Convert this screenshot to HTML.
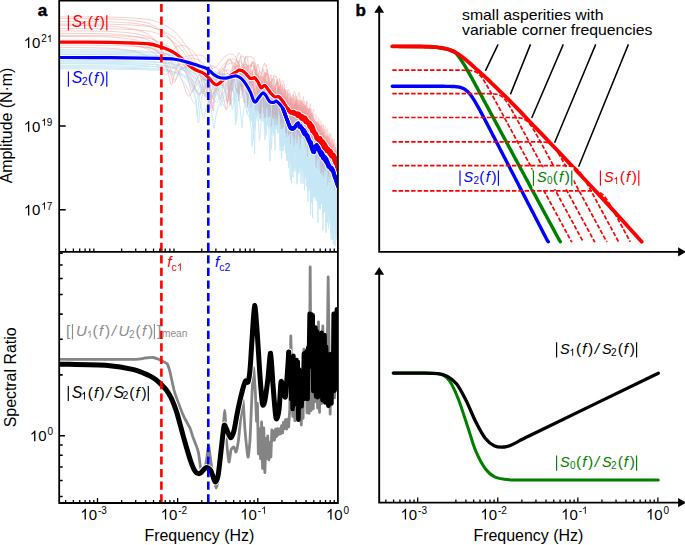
<!DOCTYPE html>
<html><head><meta charset="utf-8"><style>
html,body{margin:0;padding:0;background:#fff;width:685px;height:545px;overflow:hidden}
svg{display:block}
text{font-family:"Liberation Sans",sans-serif}
</style></head><body>
<svg width="685" height="545" viewBox="0 0 685 545">
<defs><clipPath id="cu"><rect x="59.2" y="0.55" width="278.7" height="251.35"/></clipPath>
<clipPath id="cl"><rect x="59.2" y="251.9" width="278.7" height="251.1"/></clipPath></defs>
<path d="M59.2,42.3H65.7M59.2,126.05H65.7M59.2,209.8H65.7M59.2,435.7H64.9M59.2,496.51H62.7M59.2,480.51H62.7M59.2,466.99H62.7M59.2,455.28H62.7M59.2,444.94H62.7M59.2,374.89H62.7M59.2,339.32H62.7M59.2,314.08H62.7M59.2,294.51H62.7M59.2,278.51H62.7M59.2,264.99H62.7M59.2,253.28H62.7" stroke="#000" fill="none" stroke-width="1.6"/>
<g clip-path="url(#cu)" fill="none" stroke-linejoin="round">
<linearGradient id="gr" gradientUnits="userSpaceOnUse" x1="275" y1="0" x2="338" y2="0"><stop offset="0" stop-color="#f09a9a" stop-opacity="0.55"/><stop offset="1" stop-color="#f09a9a" stop-opacity="0.22"/></linearGradient>
<g stroke="url(#gr)" stroke-width="0.9">
<path d="M60,16.85 L63,16.86 L66,16.87 L69,16.87 L72,16.88 L75,16.89 L78,16.9 L81,16.91 L84,16.91 L87,16.92 L90,16.93 L93,16.95 L96,16.96 L99,16.97 L102,16.99 L105,17 L108,17.02 L111,17.07 L114,17.18 L117,17.3 L120,17.42 L123,17.54 L126,17.67 L129,17.81 L132,17.96 L135,18.19 L138,18.43 L141,18.68 L144,18.95 L147,19.24 L150,19.64 L150.8,19.89 L151.6,20.15 L152.4,20.4 L153.2,20.66 L154,20.92 L154.8,21.19 L155.6,21.46 L156.4,21.72 L157.2,22 L158,22.27 L158.8,22.55 L159.6,22.84 L160.4,23.12 L161.2,23.47 L162,23.86 L162.8,24.25 L163.6,24.64 L164.4,25.04 L165.2,25.45 L166,25.86 L166.8,26.27 L167.6,26.69 L168.4,27.12 L169.2,27.56 L170,28.1 L170.8,28.71 L171.6,29.33 L172.4,29.96 L173.2,30.6 L174,31.25 L174.8,31.9 L175.6,32.57 L176.4,33.33 L177.2,34.23 L178,35.14 L178.8,36.07 L179.6,37.01 L180.4,37.97 L181.2,38.95 L182,39.95 L182.8,40.97 L183.6,42.08 L184.4,43.22 L185.2,44.38 L186,45.58 L186.8,46.8 L187.6,48.06 L188.4,49.35 L189.2,50.69 L190,51.89 L190.8,53.12 L191.6,54.4 L192.4,55.75 L193.2,57.17 L194,58.68 L194.8,60.28 L195.6,61.98 L196.4,63.68 L197.2,65.43 L198,67.35 L198.8,69.42 L199.6,71.65 L200.4,73.97 L201.2,76.19 L202,77.94 L202.8,78.76 L203.6,78.48 L204.4,77.27 L205.2,75.71 L206,74.29 L206.8,72.97 L207.6,71.82 L208.4,70.84 L209.2,70.01 L210,69.38 L210.8,68.98 L211.6,68.69 L212.4,68.5 L213.2,68.4 L214,67.95 L214.8,67.57 L215.6,67.26 L216.4,66.69 L217.2,65.66 L218,64.68 L218.8,63.76 L219.6,62.66 L220.4,61.54 L221.2,60.48 L222,59.47 L222.8,58.62 L223.6,57.83 L224.4,57.1 L225.2,56.43 L226,55.82 L226.8,55.27 L227.6,54.8 L228.4,54.45 L229.2,54.24 L230,54.11 L230.8,54.1 L231.6,54.19 L232.4,54.33 L233.2,54.77 L234,55.25 L234.8,56.13 L235.6,56.98 L236.4,58.53 L237.2,60.22 L238,62.84 L238.8,65.82 L239.6,70.9 L240.4,76.78 L241.2,77.92 L242,72.67 L242.8,67.13 L243.6,63.66 L244.4,60.99 L245.2,59.24 L246,57.05 L246.8,56.31 L247.6,56.78 L248.4,57.4 L249.2,55.96 L250,56.36 L250.5,56.72 L251,56.48 L251.5,56.76 L252,57.02 L252.5,58.01 L253,57.92 L253.5,58.49 L254,58.47 L254.5,60.3 L255,62.56 L255.5,64.12 L256,66.11 L256.5,68.59 L257,73.24 L257.5,77.91 L258,83.88 L258.5,89.47 L259,89.71 L259.5,83.97 L260,79.76 L260.5,77.46 L261,74.52 L261.5,72.58 L262,71.4 L262.5,68.15 L263,67.12 L263.5,66.4 L264,64.54 L264.5,63.18 L265,64.74 L265.5,65.91 L266,64.91 L266.5,67.25 L267,68.73 L267.5,72.16 L268,72.39 L268.5,76.75 L269,80.04 L269.5,86.35 L270,95.73 L270.5,100.37 L271,92.72 L271.5,86.09 L272,81.21 L272.5,80.59 L273,79.14 L273.5,76.48 L274,75.41 L274.5,76.69 L275,76.1 L275.5,76.1 L276,77.34 L276.5,76.76 L277,78.66 L277.5,82.39 L278,85.38 L278.5,93.31 L279,104.57 L279.5,100.18 L280,91.46 L280.5,84.41 L281,82.67 L281.5,81.33 L282,81.11 L282.5,81.14 L283,80.56 L283.5,82.19 L284,83.45 L284.5,87.71 L285,92.37 L285.5,99.56 L286,113.77 L286.5,108.6 L287,100.21 L287.5,93.9 L288,90.71 L288.5,89.95 L289,90.31 L289.5,90.83 L290,92.57 L290.5,95.12 L291,99.94 L291.5,112.23 L292,121.91 L292.5,105.21 L293,99.68 L293.5,93.62 L294,92.75 L294.5,91.18 L295,92.92 L295.5,94.28 L296,99.53 L296.5,110.23 L297,122.12 L297.5,103.72 L298,100.46 L298.5,92.88 L299,92.51 L299.5,94.37 L300,98.37 L300.5,103.32 L301,115.27 L301.5,119.11 L302,104.89 L302.5,99.33 L303,98.29 L303.5,96.68 L304,103.07 L304.5,108.52 L305,123.27 L305.5,114.56 L306,104.54 L306.5,101.48 L307,100.74 L307.5,101.82 L308,108.33 L308.5,128.73 L309,115.27 L309.5,106.59 L310,106.11 L310.5,103.57 L311,110.68 L311.5,123.73 L312,130.08 L312.5,115.14 L313,109.83 L313.5,108.99 L314,117.38 L314.5,132.9 L315,129 L315.5,118.53 L316,114.36 L316.5,116.72 L317,125.69 L317.5,140.12 L318,123.11 L318.5,117.11 L319,120.07 L319.5,130.89 L320,143.07 L320.5,123.25 L321,120.48 L321.5,123.06 L322,138.82 L322.5,135.05 L323,125.65 L323.5,124.02 L324,133.46 L324.5,144.48 L325,130.72 L325.5,125.77 L326,133.66 L326.5,150.08 L327,131.96 L327.5,128.43 L328,135.59 L328.5,147.88 L329,132.26 L329.5,132.01 L330,147.76 L330.5,140.9 L331,133.39 L331.5,139.95 L332,157.79 L332.5,137.6 L333,137.91 L333.5,160.78 L334,141.02 L334.5,138.35 L335,152.65 L335.5,146.77 L336,143.44 L336.5,156.73 L337,149.54 L337.5,147.56 L338,166.18 L338.5,154"/>
<path d="M60,18.55 L63,18.55 L66,18.56 L69,18.57 L72,18.59 L75,18.6 L78,18.61 L81,18.63 L84,18.64 L87,18.66 L90,18.68 L93,18.7 L96,18.73 L99,18.76 L102,18.8 L105,18.84 L108,18.89 L111,18.97 L114,19.13 L117,19.3 L120,19.48 L123,19.68 L126,19.91 L129,20.15 L132,20.43 L135,20.82 L138,21.25 L141,21.74 L144,22.3 L147,22.93 L150,23.75 L150.8,24.12 L151.6,24.51 L152.4,24.91 L153.2,25.32 L154,25.73 L154.8,26.16 L155.6,26.6 L156.4,27.06 L157.2,27.52 L158,28 L158.8,28.5 L159.6,29.01 L160.4,29.54 L161.2,30.15 L162,30.81 L162.8,31.49 L163.6,32.19 L164.4,32.91 L165.2,33.66 L166,34.44 L166.8,35.25 L167.6,36.08 L168.4,36.95 L169.2,37.86 L170,38.9 L170.8,40.05 L171.6,41.23 L172.4,42.45 L173.2,43.72 L174,45.03 L174.8,46.37 L175.6,47.74 L176.4,49.19 L177.2,50.75 L178,52.24 L178.8,53.62 L179.6,54.82 L180.4,55.78 L181.2,56.45 L182,56.83 L182.8,56.96 L183.6,56.97 L184.4,56.85 L185.2,56.67 L186,56.45 L186.8,56.25 L187.6,56.06 L188.4,55.92 L189.2,55.82 L190,55.59 L190.8,55.38 L191.6,55.21 L192.4,55.1 L193.2,55.03 L194,55.01 L194.8,55.03 L195.6,55.09 L196.4,55.07 L197.2,55.02 L198,55 L198.8,55.03 L199.6,55.11 L200.4,55.23 L201.2,55.39 L202,55.6 L202.8,55.93 L203.6,56.43 L204.4,56.98 L205.2,57.66 L206,58.6 L206.8,59.61 L207.6,60.7 L208.4,61.87 L209.2,63.13 L210,64.56 L210.8,66.2 L211.6,67.97 L212.4,69.91 L213.2,72.03 L214,73.94 L214.8,76.12 L215.6,78.63 L216.4,81.17 L217.2,83.48 L218,85.59 L218.8,86.25 L219.6,84.3 L220.4,80.92 L221.2,77.42 L222,74.25 L222.8,71.57 L223.6,69.26 L224.4,67.26 L225.2,65.54 L226,64.07 L226.8,62.84 L227.6,61.85 L228.4,61.13 L229.2,60.71 L230,60.55 L230.8,60.67 L231.6,61.2 L232.4,61.98 L233.2,63.28 L234,65.43 L234.8,68.33 L235.6,72.23 L236.4,74.95 L237.2,72.49 L238,67.18 L238.8,63.11 L239.6,59.93 L240.4,57.92 L241.2,56.89 L242,56.06 L242.8,55.75 L243.6,57.09 L244.4,58.21 L245.2,61.08 L246,63.84 L246.8,69.14 L247.6,75.55 L248.4,79.78 L249.2,75.25 L250,70.19 L250.5,67.19 L251,65.2 L251.5,64.89 L252,63.51 L252.5,62.99 L253,63.45 L253.5,62.71 L254,64.3 L254.5,65.55 L255,67.32 L255.5,70.07 L256,74.74 L256.5,81.15 L257,84.1 L257.5,81.52 L258,76.73 L258.5,73.95 L259,72.27 L259.5,71.36 L260,71.3 L260.5,72.08 L261,73.36 L261.5,73.22 L262,73.92 L262.5,76.27 L263,79.62 L263.5,84.19 L264,89.18 L264.5,83.16 L265,79.88 L265.5,75.06 L266,72.67 L266.5,73.27 L267,73.16 L267.5,74.89 L268,76.4 L268.5,81.13 L269,84.36 L269.5,92.69 L270,93.34 L270.5,86.78 L271,81.55 L271.5,81.2 L272,78.28 L272.5,80.18 L273,81.67 L273.5,84.53 L274,87.82 L274.5,98.12 L275,97.2 L275.5,90.3 L276,84.75 L276.5,84.39 L277,81.16 L277.5,82.23 L278,85.33 L278.5,89 L279,99.23 L279.5,94.83 L280,88.52 L280.5,84.72 L281,86.1 L281.5,87.46 L282,90.23 L282.5,96.23 L283,106.23 L283.5,99.47 L284,93.79 L284.5,90.83 L285,90.31 L285.5,95.51 L286,102.32 L286.5,111.03 L287,101.04 L287.5,94.28 L288,92.68 L288.5,94.53 L289,101.74 L289.5,113.18 L290,106.5 L290.5,99.85 L291,99.27 L291.5,97.22 L292,103.72 L292.5,114.62 L293,107.92 L293.5,98.78 L294,99.8 L294.5,102.27 L295,111.05 L295.5,110.36 L296,101.01 L296.5,99.42 L297,102.23 L297.5,113.87 L298,110.93 L298.5,100.87 L299,101.59 L299.5,104.69 L300,118.01 L300.5,106.48 L301,100.97 L301.5,103.2 L302,113.97 L302.5,113.02 L303,105.02 L303.5,103.74 L304,116.01 L304.5,114.23 L305,104.39 L305.5,104.81 L306,118.27 L306.5,113.14 L307,106.87 L307.5,113.52 L308,127.29 L308.5,111.48 L309,107.96 L309.5,118.12 L310,118.59 L310.5,110.5 L311,112.84 L311.5,128.46 L312,113.06 L312.5,118.99 L313,133.29 L313.5,118.91 L314,118.87 L314.5,135.3 L315,120.58 L315.5,121.02 L316,137.53 L316.5,122.04 L317,123.45 L317.5,135.75 L318,123.89 L318.5,132.82 L319,130.6 L319.5,124.77 L320,140.75 L320.5,127 L321,132.86 L321.5,132.23 L322,128.68 L322.5,143.38 L323,128.12 L323.5,144.34 L324,132.52 L324.5,138.48 L325,137.38 L325.5,136.47 L326,139.99 L326.5,135.66 L327,144 L327.5,135.8 L328,144.19 L328.5,135.75 L329,144.1 L329.5,138.32 L330,145.27 L330.5,141.57 L331,144.58 L331.5,144.6 L332,138.98 L332.5,152.62 L333,141.53 L333.5,155.9 L334,142.8 L334.5,147.09 L335,155.32 L335.5,146.92 L336,160.18 L336.5,150.82 L337,152.43 L337.5,171.63 L338,156.57 L338.5,155.54"/>
<path d="M60,21.49 L63,21.5 L66,21.51 L69,21.52 L72,21.53 L75,21.54 L78,21.55 L81,21.56 L84,21.57 L87,21.59 L90,21.61 L93,21.63 L96,21.65 L99,21.67 L102,21.7 L105,21.74 L108,21.78 L111,21.85 L114,22 L117,22.15 L120,22.31 L123,22.49 L126,22.69 L129,22.9 L132,23.14 L135,23.49 L138,23.86 L141,24.28 L144,24.76 L147,25.29 L150,25.98 L150.8,26.32 L151.6,26.67 L152.4,27.02 L153.2,27.38 L154,27.75 L154.8,28.13 L155.6,28.52 L156.4,28.91 L157.2,29.32 L158,29.74 L158.8,30.16 L159.6,30.6 L160.4,31.05 L161.2,31.57 L162,32.14 L162.8,32.72 L163.6,33.31 L164.4,33.93 L165.2,34.56 L166,35.2 L166.8,35.87 L167.6,36.55 L168.4,37.26 L169.2,37.99 L170,38.84 L170.8,39.78 L171.6,40.75 L172.4,41.75 L173.2,42.78 L174,43.84 L174.8,44.95 L175.6,46.09 L176.4,47.35 L177.2,48.79 L178,50.29 L178.8,51.84 L179.6,53.46 L180.4,55.14 L181.2,56.92 L182,58.78 L182.8,60.75 L183.6,62.91 L184.4,65.21 L185.2,67.67 L186,70.32 L186.8,73.19 L187.6,76.32 L188.4,79.72 L189.2,83.4 L190,87 L190.8,90.19 L191.6,92.04 L192.4,91.8 L193.2,89.9 L194,87.38 L194.8,84.87 L195.6,82.6 L196.4,80.49 L197.2,78.56 L198,76.88 L198.8,75.39 L199.6,74.08 L200.4,72.93 L201.2,71.9 L202,70.99 L202.8,70.26 L203.6,69.73 L204.4,69.3 L205.2,69 L206,68.99 L206.8,69.05 L207.6,69.18 L208.4,69.37 L209.2,69.63 L210,70 L210.8,70.54 L211.6,71.15 L212.4,71.81 L213.2,72.55 L214,72.92 L214.8,73.36 L215.6,73.88 L216.4,74.16 L217.2,74 L218,73.93 L218.8,73.98 L219.6,73.91 L220.4,73.9 L221.2,74.04 L222,74.37 L222.8,75 L223.6,75.89 L224.4,77.08 L225.2,78.66 L226,80.75 L226.8,83.54 L227.6,87.37 L228.4,92.86 L229.2,100.68 L230,105.38 L230.8,97.13 L231.6,88.65 L232.4,82.42 L233.2,77.5 L234,73.67 L234.8,70.49 L235.6,67.87 L236.4,65.91 L237.2,63.97 L238,62.31 L238.8,61.16 L239.6,61.31 L240.4,61.04 L241.2,61.73 L242,62.96 L242.8,64.9 L243.6,67.54 L244.4,70.45 L245.2,74.76 L246,81.24 L246.8,91.95 L247.6,105.94 L248.4,96.19 L249.2,86.39 L250,80.34 L250.5,76.65 L251,74.4 L251.5,73.12 L252,71.97 L252.5,70.35 L253,70.4 L253.5,68.42 L254,68.86 L254.5,68.48 L255,70.06 L255.5,71.53 L256,72.95 L256.5,75.65 L257,79.13 L257.5,81.87 L258,87.19 L258.5,94.6 L259,106.44 L259.5,113.61 L260,101.65 L260.5,95.35 L261,89.37 L261.5,84.56 L262,83.11 L262.5,79.54 L263,78.93 L263.5,78.14 L264,76.05 L264.5,75.85 L265,78.7 L265.5,78.81 L266,82.09 L266.5,86.5 L267,92.4 L267.5,103.15 L268,117.6 L268.5,109.04 L269,100.22 L269.5,93.27 L270,88.81 L270.5,88.1 L271,86.17 L271.5,85.77 L272,84.99 L272.5,86.73 L273,90.32 L273.5,93.14 L274,97.89 L274.5,106.12 L275,125.4 L275.5,114.59 L276,102.96 L276.5,95.92 L277,91.99 L277.5,88.8 L278,88.08 L278.5,87.46 L279,90.3 L279.5,94.23 L280,100.69 L280.5,111.52 L281,129.01 L281.5,109.06 L282,99.14 L282.5,95.9 L283,94.73 L283.5,93.53 L284,97.47 L284.5,99.82 L285,107.23 L285.5,119.27 L286,133.05 L286.5,112.18 L287,106.27 L287.5,101.29 L288,99.91 L288.5,102.17 L289,105.46 L289.5,112.53 L290,127.06 L290.5,132.55 L291,111.34 L291.5,108.19 L292,103.45 L292.5,105.11 L293,107.28 L293.5,115.32 L294,137.52 L294.5,122.95 L295,108.22 L295.5,104.77 L296,101.69 L296.5,106.43 L297,114.1 L297.5,138.03 L298,122.52 L298.5,111.59 L299,105.19 L299.5,107.77 L300,112.34 L300.5,128.6 L301,135.41 L301.5,115.7 L302,110.37 L302.5,108.34 L303,114.44 L303.5,136.3 L304,125.74 L304.5,113.78 L305,111.17 L305.5,114.44 L306,124.35 L306.5,140.92 L307,119.21 L307.5,114.97 L308,115.72 L308.5,127.39 L309,143.7 L309.5,121.97 L310,115.89 L310.5,121.13 L311,140.11 L311.5,132.68 L312,118.92 L312.5,121.42 L313,132.5 L313.5,145.67 L314,126.24 L314.5,122.96 L315,132.64 L315.5,154.95 L316,132.63 L316.5,129.03 L317,137.19 L317.5,151.97 L318,130.77 L318.5,132.89 L319,151.15 L319.5,142.89 L320,133.06 L320.5,138.11 L321,161.14 L321.5,135.86 L322,136.5 L322.5,166.48 L323,143.48 L323.5,136.97 L324,158.49 L324.5,145.37 L325,139 L325.5,154.86 L326,146.68 L326.5,141.08 L327,162.19 L327.5,145.11 L328,143.1 L328.5,182.52 L329,145.62 L329.5,147.66 L330,162.46 L330.5,144.32 L331,162.41 L331.5,151.53 L332,149.97 L332.5,167.12 L333,147.68 L333.5,169.06 L334,152.22 L334.5,159.85 L335,154.95 L335.5,150.97 L336,168.83 L336.5,156.73 L337,188.35 L337.5,159.73 L338,198.87 L338.5,159.91"/>
<path d="M60,24 L63,24.01 L66,24.01 L69,24.02 L72,24.03 L75,24.04 L78,24.04 L81,24.05 L84,24.06 L87,24.07 L90,24.08 L93,24.09 L96,24.1 L99,24.11 L102,24.13 L105,24.14 L108,24.16 L111,24.21 L114,24.32 L117,24.43 L120,24.55 L123,24.67 L126,24.79 L129,24.92 L132,25.06 L135,25.28 L138,25.51 L141,25.75 L144,26 L147,26.27 L150,26.64 L150.8,26.89 L151.6,27.14 L152.4,27.38 L153.2,27.63 L154,27.89 L154.8,28.14 L155.6,28.4 L156.4,28.66 L157.2,28.92 L158,29.18 L158.8,29.45 L159.6,29.72 L160.4,29.99 L161.2,30.33 L162,30.7 L162.8,31.07 L163.6,31.45 L164.4,31.83 L165.2,32.22 L166,32.61 L166.8,33 L167.6,33.4 L168.4,33.81 L169.2,34.22 L170,34.74 L170.8,35.32 L171.6,35.91 L172.4,36.51 L173.2,37.11 L174,37.73 L174.8,38.35 L175.6,38.98 L176.4,39.7 L177.2,40.55 L178,41.42 L178.8,42.3 L179.6,43.19 L180.4,44.09 L181.2,45.01 L182,45.95 L182.8,46.91 L183.6,47.95 L184.4,49.01 L185.2,50.09 L186,51.19 L186.8,52.32 L187.6,53.48 L188.4,54.66 L189.2,55.88 L190,56.95 L190.8,58.04 L191.6,59.17 L192.4,60.35 L193.2,61.59 L194,62.89 L194.8,64.26 L195.6,65.72 L196.4,67.15 L197.2,68.62 L198,70.22 L198.8,72 L199.6,73.99 L200.4,76.25 L201.2,78.86 L202,81.95 L202.8,85.75 L203.6,90.44 L204.4,95.29 L205.2,96.89 L206,93.82 L206.8,89.93 L207.6,86.75 L208.4,84.28 L209.2,82.36 L210,80.9 L210.8,79.84 L211.6,79.02 L212.4,78.39 L213.2,77.92 L214,77.15 L214.8,76.49 L215.6,75.93 L216.4,75.14 L217.2,73.9 L218,72.74 L218.8,71.64 L219.6,70.37 L220.4,69.09 L221.2,67.87 L222,66.71 L222.8,65.71 L223.6,64.76 L224.4,63.87 L225.2,63.03 L226,62.26 L226.8,61.54 L227.6,60.88 L228.4,60.33 L229.2,59.9 L230,59.54 L230.8,59.26 L231.6,59.05 L232.4,58.88 L233.2,58.96 L234,59.1 L234.8,59.27 L235.6,59.66 L236.4,60.02 L237.2,61.17 L238,62.04 L238.8,63.3 L239.6,65.94 L240.4,69.13 L241.2,73.47 L242,79.95 L242.8,91.53 L243.6,91.67 L244.4,81.32 L245.2,75.51 L246,71.68 L246.8,69.56 L247.6,67.62 L248.4,66.06 L249.2,65.43 L250,65.51 L250.5,63.95 L251,63.9 L251.5,63.96 L252,64.19 L252.5,62.64 L253,62.85 L253.5,62.89 L254,62.93 L254.5,63.43 L255,64.67 L255.5,65.71 L256,68.17 L256.5,69 L257,69.09 L257.5,70.94 L258,74.18 L258.5,77.2 L259,81.69 L259.5,86.01 L260,92.32 L260.5,101.41 L261,113.35 L261.5,100.75 L262,91.87 L262.5,86.93 L263,81.62 L263.5,80.13 L264,77.41 L264.5,76.98 L265,73.96 L265.5,72.43 L266,72.9 L266.5,73.3 L267,73.18 L267.5,73.38 L268,74.84 L268.5,75.19 L269,78.67 L269.5,78.38 L270,82.36 L270.5,85.57 L271,88.81 L271.5,94.64 L272,101.29 L272.5,116.36 L273,109.64 L273.5,98.31 L274,93.19 L274.5,90.17 L275,88.5 L275.5,84.43 L276,83.43 L276.5,82.26 L277,83.19 L277.5,81.74 L278,83.71 L278.5,83.09 L279,84.63 L279.5,87.49 L280,90.43 L280.5,95.34 L281,107.85 L281.5,122.93 L282,107.79 L282.5,98.77 L283,95.44 L283.5,92.45 L284,90.97 L284.5,89.27 L285,89.88 L285.5,93.87 L286,93.28 L286.5,95.78 L287,100.94 L287.5,105.61 L288,116.29 L288.5,134.6 L289,113.38 L289.5,105.22 L290,101.41 L290.5,99.01 L291,99.01 L291.5,98.97 L292,98.31 L292.5,100.61 L293,102.49 L293.5,110.41 L294,126.37 L294.5,121.85 L295,109.76 L295.5,103.14 L296,100.43 L296.5,100.16 L297,98.8 L297.5,102.99 L298,106.64 L298.5,113.04 L299,126.3 L299.5,120.89 L300,110.18 L300.5,105.82 L301,103.26 L301.5,102.71 L302,104.4 L302.5,107.64 L303,116.64 L303.5,138.71 L304,119.96 L304.5,111.04 L305,105.93 L305.5,110.06 L306,107.18 L306.5,111.41 L307,119.43 L307.5,143.1 L308,118.97 L308.5,113.52 L309,109.49 L309.5,112.27 L310,113.34 L310.5,124.85 L311,142.66 L311.5,121.88 L312,117.01 L312.5,113.13 L313,118.22 L313.5,125.07 L314,146.97 L314.5,129.09 L315,121.45 L315.5,120.95 L316,124.45 L316.5,130.18 L317,161.32 L317.5,130.97 L318,121.85 L318.5,125.33 L319,129.48 L319.5,147 L320,140.52 L320.5,128.78 L321,126.79 L321.5,133.41 L322,149.99 L322.5,140.66 L323,131.16 L323.5,131.06 L324,138.3 L324.5,170.06 L325,136.57 L325.5,134.91 L326,136.12 L326.5,154.22 L327,145.57 L327.5,135.74 L328,138.48 L328.5,154.15 L329,149.09 L329.5,138.09 L330,141.78 L330.5,159.28 L331,146.29 L331.5,139.42 L332,145.65 L332.5,175.28 L333,146.78 L333.5,144.66 L334,158.05 L334.5,155.01 L335,146.69 L335.5,151.3 L336,168.65 L336.5,148.6 L337,155.17 L337.5,180.49 L338,156.78 L338.5,157.86"/>
<path d="M60,25.39 L63,25.4 L66,25.41 L69,25.43 L72,25.45 L75,25.47 L78,25.49 L81,25.52 L84,25.55 L87,25.59 L90,25.63 L93,25.68 L96,25.73 L99,25.8 L102,25.88 L105,25.97 L108,26.08 L111,26.23 L114,26.47 L117,26.74 L120,27.04 L123,27.39 L126,27.78 L129,28.23 L132,28.76 L135,29.46 L138,30.26 L141,31.22 L144,32.35 L147,33.71 L150,35.46 L150.8,36.13 L151.6,36.83 L152.4,37.57 L153.2,38.34 L154,39.15 L154.8,40 L155.6,40.9 L156.4,41.85 L157.2,42.85 L158,43.92 L158.8,45.04 L159.6,46.22 L160.4,47.46 L161.2,48.81 L162,50.24 L162.8,51.68 L163.6,53.08 L164.4,54.36 L165.2,55.43 L166,56.15 L166.8,56.45 L167.6,56.29 L168.4,55.71 L169.2,54.83 L170,53.86 L170.8,52.87 L171.6,51.85 L172.4,50.86 L173.2,49.92 L174,49.04 L174.8,48.23 L175.6,47.5 L176.4,46.91 L177.2,46.52 L178,46.2 L178.8,45.94 L179.6,45.74 L180.4,45.6 L181.2,45.52 L182,45.5 L182.8,45.54 L183.6,45.7 L184.4,45.91 L185.2,46.19 L186,46.52 L186.8,46.9 L187.6,47.35 L188.4,47.86 L189.2,48.43 L190,48.9 L190.8,49.4 L191.6,49.99 L192.4,50.66 L193.2,51.42 L194,52.28 L194.8,53.25 L195.6,54.35 L196.4,55.46 L197.2,56.66 L198,58.04 L198.8,59.65 L199.6,61.53 L200.4,63.74 L201.2,66.36 L202,69.48 L202.8,73.23 L203.6,77.42 L204.4,80.56 L205.2,80.37 L206,77.59 L206.8,74.38 L207.6,71.64 L208.4,69.49 L209.2,67.86 L210,66.72 L210.8,66.05 L211.6,65.71 L212.4,65.67 L213.2,65.93 L214,66.02 L214.8,66.41 L215.6,67.11 L216.4,67.83 L217.2,68.4 L218,69.43 L218.8,71.03 L219.6,73.16 L220.4,76.25 L221.2,80.76 L222,86.13 L222.8,85.86 L223.6,79.06 L224.4,72.85 L225.2,68.16 L226,64.63 L226.8,61.99 L227.6,60.09 L228.4,58.93 L229.2,58.48 L230,58.76 L230.8,59.88 L231.6,62.1 L232.4,65.84 L233.2,72.04 L234,79.61 L234.8,74.02 L235.6,65.48 L236.4,59.88 L237.2,56.22 L238,53.78 L238.8,52.67 L239.6,53.07 L240.4,55.68 L241.2,59.79 L242,66.76 L242.8,77.22 L243.6,70.23 L244.4,61.9 L245.2,57.81 L246,56.18 L246.8,57.26 L247.6,59.37 L248.4,64.77 L249.2,74.81 L250,84.18 L250.5,76.03 L251,69.34 L251.5,65.1 L252,61.51 L252.5,60.89 L253,60.92 L253.5,61.47 L254,62.77 L254.5,66.86 L255,73.22 L255.5,83.51 L256,81.37 L256.5,72.35 L257,66.92 L257.5,64.37 L258,64.2 L258.5,66.94 L259,66.7 L259.5,72.34 L260,80 L260.5,91.63 L261,88.25 L261.5,78.52 L262,72.91 L262.5,69.43 L263,68.48 L263.5,69.72 L264,73.17 L264.5,80.61 L265,91.77 L265.5,83.26 L266,75.02 L266.5,70.9 L267,69.38 L267.5,71.27 L268,76.63 L268.5,86.66 L269,95.21 L269.5,83.9 L270,76.03 L270.5,76.11 L271,74.77 L271.5,81.13 L272,89.71 L272.5,97.95 L273,85.46 L273.5,79.52 L274,78.18 L274.5,81.09 L275,87.58 L275.5,101.98 L276,90 L276.5,82.48 L277,79.61 L277.5,79.38 L278,87.92 L278.5,101.78 L279,86.16 L279.5,78.42 L280,79.63 L280.5,84.92 L281,100.78 L281.5,94.87 L282,84.54 L282.5,83.68 L283,89.66 L283.5,105.85 L284,96.72 L284.5,88.78 L285,88.78 L285.5,96.53 L286,113.01 L286.5,94.75 L287,89.93 L287.5,94.53 L288,112.33 L288.5,99.81 L289,93.14 L289.5,94.69 L290,111.13 L290.5,104.41 L291,96.37 L291.5,99.61 L292,116.62 L292.5,100.44 L293,94.57 L293.5,97.8 L294,116.19 L294.5,96.45 L295,96.28 L295.5,111.07 L296,104.61 L296.5,96.27 L297,102.15 L297.5,110.95 L298,100.04 L298.5,102.51 L299,118.45 L299.5,99.45 L300,99.34 L300.5,119.19 L301,99.94 L301.5,102.65 L302,115.77 L302.5,101.36 L303,108.39 L303.5,110.26 L304,100.94 L304.5,119.1 L305,105.34 L305.5,105.05 L306,118.51 L306.5,102.19 L307,115.97 L307.5,108.65 L308,108.54 L308.5,119.09 L309,108.03 L309.5,130.04 L310,107.92 L310.5,123.44 L311,108.7 L311.5,117.92 L312,114.82 L312.5,115.75 L313,119.29 L313.5,115.58 L314,121.48 L314.5,120.2 L315,121.86 L315.5,122.82 L316,121.64 L316.5,125.86 L317,122.78 L317.5,134.2 L318,122.03 L318.5,147.01 L319,124.16 L319.5,132.18 L320,129.77 L320.5,125.63 L321,144.76 L321.5,124.97 L322,136.39 L322.5,134.99 L323,124.98 L323.5,141.75 L324,132.99 L324.5,128.8 L325,143.74 L325.5,137.68 L326,130.04 L326.5,138.06 L327,149.58 L327.5,133.58 L328,135.12 L328.5,144.69 L329,150.43 L329.5,137.69 L330,134.52 L330.5,142.03 L331,155.28 L331.5,152.1 L332,140.79 L332.5,139.45 L333,139.63 L333.5,142.69 L334,150.09 L334.5,160.3 L335,164.23 L335.5,154.22 L336,149.85 L336.5,152.33 L337,150.94 L337.5,153.17 L338,154.18 L338.5,152.48"/>
<path d="M60,28.55 L63,28.56 L66,28.57 L69,28.57 L72,28.58 L75,28.59 L78,28.6 L81,28.6 L84,28.61 L87,28.62 L90,28.63 L93,28.64 L96,28.65 L99,28.67 L102,28.68 L105,28.69 L108,28.71 L111,28.76 L114,28.87 L117,28.98 L120,29.1 L123,29.22 L126,29.34 L129,29.47 L132,29.61 L135,29.83 L138,30.06 L141,30.3 L144,30.55 L147,30.82 L150,31.19 L150.8,31.44 L151.6,31.69 L152.4,31.93 L153.2,32.18 L154,32.44 L154.8,32.69 L155.6,32.95 L156.4,33.21 L157.2,33.47 L158,33.73 L158.8,34 L159.6,34.27 L160.4,34.54 L161.2,34.87 L162,35.24 L162.8,35.62 L163.6,35.99 L164.4,36.37 L165.2,36.76 L166,37.15 L166.8,37.54 L167.6,37.94 L168.4,38.35 L169.2,38.76 L170,39.27 L170.8,39.85 L171.6,40.44 L172.4,41.04 L173.2,41.64 L174,42.25 L174.8,42.87 L175.6,43.5 L176.4,44.21 L177.2,45.06 L178,45.92 L178.8,46.79 L179.6,47.68 L180.4,48.58 L181.2,49.49 L182,50.41 L182.8,51.36 L183.6,52.38 L184.4,53.43 L185.2,54.49 L186,55.57 L186.8,56.68 L187.6,57.81 L188.4,58.96 L189.2,60.13 L190,61.16 L190.8,62.19 L191.6,63.25 L192.4,64.34 L193.2,65.48 L194,66.65 L194.8,67.86 L195.6,69.11 L196.4,70.27 L197.2,71.4 L198,72.55 L198.8,73.72 L199.6,74.89 L200.4,76.03 L201.2,77.08 L202,78 L202.8,78.78 L203.6,79.41 L204.4,79.74 L205.2,79.85 L206,79.92 L206.8,79.8 L207.6,79.57 L208.4,79.27 L209.2,78.95 L210,78.71 L210.8,78.58 L211.6,78.5 L212.4,78.46 L213.2,78.47 L214,78.1 L214.8,77.77 L215.6,77.49 L216.4,76.94 L217.2,75.91 L218,74.92 L218.8,73.98 L219.6,72.86 L220.4,71.71 L221.2,70.6 L222,69.54 L222.8,68.63 L223.6,67.77 L224.4,66.97 L225.2,66.21 L226,65.51 L226.8,64.87 L227.6,64.29 L228.4,63.82 L229.2,63.46 L230,63.19 L230.8,62.98 L231.6,62.91 L232.4,62.77 L233.2,62.96 L234,63.37 L234.8,63.61 L235.6,64.25 L236.4,64.79 L237.2,66.07 L238,67.28 L238.8,68.96 L239.6,71.25 L240.4,74.29 L241.2,76.41 L242,77.25 L242.8,75.1 L243.6,73.47 L244.4,71.27 L245.2,69.11 L246,68.21 L246.8,66.9 L247.6,67.04 L248.4,66.01 L249.2,65.92 L250,65.86 L250.5,67.11 L251,64.95 L251.5,65.49 L252,65.59 L252.5,66.2 L253,65.25 L253.5,67.09 L254,65.59 L254.5,67.76 L255,68.06 L255.5,69.23 L256,71.86 L256.5,72.57 L257,75.73 L257.5,77.69 L258,80.99 L258.5,84.73 L259,89.08 L259.5,92.43 L260,90.81 L260.5,89.95 L261,86.58 L261.5,84.69 L262,82.12 L262.5,79.34 L263,78.11 L263.5,76.29 L264,75 L264.5,72.52 L265,73.77 L265.5,75.19 L266,73.08 L266.5,75.14 L267,76.2 L267.5,77.65 L268,79.41 L268.5,81.67 L269,83.21 L269.5,86.66 L270,89.75 L270.5,93.81 L271,98.63 L271.5,99.61 L272,96.08 L272.5,92.21 L273,89.32 L273.5,88.53 L274,86.3 L274.5,85.56 L275,86.99 L275.5,84.16 L276,84.52 L276.5,85.16 L277,83.24 L277.5,85.91 L278,88.37 L278.5,91.63 L279,94.7 L279.5,101.03 L280,105.04 L280.5,101.99 L281,96.34 L281.5,94.24 L282,92.02 L282.5,89.2 L283,86.61 L283.5,90.8 L284,92.93 L284.5,92.92 L285,97.86 L285.5,97.35 L286,103.8 L286.5,110.87 L287,113.58 L287.5,109.92 L288,104.96 L288.5,102.58 L289,101.39 L289.5,99.17 L290,97.66 L290.5,102.24 L291,102.57 L291.5,106.29 L292,107.87 L292.5,117.06 L293,115.92 L293.5,109.68 L294,106.24 L294.5,103 L295,102.53 L295.5,99.6 L296,103.9 L296.5,105.09 L297,111.1 L297.5,119.37 L298,119.38 L298.5,111.4 L299,104.16 L299.5,104.39 L300,103.48 L300.5,104.21 L301,106.54 L301.5,112.33 L302,125.76 L302.5,117.95 L303,110.1 L303.5,108.09 L304,105.19 L304.5,105.96 L305,110.95 L305.5,117.53 L306,126.84 L306.5,118.21 L307,111.02 L307.5,109.14 L308,110.68 L308.5,113.42 L309,121.23 L309.5,132.09 L310,121.39 L310.5,117.01 L311,112.99 L311.5,115.94 L312,121.36 L312.5,132.25 L313,129.2 L313.5,121.29 L314,118.12 L314.5,122.41 L315,128.55 L315.5,143.46 L316,130.1 L316.5,124.31 L317,123.79 L317.5,127.21 L318,138.99 L318.5,135.8 L319,129.81 L319.5,127.01 L320,130.86 L320.5,142.72 L321,138.3 L321.5,132.82 L322,131.61 L322.5,137.93 L323,150.71 L323.5,137.48 L324,132.06 L324.5,132.49 L325,149.27 L325.5,144.22 L326,137.71 L326.5,138.45 L327,148.68 L327.5,147.05 L328,137.26 L328.5,140.78 L329,152.2 L329.5,147.9 L330,141.59 L330.5,142.59 L331,162.91 L331.5,145.72 L332,144.14 L332.5,153.8 L333,153.45 L333.5,143.81 L334,150.1 L334.5,162.38 L335,149.24 L335.5,150.27 L336,168.28 L336.5,155.15 L337,155.89 L337.5,174.4 L338,157.93 L338.5,158.2"/>
<path d="M60,30.87 L63,30.88 L66,30.89 L69,30.9 L72,30.92 L75,30.93 L78,30.95 L81,30.97 L84,30.99 L87,31.01 L90,31.04 L93,31.07 L96,31.11 L99,31.15 L102,31.2 L105,31.25 L108,31.32 L111,31.42 L114,31.6 L117,31.8 L120,32.02 L123,32.26 L126,32.53 L129,32.83 L132,33.18 L135,33.65 L138,34.18 L141,34.79 L144,35.5 L147,36.32 L150,37.38 L150.8,37.83 L151.6,38.3 L152.4,38.79 L153.2,39.29 L154,39.81 L154.8,40.35 L155.6,40.91 L156.4,41.5 L157.2,42.11 L158,42.75 L158.8,43.41 L159.6,44.12 L160.4,44.85 L161.2,45.69 L162,46.6 L162.8,47.57 L163.6,48.59 L164.4,49.67 L165.2,50.82 L166,52.05 L166.8,53.36 L167.6,54.77 L168.4,56.3 L169.2,57.94 L170,59.8 L170.8,61.82 L171.6,63.9 L172.4,65.92 L173.2,67.65 L174,68.75 L174.8,68.98 L175.6,68.37 L176.4,67.27 L177.2,66.05 L178,64.8 L178.8,63.63 L179.6,62.57 L180.4,61.63 L181.2,60.82 L182,60.12 L182.8,59.54 L183.6,59.11 L184.4,58.77 L185.2,58.52 L186,58.33 L186.8,58.22 L187.6,58.16 L188.4,58.17 L189.2,58.24 L190,58.18 L190.8,58.15 L191.6,58.18 L192.4,58.26 L193.2,58.39 L194,58.58 L194.8,58.82 L195.6,59.11 L196.4,59.34 L197.2,59.55 L198,59.83 L198.8,60.17 L199.6,60.59 L200.4,61.08 L201.2,61.67 L202,62.34 L202.8,63.2 L203.6,64.29 L204.4,65.52 L205.2,66.97 L206,68.82 L206.8,70.91 L207.6,73.27 L208.4,76.01 L209.2,79.23 L210,83.17 L210.8,88.13 L211.6,94.04 L212.4,98.43 L213.2,96.32 L214,91.5 L214.8,87.55 L215.6,84.58 L216.4,82.02 L217.2,79.47 L218,77.35 L218.8,75.58 L219.6,73.89 L220.4,72.41 L221.2,71.19 L222,70.24 L222.8,69.67 L223.6,69.39 L224.4,69.43 L225.2,69.85 L226,70.72 L226.8,72.19 L227.6,74.48 L228.4,78.05 L229.2,83.74 L230,91.3 L230.8,87.23 L231.6,78.9 L232.4,73 L233.2,68.86 L234,65.8 L234.8,63.68 L235.6,61.89 L236.4,61.25 L237.2,61.14 L238,61.03 L238.8,62.48 L239.6,65.08 L240.4,69.77 L241.2,78.17 L242,86.9 L242.8,76.61 L243.6,69.88 L244.4,66.02 L245.2,64.42 L246,63.66 L246.8,64.22 L247.6,66.02 L248.4,69.01 L249.2,74.55 L250,83.74 L250.5,92.87 L251,90.15 L251.5,82.03 L252,76.94 L252.5,72.09 L253,70.26 L253.5,67.94 L254,67.06 L254.5,66.9 L255,68.29 L255.5,70.33 L256,73.35 L256.5,77.5 L257,84.91 L257.5,95.97 L258,92.22 L258.5,84.26 L259,79.74 L259.5,77.73 L260,76.77 L260.5,76.97 L261,76.7 L261.5,78.85 L262,80 L262.5,83.68 L263,92.18 L263.5,102.34 L264,89.92 L264.5,81.53 L265,78.22 L265.5,75.89 L266,75.08 L266.5,77.24 L267,79.76 L267.5,83.9 L268,93.12 L268.5,106.06 L269,93.15 L269.5,87.1 L270,83.65 L270.5,81.91 L271,81.98 L271.5,85.51 L272,89.87 L272.5,102.12 L273,106.48 L273.5,94.72 L274,87.16 L274.5,86.71 L275,86.81 L275.5,88.1 L276,95.57 L276.5,107.23 L277,102.5 L277.5,91.7 L278,86.33 L278.5,86.33 L279,87.25 L279.5,94.52 L280,109.21 L280.5,102.05 L281,93.34 L281.5,89.21 L282,89.86 L282.5,94.16 L283,105.44 L283.5,114.7 L284,99.06 L284.5,94.74 L285,95.85 L285.5,99.65 L286,112.71 L286.5,113.61 L287,102.56 L287.5,96.41 L288,99.86 L288.5,109.31 L289,123.63 L289.5,106.36 L290,99.32 L290.5,103.48 L291,109.42 L291.5,125.37 L292,106.35 L292.5,102.72 L293,105.82 L293.5,115.41 L294,114.64 L294.5,103.69 L295,103.06 L295.5,109.76 L296,126.02 L296.5,106.07 L297,102.76 L297.5,109.55 L298,128.31 L298.5,106.84 L299,105.96 L299.5,112.72 L300,125.07 L300.5,110.14 L301,107.68 L301.5,118.45 L302,119.14 L302.5,106.18 L303,111.5 L303.5,133.86 L304,109.95 L304.5,110.1 L305,126.21 L305.5,114.87 L306,106.68 L306.5,122.53 L307,117.21 L307.5,112.82 L308,122.43 L308.5,119.87 L309,114.55 L309.5,128.7 L310,120.84 L310.5,114.53 L311,139.18 L311.5,119.92 L312,119.59 L312.5,137.86 L313,119.81 L313.5,132.21 L314,126.77 L314.5,122.36 L315,143.28 L315.5,123.65 L316,138.09 L316.5,127.55 L317,131.36 L317.5,135.11 L318,129.21 L318.5,146.32 L319,131.14 L319.5,158.23 L320,129.81 L320.5,151.4 L321,131.34 L321.5,148.07 L322,134.51 L322.5,151.06 L323,133.75 L323.5,159.84 L324,134.77 L324.5,162.86 L325,137.07 L325.5,151.6 L326,138.85 L326.5,144.1 L327,147.73 L327.5,138.56 L328,164.96 L328.5,141.17 L329,149.74 L329.5,150.33 L330,145.06 L330.5,163.25 L331,145.17 L331.5,145.46 L332,168.52 L332.5,148.85 L333,145.42 L333.5,164.19 L334,152.58 L334.5,148.84 L335,154.85 L335.5,172.91 L336,153.17 L336.5,151.92 L337,161.86 L337.5,184.98 L338,166.12 L338.5,159.64"/>
<path d="M60,33.32 L63,33.33 L66,33.34 L69,33.35 L72,33.37 L75,33.39 L78,33.4 L81,33.43 L84,33.45 L87,33.48 L90,33.51 L93,33.54 L96,33.59 L99,33.64 L102,33.69 L105,33.76 L108,33.84 L111,33.96 L114,34.16 L117,34.38 L120,34.62 L123,34.89 L126,35.2 L129,35.54 L132,35.94 L135,36.48 L138,37.09 L141,37.79 L144,38.62 L147,39.58 L150,40.81 L150.8,41.32 L151.6,41.84 L152.4,42.39 L153.2,42.95 L154,43.54 L154.8,44.15 L155.6,44.79 L156.4,45.45 L157.2,46.15 L158,46.88 L158.8,47.64 L159.6,48.45 L160.4,49.3 L161.2,50.25 L162,51.3 L162.8,52.4 L163.6,53.57 L164.4,54.82 L165.2,56.15 L166,57.57 L166.8,59.11 L167.6,60.77 L168.4,62.58 L169.2,64.54 L170,66.78 L170.8,69.27 L171.6,71.94 L172.4,74.69 L173.2,77.3 L174,79.33 L174.8,80.2 L175.6,79.68 L176.4,78.17 L177.2,76.31 L178,74.38 L178.8,72.56 L179.6,70.92 L180.4,69.47 L181.2,68.21 L182,67.11 L182.8,66.18 L183.6,65.43 L184.4,64.81 L185.2,64.3 L186,63.88 L186.8,63.56 L187.6,63.31 L188.4,63.15 L189.2,63.06 L190,62.86 L190.8,62.71 L191.6,62.62 L192.4,62.6 L193.2,62.64 L194,62.75 L194.8,62.93 L195.6,63.17 L196.4,63.36 L197.2,63.54 L198,63.8 L198.8,64.14 L199.6,64.56 L200.4,65.08 L201.2,65.7 L202,66.43 L202.8,67.35 L203.6,68.52 L204.4,69.85 L205.2,71.43 L206,73.43 L206.8,75.68 L207.6,78.24 L208.4,81.21 L209.2,84.7 L210,88.96 L210.8,94.36 L211.6,101.22 L212.4,109.09 L213.2,110.9 L214,104.45 L214.8,98.42 L215.6,93.94 L216.4,90.28 L217.2,86.9 L218,84.12 L218.8,81.83 L219.6,79.72 L220.4,77.89 L221.2,76.39 L222,75.22 L222.8,74.48 L223.6,74.08 L224.4,74.06 L225.2,74.46 L226,75.36 L226.8,76.89 L227.6,79.26 L228.4,82.9 L229.2,88.61 L230,97.86 L230.8,104.03 L231.6,92.37 L232.4,83.36 L233.2,77.32 L234,73.11 L234.8,70.23 L235.6,68.11 L236.4,66.35 L237.2,65.54 L238,65.54 L238.8,66.61 L239.6,69.65 L240.4,73.98 L241.2,81.53 L242,95.41 L242.8,93.25 L243.6,80.95 L244.4,74.7 L245.2,70.89 L246,69.19 L246.8,69.28 L247.6,70.69 L248.4,73.66 L249.2,78.36 L250,86.27 L250.5,94.45 L251,107.31 L251.5,99.73 L252,88.8 L252.5,82.24 L253,77.91 L253.5,75.17 L254,73.77 L254.5,72.54 L255,71.83 L255.5,74.08 L256,75.54 L256.5,80.29 L257,85.57 L257.5,95.33 L258,111.43 L258.5,100.8 L259,90.82 L259.5,87 L260,82.64 L260.5,82.87 L261,81.85 L261.5,81.77 L262,82.51 L262.5,85.38 L263,92.14 L263.5,103.54 L264,113.37 L264.5,96.48 L265,89.02 L265.5,83.51 L266,81.66 L266.5,81.35 L267,83.59 L267.5,86.92 L268,92.17 L268.5,107.44 L269,116.84 L269.5,101.03 L270,92.51 L270.5,88.81 L271,86.83 L271.5,88.55 L272,92 L272.5,98.21 L273,116.19 L273.5,113.87 L274,98.57 L274.5,95.74 L275,90.67 L275.5,93.14 L276,93.3 L276.5,104.25 L277,121.03 L277.5,108.04 L278,97.5 L278.5,90.5 L279,92.05 L279.5,96.04 L280,102.58 L280.5,124.24 L281,109.63 L281.5,99.01 L282,95.52 L282.5,96.36 L283,102.27 L283.5,117.16 L284,120.81 L284.5,105.73 L285,100.5 L285.5,103.45 L286,109.1 L286.5,128.42 L287,117.95 L287.5,105.62 L288,103.61 L288.5,106.34 L289,120.06 L289.5,133.48 L290,113.61 L290.5,108.64 L291,107.27 L291.5,121.98 L292,131.9 L292.5,113.25 L293,108.01 L293.5,112.79 L294,131.69 L294.5,121.69 L295,111.63 L295.5,109.83 L296,119.47 L296.5,131.7 L297,110.41 L297.5,110.36 L298,120.85 L298.5,135.34 L299,112.31 L299.5,110.27 L300,121.06 L300.5,130.97 L301,113.01 L301.5,114.8 L302,134.97 L302.5,120.77 L303,111.83 L303.5,119.58 L304,137.48 L304.5,114.18 L305,117.6 L305.5,147.72 L306,116 L306.5,115.03 L307,136.18 L307.5,123.73 L308,116.5 L308.5,137.55 L309,123.51 L309.5,120.45 L310,143.72 L310.5,123.78 L311,123.6 L311.5,155.34 L312,125.19 L312.5,129.97 L313,138.73 L313.5,124.79 L314,146.16 L314.5,131.3 L315,130.23 L315.5,148.23 L316,129.39 L316.5,157.92 L317,131.95 L317.5,141.25 L318,137.1 L318.5,136.52 L319,147.66 L319.5,136.43 L320,158.04 L320.5,136.42 L321,170.84 L321.5,137.25 L322,172.99 L322.5,138.21 L323,172.79 L323.5,139.15 L324,171.68 L324.5,140.83 L325,161.5 L325.5,143.27 L326,151.45 L326.5,146.99 L327,147.79 L327.5,162.43 L328,143.64 L328.5,167.02 L329,149.49 L329.5,151.32 L330,167.63 L330.5,148.23 L331,159.5 L331.5,161.68 L332,152.18 L332.5,164.5 L333,160.62 L333.5,151.5 L334,162.31 L334.5,170.6 L335,156.58 L335.5,157.35 L336,180.52 L336.5,168.98 L337,162.14 L337.5,165.13 L338,181.04 L338.5,184.02"/>
<path d="M60,35.38 L63,35.39 L66,35.39 L69,35.4 L72,35.41 L75,35.42 L78,35.43 L81,35.44 L84,35.45 L87,35.46 L90,35.47 L93,35.48 L96,35.5 L99,35.51 L102,35.53 L105,35.55 L108,35.57 L111,35.63 L114,35.75 L117,35.87 L120,36 L123,36.13 L126,36.28 L129,36.43 L132,36.59 L135,36.84 L138,37.1 L141,37.38 L144,37.69 L147,38.02 L150,38.46 L150.8,38.73 L151.6,39 L152.4,39.27 L153.2,39.54 L154,39.82 L154.8,40.1 L155.6,40.39 L156.4,40.68 L157.2,40.97 L158,41.27 L158.8,41.57 L159.6,41.87 L160.4,42.19 L161.2,42.56 L162,42.97 L162.8,43.39 L163.6,43.82 L164.4,44.25 L165.2,44.69 L166,45.14 L166.8,45.59 L167.6,46.05 L168.4,46.52 L169.2,47 L170,47.6 L170.8,48.26 L171.6,48.93 L172.4,49.62 L173.2,50.32 L174,51.03 L174.8,51.75 L175.6,52.5 L176.4,53.33 L177.2,54.32 L178,55.32 L178.8,56.35 L179.6,57.39 L180.4,58.47 L181.2,59.57 L182,60.69 L182.8,61.86 L183.6,63.13 L184.4,64.44 L185.2,65.78 L186,67.18 L186.8,68.62 L187.6,70.12 L188.4,71.69 L189.2,73.32 L190,74.85 L190.8,76.45 L191.6,78.14 L192.4,79.94 L193.2,81.86 L194,83.9 L194.8,86.07 L195.6,88.33 L196.4,90.5 L197.2,92.48 L198,94.09 L198.8,95.01 L199.6,95 L200.4,94.11 L201.2,92.61 L202,90.83 L202.8,89.06 L203.6,87.47 L204.4,85.99 L205.2,84.7 L206,83.76 L206.8,82.93 L207.6,82.22 L208.4,81.62 L209.2,81.12 L210,80.76 L210.8,80.58 L211.6,80.47 L212.4,80.44 L213.2,80.48 L214,80.15 L214.8,79.87 L215.6,79.66 L216.4,79.19 L217.2,78.25 L218,77.37 L218.8,76.55 L219.6,75.56 L220.4,74.56 L221.2,73.63 L222,72.77 L222.8,72.09 L223.6,71.49 L224.4,70.98 L225.2,70.55 L226,70.24 L226.8,70.03 L227.6,69.95 L228.4,70.06 L229.2,70.37 L230,70.88 L230.8,71.64 L231.6,72.65 L232.4,73.94 L233.2,75.74 L234,78.14 L234.8,81.27 L235.6,85.38 L236.4,90.4 L237.2,93.32 L238,88.82 L238.8,82.4 L239.6,77.68 L240.4,73.23 L241.2,70.54 L242,68.08 L242.8,66.52 L243.6,65.24 L244.4,64.31 L245.2,63.96 L246,64.26 L246.8,64.82 L247.6,65.7 L248.4,66.39 L249.2,68.35 L250,70.3 L250.5,71.06 L251,71.35 L251.5,74.49 L252,76.11 L252.5,78.59 L253,80.84 L253.5,86.25 L254,89.63 L254.5,94.39 L255,99.2 L255.5,95.66 L256,89.84 L256.5,84.57 L257,83.08 L257.5,79.93 L258,78.88 L258.5,76.87 L259,76.2 L259.5,76.37 L260,75.93 L260.5,75.97 L261,76.73 L261.5,78.16 L262,77.17 L262.5,77.54 L263,76.57 L263.5,79.12 L264,81.11 L264.5,83.14 L265,87.17 L265.5,90.35 L266,97.67 L266.5,107.5 L267,105.99 L267.5,99.44 L268,93.05 L268.5,88.27 L269,85.63 L269.5,84.21 L270,82.37 L270.5,81.63 L271,83.68 L271.5,83.32 L272,83.38 L272.5,85.56 L273,88.72 L273.5,90.47 L274,95.47 L274.5,101.76 L275,111.55 L275.5,118.23 L276,106.92 L276.5,98.87 L277,93.93 L277.5,90.97 L278,87.47 L278.5,86 L279,87.83 L279.5,87.51 L280,88.52 L280.5,92.22 L281,96.01 L281.5,103.25 L282,112.3 L282.5,122.09 L283,110.53 L283.5,101.8 L284,98.25 L284.5,97.1 L285,95.83 L285.5,96.84 L286,96.8 L286.5,100.83 L287,104.18 L287.5,111.49 L288,125.57 L288.5,123.38 L289,111.85 L289.5,107.84 L290,102.63 L290.5,103.64 L291,102.13 L291.5,101.74 L292,107.42 L292.5,113.64 L293,127.77 L293.5,123.16 L294,112.65 L294.5,108.39 L295,104.55 L295.5,102.37 L296,103.31 L296.5,109.37 L297,117.43 L297.5,132.92 L298,119.38 L298.5,111.96 L299,107.49 L299.5,104.44 L300,106.32 L300.5,109.47 L301,121.47 L301.5,136.31 L302,117.77 L302.5,112.28 L303,108.59 L303.5,109.83 L304,112.37 L304.5,123.9 L305,137.05 L305.5,119.87 L306,113.23 L306.5,109.57 L307,114.73 L307.5,120.15 L308,140.29 L308.5,125.01 L309,118.38 L309.5,114.84 L310,116.8 L310.5,127.3 L311,147.42 L311.5,127.77 L312,118.57 L312.5,119.37 L313,124.05 L313.5,144.32 L314,131.59 L314.5,124.82 L315,122.22 L315.5,127.52 L316,150.2 L316.5,137.62 L317,126.72 L317.5,127.25 L318,135.46 L318.5,158.91 L319,133.2 L319.5,129.81 L320,133.56 L320.5,154.78 L321,141.63 L321.5,133.16 L322,134.29 L322.5,151.51 L323,144.58 L323.5,135.79 L324,136.07 L324.5,155.01 L325,146.66 L325.5,135.75 L326,145.03 L326.5,167.83 L327,141.24 L327.5,142.53 L328,153.56 L328.5,151.51 L329,142.02 L329.5,147.44 L330,161.65 L330.5,143.28 L331,144.37 L331.5,172.87 L332,144.44 L332.5,146.63 L333,175.42 L333.5,148.7 L334,150.41 L334.5,170.95 L335,148.23 L335.5,157.68 L336,162.96 L336.5,151.87 L337,171.32 L337.5,162.36 L338,162.48 L338.5,183.24"/>
<path d="M60,36.46 L63,36.48 L66,36.49 L69,36.5 L72,36.52 L75,36.54 L78,36.56 L81,36.58 L84,36.6 L87,36.63 L90,36.67 L93,36.71 L96,36.75 L99,36.8 L102,36.86 L105,36.94 L108,37.02 L111,37.15 L114,37.36 L117,37.59 L120,37.84 L123,38.13 L126,38.45 L129,38.82 L132,39.25 L135,39.82 L138,40.47 L141,41.23 L144,42.13 L147,43.19 L150,44.56 L150.8,45.11 L151.6,45.68 L152.4,46.28 L153.2,46.91 L154,47.56 L154.8,48.25 L155.6,48.97 L156.4,49.73 L157.2,50.53 L158,51.38 L158.8,52.29 L159.6,53.25 L160.4,54.29 L161.2,55.46 L162,56.76 L162.8,58.16 L163.6,59.69 L164.4,61.36 L165.2,63.22 L166,65.3 L166.8,67.65 L167.6,70.35 L168.4,73.48 L169.2,77.08 L170,81.09 L170.8,84.44 L171.6,84.87 L172.4,82.23 L173.2,78.71 L174,75.45 L174.8,72.67 L175.6,70.33 L176.4,68.42 L177.2,66.93 L178,65.68 L178.8,64.61 L179.6,63.7 L180.4,62.94 L181.2,62.29 L182,61.75 L182.8,61.31 L183.6,61.02 L184.4,60.8 L185.2,60.67 L186,60.6 L186.8,60.59 L187.6,60.65 L188.4,60.77 L189.2,60.95 L190,61.02 L190.8,61.11 L191.6,61.27 L192.4,61.49 L193.2,61.78 L194,62.13 L194.8,62.56 L195.6,63.06 L196.4,63.52 L197.2,63.98 L198,64.54 L198.8,65.2 L199.6,65.98 L200.4,66.9 L201.2,67.96 L202,69.2 L202.8,70.72 L203.6,72.61 L204.4,74.82 L205.2,77.51 L206,80.97 L206.8,85.25 L207.6,90.85 L208.4,98.85 L209.2,110.05 L210,106.52 L210.8,97.6 L211.6,92.09 L212.4,88.47 L213.2,85.97 L214,83.78 L214.8,82.14 L215.6,80.93 L216.4,79.77 L217.2,78.4 L218,77.34 L218.8,76.57 L219.6,75.87 L220.4,75.42 L221.2,75.32 L222,75.63 L222.8,76.53 L223.6,78.07 L224.4,80.48 L225.2,84.24 L226,90.51 L226.8,102.83 L227.6,103.19 L228.4,88.9 L229.2,81.08 L230,75.94 L230.8,72.29 L231.6,69.61 L232.4,67.77 L233.2,66.48 L234,66.2 L234.8,66.41 L235.6,67.66 L236.4,70.07 L237.2,74.05 L238,82.01 L238.8,101.16 L239.6,86.1 L240.4,75.38 L241.2,69.51 L242,65.78 L242.8,64.4 L243.6,64.55 L244.4,66.13 L245.2,69.21 L246,73.73 L246.8,82.83 L247.6,107.39 L248.4,88.17 L249.2,79.04 L250,73.49 L250.5,71.66 L251,70.68 L251.5,70.8 L252,71.88 L252.5,74.44 L253,76.15 L253.5,79.72 L254,87.83 L254.5,102.78 L255,97.19 L255.5,85.72 L256,78.85 L256.5,76.19 L257,73.78 L257.5,73.43 L258,74.18 L258.5,77.11 L259,80.73 L259.5,86.05 L260,97.59 L260.5,118.61 L261,96.8 L261.5,88.77 L262,82.76 L262.5,79.36 L263,79.36 L263.5,79.49 L264,80.79 L264.5,85.13 L265,96.74 L265.5,117.36 L266,95.13 L266.5,87.23 L267,82.37 L267.5,81.27 L268,82.22 L268.5,85.89 L269,90.42 L269.5,104.41 L270,112.56 L270.5,96.23 L271,89.82 L271.5,87.08 L272,88.79 L272.5,88.66 L273,96.08 L273.5,115.21 L274,108.31 L274.5,96.65 L275,92.27 L275.5,88.15 L276,92.15 L276.5,96.77 L277,115.71 L277.5,108.54 L278,93.91 L278.5,90.35 L279,88.55 L279.5,96.32 L280,106.02 L280.5,117.95 L281,98.95 L281.5,95.13 L282,93.85 L282.5,96.85 L283,114.13 L283.5,114.86 L284,101.15 L284.5,98.74 L285,99 L285.5,110.08 L286,132.69 L286.5,107.45 L287,99.28 L287.5,105.14 L288,114.35 L288.5,133.78 L289,109.47 L289.5,102.49 L290,105.47 L290.5,122.32 L291,120 L291.5,107.15 L292,106.47 L292.5,115.54 L293,134.85 L293.5,110.26 L294,106.77 L294.5,111.26 L295,139.18 L295.5,108.33 L296,105.88 L296.5,113.63 L297,131.04 L297.5,110.1 L298,111.33 L298.5,122.16 L299,122.2 L299.5,109.85 L300,113.54 L300.5,144.26 L301,111.45 L301.5,112.7 L302,131.57 L302.5,117.86 L303,109.88 L303.5,125.23 L304,119.61 L304.5,111.36 L305,125.03 L305.5,120.71 L306,113.4 L306.5,129.43 L307,121.2 L307.5,117.06 L308,142.93 L308.5,116.98 L309,117.81 L309.5,137.36 L310,117.52 L310.5,129.49 L311,124.04 L311.5,122.18 L312,147.11 L312.5,122.87 L313,137.53 L313.5,126.66 L314,129.18 L314.5,132.13 L315,127.59 L315.5,151.8 L316,128.51 L316.5,168.01 L317,130.98 L317.5,154.2 L318,130.21 L318.5,150.45 L319,135.28 L319.5,153.36 L320,133.84 L320.5,164.66 L321,135 L321.5,172.59 L322,137.21 L322.5,151.55 L323,138.53 L323.5,142.66 L324,148.49 L324.5,139.37 L325,176.2 L325.5,140.23 L326,147.55 L326.5,150.07 L327,140.54 L327.5,164.98 L328,147.16 L328.5,145.77 L329,174.6 L329.5,153.75 L330,146.2 L330.5,167.14 L331,152.48 L331.5,149.57 L332,154.99 L332.5,175.41 L333,154 L333.5,150.64 L334,157.3 L334.5,191.06 L335,160.44 L335.5,155.3 L336,157.85 L336.5,162.52 L337,181.79 L337.5,179.17 L338,167.2 L338.5,165.7"/>
<path d="M60,40.12 L63,40.13 L66,40.14 L69,40.15 L72,40.17 L75,40.18 L78,40.2 L81,40.22 L84,40.24 L87,40.27 L90,40.3 L93,40.33 L96,40.37 L99,40.41 L102,40.46 L105,40.52 L108,40.59 L111,40.71 L114,40.89 L117,41.1 L120,41.32 L123,41.57 L126,41.86 L129,42.17 L132,42.54 L135,43.03 L138,43.59 L141,44.24 L144,44.98 L147,45.86 L150,46.98 L150.8,47.46 L151.6,47.95 L152.4,48.46 L153.2,48.98 L154,49.53 L154.8,50.1 L155.6,50.7 L156.4,51.32 L157.2,51.97 L158,52.65 L158.8,53.36 L159.6,54.11 L160.4,54.91 L161.2,55.81 L162,56.79 L162.8,57.83 L163.6,58.94 L164.4,60.13 L165.2,61.4 L166,62.77 L166.8,64.25 L167.6,65.87 L168.4,67.64 L169.2,69.58 L170,71.81 L170.8,74.31 L171.6,76.94 L172.4,79.53 L173.2,81.62 L174,82.56 L174.8,82.01 L175.6,80.37 L176.4,78.4 L177.2,76.54 L178,74.85 L178.8,73.35 L179.6,72.05 L180.4,70.93 L181.2,69.97 L182,69.14 L182.8,68.44 L183.6,67.91 L184.4,67.48 L185.2,67.14 L186,66.87 L186.8,66.67 L187.6,66.55 L188.4,66.48 L189.2,66.48 L190,66.35 L190.8,66.26 L191.6,66.22 L192.4,66.24 L193.2,66.31 L194,66.44 L194.8,66.62 L195.6,66.87 L196.4,67.05 L197.2,67.21 L198,67.45 L198.8,67.75 L199.6,68.14 L200.4,68.61 L201.2,69.17 L202,69.84 L202.8,70.7 L203.6,71.81 L204.4,73.08 L205.2,74.59 L206,76.53 L206.8,78.74 L207.6,81.3 L208.4,84.32 L209.2,87.97 L210,92.61 L210.8,98.75 L211.6,106.28 L212.4,108.6 L213.2,102.72 L214,97.03 L214.8,92.91 L215.6,89.86 L216.4,87.23 L217.2,84.62 L218,82.44 L218.8,80.62 L219.6,78.89 L220.4,77.38 L221.2,76.15 L222,75.21 L222.8,74.68 L223.6,74.46 L224.4,74.62 L225.2,75.21 L226,76.35 L226.8,78.21 L227.6,81.14 L228.4,85.87 L229.2,93.95 L230,100.88 L230.8,89.71 L231.6,81.39 L232.4,75.83 L233.2,71.87 L234,69.05 L234.8,66.93 L235.6,65.56 L236.4,64.7 L237.2,64.77 L238,65.71 L238.8,67.22 L239.6,70.99 L240.4,77.22 L241.2,89.18 L242,89.16 L242.8,77.1 L243.6,71.63 L244.4,68.08 L245.2,66.38 L246,66.04 L246.8,67.73 L247.6,70.71 L248.4,74.1 L249.2,81.42 L250,94.91 L250.5,101.43 L251,88.02 L251.5,81.7 L252,76.84 L252.5,73.74 L253,72.08 L253.5,69.75 L254,70.39 L254.5,69.87 L255,71.91 L255.5,74.75 L256,78.94 L256.5,85.64 L257,95.16 L257.5,102.2 L258,89.58 L258.5,83.31 L259,80.34 L259.5,78 L260,78.07 L260.5,77.99 L261,80.46 L261.5,81.93 L262,85.45 L262.5,92.56 L263,107.08 L263.5,99.99 L264,87.75 L264.5,82.46 L265,78.9 L265.5,80.38 L266,80.38 L266.5,80.93 L267,85.59 L267.5,94.93 L268,109.52 L268.5,102.36 L269,92 L269.5,86.51 L270,84.72 L270.5,85.58 L271,88.08 L271.5,90.55 L272,99.86 L272.5,118.61 L273,99.78 L273.5,92.76 L274,89.16 L274.5,88.45 L275,91.32 L275.5,94.87 L276,105.49 L276.5,115.05 L277,97.77 L277.5,91.49 L278,88.72 L278.5,89.74 L279,94.3 L279.5,106.19 L280,113.27 L280.5,98.41 L281,92.61 L281.5,91.05 L282,95.38 L282.5,101.59 L283,126.42 L283.5,104.58 L284,96.26 L284.5,96.58 L285,100.67 L285.5,110.96 L286,126.46 L286.5,108.39 L287,99.42 L287.5,101.68 L288,105.73 L288.5,128.94 L289,111.73 L289.5,104.79 L290,104.98 L290.5,109.97 L291,132.75 L291.5,113.98 L292,105.81 L292.5,105.97 L293,113.79 L293.5,129.73 L294,108.52 L294.5,104.38 L295,107.25 L295.5,132.81 L296,113.86 L296.5,103.55 L297,106.95 L297.5,127.78 L298,114.36 L298.5,107.86 L299,110.79 L299.5,137.18 L300,115.21 L300.5,108.63 L301,114.75 L301.5,131.27 L302,108.5 L302.5,111.15 L303,130.88 L303.5,116.9 L304,111.9 L304.5,120.07 L305,123.34 L305.5,110.14 L306,117.39 L306.5,133.03 L307,111.47 L307.5,119.42 L308,133.1 L308.5,114.12 L309,123.66 L309.5,132.29 L310,115.57 L310.5,125.4 L311,124.16 L311.5,120.13 L312,144.72 L312.5,123.17 L313,124.68 L313.5,136.34 L314,122.51 L314.5,142.71 L315,126.95 L315.5,132.65 L316,136.4 L316.5,129.85 L317,155.92 L317.5,127.01 L318,149.47 L318.5,129.4 L319,139.74 L319.5,134.38 L320,139.4 L320.5,134.83 L321,139.6 L321.5,137 L322,139.34 L322.5,141.26 L323,140.31 L323.5,139.4 L324,147.46 L324.5,138.62 L325,158.16 L325.5,138.66 L326,165.67 L326.5,140.62 L327,149.91 L327.5,147.29 L328,140.53 L328.5,175.72 L329,142.43 L329.5,150.92 L330,157.99 L330.5,144.23 L331,157.51 L331.5,155.91 L332,147.62 L332.5,160.01 L333,159.18 L333.5,149.6 L334,153.87 L334.5,181.93 L335,153.95 L335.5,151.67 L336,162 L336.5,182.98 L337,163.08 L337.5,161.07 L338,163.2 L338.5,173.31"/>
<path d="M60,42.27 L63,42.28 L66,42.29 L69,42.31 L72,42.32 L75,42.34 L78,42.36 L81,42.38 L84,42.41 L87,42.44 L90,42.47 L93,42.51 L96,42.55 L99,42.61 L102,42.67 L105,42.74 L108,42.82 L111,42.95 L114,43.16 L117,43.39 L120,43.64 L123,43.93 L126,44.25 L129,44.62 L132,45.04 L135,45.61 L138,46.26 L141,47.01 L144,47.88 L147,48.91 L150,50.22 L150.8,50.76 L151.6,51.31 L152.4,51.88 L153.2,52.47 L154,53.09 L154.8,53.73 L155.6,54.4 L156.4,55.1 L157.2,55.83 L158,56.59 L158.8,57.4 L159.6,58.23 L160.4,59.12 L161.2,60.1 L162,61.16 L162.8,62.27 L163.6,63.43 L164.4,64.63 L165.2,65.88 L166,67.17 L166.8,68.47 L167.6,69.76 L168.4,71.01 L169.2,72.15 L170,73.2 L170.8,74.06 L171.6,74.59 L172.4,74.76 L173.2,74.59 L174,74.14 L174.8,73.49 L175.6,72.7 L176.4,71.93 L177.2,71.28 L178,70.64 L178.8,70.04 L179.6,69.49 L180.4,69 L181.2,68.57 L182,68.2 L182.8,67.9 L183.6,67.72 L184.4,67.6 L185.2,67.55 L186,67.55 L186.8,67.6 L187.6,67.72 L188.4,67.89 L189.2,68.12 L190,68.22 L190.8,68.36 L191.6,68.56 L192.4,68.81 L193.2,69.14 L194,69.53 L194.8,69.99 L195.6,70.52 L196.4,71 L197.2,71.5 L198,72.08 L198.8,72.77 L199.6,73.57 L200.4,74.49 L201.2,75.56 L202,76.79 L202.8,78.27 L203.6,80.08 L204.4,82.15 L205.2,84.59 L206,87.61 L206.8,91.06 L207.6,94.94 L208.4,99.01 L209.2,102.27 L210,103.07 L210.8,101.35 L211.6,98.73 L212.4,96.29 L213.2,94.3 L214,92.35 L214.8,90.82 L215.6,89.66 L216.4,88.52 L217.2,87.16 L218,86.08 L218.8,85.3 L219.6,84.59 L220.4,84.11 L221.2,83.97 L222,84.21 L222.8,85.01 L223.6,86.37 L224.4,88.43 L225.2,91.43 L226,95.62 L226.8,100.5 L227.6,101.5 L228.4,96.07 L229.2,90.07 L230,85.31 L230.8,81.68 L231.6,79.03 L232.4,77.04 L233.2,75.76 L234,75.35 L234.8,75.5 L235.6,76.53 L236.4,78.39 L237.2,81.97 L238,87.36 L238.8,94.13 L239.6,92.12 L240.4,84.69 L241.2,79.18 L242,76.05 L242.8,74.19 L243.6,73.71 L244.4,75.05 L245.2,77.24 L246,81.92 L246.8,89.13 L247.6,99.39 L248.4,96.29 L249.2,88.87 L250,82.99 L250.5,81.77 L251,80.72 L251.5,80.05 L252,80.92 L252.5,82.19 L253,85.35 L253.5,87.74 L254,92.93 L254.5,100.96 L255,102.34 L255.5,96.3 L256,89.35 L256.5,85.91 L257,83.45 L257.5,82.93 L258,84.29 L258.5,86.25 L259,89.03 L259.5,93.78 L260,100.81 L260.5,111.64 L261,108.72 L261.5,100.22 L262,95.26 L262.5,90.48 L263,88 L263.5,86.98 L264,89.03 L264.5,93.1 L265,101.02 L265.5,110.38 L266,104.43 L266.5,98.38 L267,94.33 L267.5,90.56 L268,92.38 L268.5,92.04 L269,99.04 L269.5,105.83 L270,116.08 L270.5,107.61 L271,100.12 L271.5,98.44 L272,96.07 L272.5,99.26 L273,104.58 L273.5,114 L274,119.14 L274.5,108.09 L275,101.79 L275.5,99.45 L276,99.7 L276.5,102.7 L277,113.66 L277.5,117.54 L278,107.09 L278.5,98.75 L279,98.24 L279.5,99.42 L280,110.93 L280.5,123.24 L281,111.24 L281.5,104.51 L282,103.13 L282.5,107.91 L283,117.91 L283.5,127.55 L284,113.98 L284.5,107.75 L285,107.24 L285.5,115.9 L286,131.57 L286.5,120.37 L287,111.22 L287.5,111.42 L288,117.06 L288.5,135.6 L289,121.47 L289.5,113.64 L290,115.64 L290.5,123.42 L291,133.06 L291.5,117.57 L292,114.46 L292.5,118.81 L293,137.79 L293.5,120.78 L294,114.94 L294.5,116.66 L295,133.12 L295.5,122.18 L296,117.25 L296.5,121.68 L297,140.23 L297.5,120.18 L298,116.74 L298.5,124.24 L299,135.15 L299.5,119.68 L300,119.88 L300.5,138.21 L301,126.18 L301.5,121.11 L302,128.92 L302.5,132.19 L303,119.86 L303.5,125.53 L304,135.84 L304.5,121.82 L305,127.66 L305.5,137.53 L306,123.09 L306.5,130.28 L307,135.87 L307.5,125.3 L308,134.75 L308.5,132.18 L309,125.3 L309.5,146.16 L310,129.57 L310.5,132.36 L311,142.01 L311.5,129.63 L312,150.14 L312.5,134.09 L313,138.32 L313.5,140.82 L314,134.59 L314.5,153.56 L315,136 L315.5,156.69 L316,137.45 L316.5,148.67 L317,141.95 L317.5,147.35 L318,141.4 L318.5,148.75 L319,145.84 L319.5,149.5 L320,148.78 L320.5,151.4 L321,148.47 L321.5,154.66 L322,145.79 L322.5,167 L323,144.28 L323.5,166.1 L324,148.62 L324.5,153.41 L325,155.23 L325.5,150.64 L326,171.58 L326.5,153.3 L327,154.41 L327.5,165.43 L328,153.26 L328.5,159.21 L329,165.67 L329.5,154.86 L330,165.79 L330.5,170.3 L331,157.45 L331.5,159.83 L332,178.04 L332.5,162.66 L333,159.74 L333.5,163.12 L334,182.5 L334.5,166.63 L335,163.14 L335.5,162.12 L336,174.5 L336.5,190.3 L337,176.1 L337.5,172.22 L338,173.48 L338.5,171.64"/>
<path d="M60,44.08 L63,44.09 L66,44.09 L69,44.1 L72,44.11 L75,44.12 L78,44.14 L81,44.15 L84,44.16 L87,44.18 L90,44.19 L93,44.21 L96,44.23 L99,44.26 L102,44.29 L105,44.32 L108,44.35 L111,44.43 L114,44.56 L117,44.71 L120,44.87 L123,45.03 L126,45.22 L129,45.42 L132,45.64 L135,45.95 L138,46.3 L141,46.68 L144,47.11 L147,47.58 L150,48.2 L150.8,48.52 L151.6,48.85 L152.4,49.18 L153.2,49.51 L154,49.86 L154.8,50.21 L155.6,50.57 L156.4,50.94 L157.2,51.31 L158,51.7 L158.8,52.09 L159.6,52.5 L160.4,52.91 L161.2,53.4 L162,53.93 L162.8,54.47 L163.6,55.03 L164.4,55.6 L165.2,56.19 L166,56.8 L166.8,57.43 L167.6,58.07 L168.4,58.74 L169.2,59.43 L170,60.25 L170.8,61.16 L171.6,62.09 L172.4,63.06 L173.2,64.06 L174,65.11 L174.8,66.2 L175.6,67.33 L176.4,68.59 L177.2,70.05 L178,71.56 L178.8,73.15 L179.6,74.82 L180.4,76.57 L181.2,78.43 L182,80.38 L182.8,82.46 L183.6,84.71 L184.4,87.05 L185.2,89.44 L186,91.75 L186.8,93.8 L187.6,95.33 L188.4,96.09 L189.2,96.02 L190,95.12 L190.8,93.83 L191.6,92.39 L192.4,90.97 L193.2,89.62 L194,88.39 L194.8,87.27 L195.6,86.27 L196.4,85.25 L197.2,84.26 L198,83.36 L198.8,82.55 L199.6,81.83 L200.4,81.18 L201.2,80.6 L202,80.09 L202.8,79.72 L203.6,79.52 L204.4,79.39 L205.2,79.39 L206,79.65 L206.8,79.97 L207.6,80.36 L208.4,80.8 L209.2,81.31 L210,81.94 L210.8,82.74 L211.6,83.61 L212.4,84.56 L213.2,85.59 L214,86.27 L214.8,87.04 L215.6,87.92 L216.4,88.6 L217.2,88.87 L218,89.3 L218.8,89.9 L219.6,90.47 L220.4,91.21 L221.2,92.25 L222,93.68 L222.8,95.7 L223.6,98.38 L224.4,101.92 L225.2,106.39 L226,110.17 L226.8,108.35 L227.6,102.5 L228.4,96.94 L229.2,92.41 L230,88.72 L230.8,85.66 L231.6,83.06 L232.4,80.91 L233.2,79.26 L234,77.64 L234.8,76.6 L235.6,75.77 L236.4,74.97 L237.2,74.85 L238,75.13 L238.8,75.29 L239.6,76.72 L240.4,79.18 L241.2,82.27 L242,86.84 L242.8,93.12 L243.6,101.94 L244.4,103.03 L245.2,95.32 L246,89.16 L246.8,85.6 L247.6,84.02 L248.4,82.5 L249.2,81.64 L250,82.06 L250.5,82.01 L251,81.57 L251.5,83.17 L252,83.06 L252.5,85.04 L253,86.46 L253.5,88.23 L254,91.03 L254.5,96.55 L255,102.1 L255.5,109.78 L256,110.07 L256.5,103.13 L257,97.82 L257.5,93.74 L258,91.55 L258.5,89.49 L259,88.22 L259.5,89.27 L260,89.92 L260.5,89.13 L261,90.94 L261.5,92.67 L262,94.16 L262.5,95.34 L263,98.55 L263.5,104.66 L264,111.75 L264.5,117.86 L265,110.28 L265.5,103.11 L266,98.63 L266.5,94.93 L267,94.09 L267.5,92.69 L268,93.05 L268.5,94.72 L269,95.9 L269.5,97.72 L270,100.87 L270.5,108.54 L271,116.8 L271.5,126.43 L272,117.56 L272.5,107.8 L273,104.34 L273.5,101.93 L274,100.06 L274.5,98.84 L275,100.47 L275.5,103.03 L276,105.47 L276.5,113.24 L277,123.98 L277.5,124.62 L278,112.53 L278.5,106.66 L279,103.89 L279.5,101.44 L280,102.1 L280.5,104.56 L281,107.17 L281.5,111.45 L282,127.61 L282.5,129.14 L283,115.97 L283.5,112.96 L284,107.94 L284.5,107.39 L285,109.84 L285.5,115.83 L286,120.09 L286.5,137.49 L287,128.98 L287.5,120.73 L288,113.86 L288.5,115.73 L289,114.14 L289.5,118.39 L290,126.08 L290.5,143.99 L291,129.66 L291.5,120.38 L292,115.61 L292.5,118.3 L293,121.65 L293.5,127.43 L294,145.77 L294.5,127 L295,119.56 L295.5,117.62 L296,117.63 L296.5,124.77 L297,143.43 L297.5,132.24 L298,122.47 L298.5,120.2 L299,121.14 L299.5,126.41 L300,148.95 L300.5,130.45 L301,121.74 L301.5,121.38 L302,125.32 L302.5,136.93 L303,137.41 L303.5,125.27 L304,119.82 L304.5,126.69 L305,141.74 L305.5,138.21 L306,125.04 L306.5,122.58 L307,131.93 L307.5,156.6 L308,135.52 L308.5,128.08 L309,131.36 L309.5,144.03 L310,141.03 L310.5,130.76 L311,130.59 L311.5,144.6 L312,148.65 L312.5,134.65 L313,135.05 L313.5,153.61 L314,148.73 L314.5,137.49 L315,140.94 L315.5,165.55 L316,143.8 L316.5,139.86 L317,150.2 L317.5,154.72 L318,141.75 L318.5,147.26 L319,169.12 L319.5,146.93 L320,142.35 L320.5,173.51 L321,148.93 L321.5,148.59 L322,175.48 L322.5,152.98 L323,149.95 L323.5,178.14 L324,150.34 L324.5,157.69 L325,169.87 L325.5,150.9 L326,160.27 L326.5,161.12 L327,152.52 L327.5,185.52 L328,155.26 L328.5,159.82 L329,161.3 L329.5,157.63 L330,181.95 L330.5,158.65 L331,177.1 L331.5,158.06 L332,165.29 L332.5,162.91 L333,163.07 L333.5,170.65 L334,163.89 L334.5,177.09 L335,164.64 L335.5,182.34 L336,166.76 L336.5,182.33 L337,167.4 L337.5,183.37 L338,175.6 L338.5,181"/>
<path d="M60,45.04 L63,45.04 L66,45.05 L69,45.06 L72,45.07 L75,45.07 L78,45.08 L81,45.09 L84,45.1 L87,45.11 L90,45.12 L93,45.13 L96,45.15 L99,45.16 L102,45.18 L105,45.19 L108,45.21 L111,45.26 L114,45.38 L117,45.49 L120,45.61 L123,45.74 L126,45.87 L129,46 L132,46.15 L135,46.37 L138,46.61 L141,46.86 L144,47.12 L147,47.4 L150,47.78 L150.8,48.03 L151.6,48.28 L152.4,48.53 L153.2,48.79 L154,49.04 L154.8,49.3 L155.6,49.56 L156.4,49.82 L157.2,50.09 L158,50.35 L158.8,50.63 L159.6,50.9 L160.4,51.18 L161.2,51.52 L162,51.89 L162.8,52.27 L163.6,52.66 L164.4,53.05 L165.2,53.44 L166,53.84 L166.8,54.24 L167.6,54.65 L168.4,55.07 L169.2,55.5 L170,56.03 L170.8,56.63 L171.6,57.24 L172.4,57.85 L173.2,58.48 L174,59.12 L174.8,59.77 L175.6,60.43 L176.4,61.18 L177.2,62.08 L178,62.99 L178.8,63.92 L179.6,64.86 L180.4,65.83 L181.2,66.81 L182,67.82 L182.8,68.87 L183.6,70 L184.4,71.16 L185.2,72.36 L186,73.59 L186.8,74.85 L187.6,76.16 L188.4,77.5 L189.2,78.89 L190,80.15 L190.8,81.43 L191.6,82.76 L192.4,84.14 L193.2,85.56 L194,87 L194.8,88.46 L195.6,89.89 L196.4,91.12 L197.2,92.13 L198,92.93 L198.8,93.43 L199.6,93.59 L200.4,93.38 L201.2,92.84 L202,92.05 L202.8,91.15 L203.6,90.26 L204.4,89.34 L205.2,88.48 L206,87.86 L206.8,87.28 L207.6,86.76 L208.4,86.3 L209.2,85.9 L210,85.62 L210.8,85.51 L211.6,85.46 L212.4,85.47 L213.2,85.54 L214,85.23 L214.8,84.98 L215.6,84.78 L216.4,84.33 L217.2,83.4 L218,82.54 L218.8,81.73 L219.6,80.75 L220.4,79.77 L221.2,78.85 L222,78 L222.8,77.33 L223.6,76.74 L224.4,76.24 L225.2,75.83 L226,75.51 L226.8,75.31 L227.6,75.23 L228.4,75.32 L229.2,75.62 L230,76.1 L230.8,76.78 L231.6,77.68 L232.4,78.87 L233.2,80.37 L234,82.34 L234.8,84.88 L235.6,87.37 L236.4,90.09 L237.2,91.43 L238,89.26 L238.8,85.54 L239.6,81.74 L240.4,78.82 L241.2,75.51 L242,73.95 L242.8,72.27 L243.6,71.29 L244.4,70.32 L245.2,71.13 L246,70.58 L246.8,70.69 L247.6,71.72 L248.4,72.83 L249.2,75.08 L250,76.67 L250.5,77.29 L251,78.86 L251.5,80.05 L252,81.79 L252.5,84.28 L253,87 L253.5,89.52 L254,92.26 L254.5,96.34 L255,97.25 L255.5,97.84 L256,95.27 L256.5,91.49 L257,89.01 L257.5,86.5 L258,84.96 L258.5,83.31 L259,82.31 L259.5,83.38 L260,83.34 L260.5,82.66 L261,83.31 L261.5,84.31 L262,84.33 L262.5,84.95 L263,85.21 L263.5,84.67 L264,85.64 L264.5,88.86 L265,91.49 L265.5,96.41 L266,102.39 L266.5,107.84 L267,106.03 L267.5,103.3 L268,97.65 L268.5,94.42 L269,93.92 L269.5,90.13 L270,88.92 L270.5,89.71 L271,88.74 L271.5,89.86 L272,90.57 L272.5,92.04 L273,95.73 L273.5,96.96 L274,100.54 L274.5,106.07 L275,113.28 L275.5,115.87 L276,111.82 L276.5,104.16 L277,102.44 L277.5,96.55 L278,95.61 L278.5,94.21 L279,92.89 L279.5,93.33 L280,95.34 L280.5,99.02 L281,100.08 L281.5,107.11 L282,116.08 L282.5,120.99 L283,117.7 L283.5,108.55 L284,105.51 L284.5,104.52 L285,102.21 L285.5,99.92 L286,102.59 L286.5,105.8 L287,111.33 L287.5,117.31 L288,125.09 L288.5,128.92 L289,118.15 L289.5,115.12 L290,109.93 L290.5,110.1 L291,107.84 L291.5,110.19 L292,114.24 L292.5,117.32 L293,128.79 L293.5,128.86 L294,120.19 L294.5,113.55 L295,111.91 L295.5,108.84 L296,109.04 L296.5,115.14 L297,121.5 L297.5,132.18 L298,126.47 L298.5,117.98 L299,115.27 L299.5,113.52 L300,113.5 L300.5,118.04 L301,124.86 L301.5,137.89 L302,127.64 L302.5,117.33 L303,114.26 L303.5,114.99 L304,118.51 L304.5,128.56 L305,140.41 L305.5,124.89 L306,120.48 L306.5,118.92 L307,118.37 L307.5,124.8 L308,139.82 L308.5,134.53 L309,123.73 L309.5,121.91 L310,123.79 L310.5,129.98 L311,146.77 L311.5,134.4 L312,126.86 L312.5,128.21 L313,130.58 L313.5,144.6 L314,144.28 L314.5,131.26 L315,128.66 L315.5,136.1 L316,145.63 L316.5,145.77 L317,134.8 L317.5,133.19 L318,139.1 L318.5,158.51 L319,144.51 L319.5,135.74 L320,138.84 L320.5,151.4 L321,151.18 L321.5,142.68 L322,141.8 L322.5,150.73 L323,154.48 L323.5,143.4 L324,143.61 L324.5,159.5 L325,154.48 L325.5,143.24 L326,146.41 L326.5,167.35 L327,149.1 L327.5,142.37 L328,156.4 L328.5,161.56 L329,149.42 L329.5,152.15 L330,171.13 L330.5,152.14 L331,153.74 L331.5,175.91 L332,155.25 L332.5,152.69 L333,176.08 L333.5,155.11 L334,156.9 L334.5,177.51 L335,157.7 L335.5,160.07 L336,175.12 L336.5,160.2 L337,170.67 L337.5,170.31 L338,167.87 L338.5,187.94"/>
<path d="M60,47.5 L63,47.51 L66,47.53 L69,47.55 L72,47.56 L75,47.59 L78,47.61 L81,47.64 L84,47.67 L87,47.7 L90,47.75 L93,47.8 L96,47.85 L99,47.92 L102,48 L105,48.09 L108,48.2 L111,48.36 L114,48.6 L117,48.87 L120,49.18 L123,49.52 L126,49.92 L129,50.38 L132,50.91 L135,51.62 L138,52.43 L141,53.4 L144,54.55 L147,55.93 L150,57.71 L150.8,58.39 L151.6,59.1 L152.4,59.85 L153.2,60.63 L154,61.44 L154.8,62.3 L155.6,63.21 L156.4,64.15 L157.2,65.15 L158,66.18 L158.8,67.26 L159.6,68.37 L160.4,69.49 L161.2,70.65 L162,71.8 L162.8,72.83 L163.6,73.67 L164.4,74.24 L165.2,74.49 L166,74.39 L166.8,73.97 L167.6,73.3 L168.4,72.45 L169.2,71.5 L170,70.61 L170.8,69.77 L171.6,68.95 L172.4,68.17 L173.2,67.44 L174,66.76 L174.8,66.14 L175.6,65.57 L176.4,65.13 L177.2,64.87 L178,64.67 L178.8,64.51 L179.6,64.41 L180.4,64.35 L181.2,64.34 L182,64.38 L182.8,64.48 L183.6,64.69 L184.4,64.95 L185.2,65.26 L186,65.63 L186.8,66.05 L187.6,66.53 L188.4,67.06 L189.2,67.67 L190,68.16 L190.8,68.71 L191.6,69.34 L192.4,70.06 L193.2,70.88 L194,71.82 L194.8,72.89 L195.6,74.11 L196.4,75.37 L197.2,76.76 L198,78.4 L198.8,80.33 L199.6,82.63 L200.4,85.33 L201.2,88.44 L202,91.64 L202.8,93.83 L203.6,93.48 L204.4,90.96 L205.2,88 L206,85.53 L206.8,83.52 L207.6,81.95 L208.4,80.76 L209.2,79.92 L210,79.43 L210.8,79.33 L211.6,79.5 L212.4,79.94 L213.2,80.66 L214,81.23 L214.8,82.12 L215.6,83.39 L216.4,84.77 L217.2,86.16 L218,88.25 L218.8,91.26 L219.6,95.2 L220.4,99.33 L221.2,98.46 L222,92.5 L222.8,86.89 L223.6,82.49 L224.4,79.12 L225.2,76.56 L226,74.69 L226.8,73.46 L227.6,72.87 L228.4,73.02 L229.2,74.02 L230,76.05 L230.8,79.54 L231.6,85.07 L232.4,90.76 L233.2,85.8 L234,78.3 L234.8,73.23 L235.6,69.55 L236.4,67.33 L237.2,66.32 L238,66.54 L238.8,67.5 L239.6,71.66 L240.4,78.67 L241.2,87.17 L242,79.69 L242.8,72.47 L243.6,68.94 L244.4,67.46 L245.2,67.01 L246,70.03 L246.8,75.48 L247.6,84.74 L248.4,91.27 L249.2,82.32 L250,75.42 L250.5,73.77 L251,73.72 L251.5,73.07 L252,73.05 L252.5,75.95 L253,80.31 L253.5,87.43 L254,93.43 L254.5,87.9 L255,80.92 L255.5,77.35 L256,75.42 L256.5,74.38 L257,75.61 L257.5,76.3 L258,82.18 L258.5,89.9 L259,99.52 L259.5,93.37 L260,86.77 L260.5,82.88 L261,82.42 L261.5,82.36 L262,83.61 L262.5,87.36 L263,95.71 L263.5,101.63 L264,90.57 L264.5,83.39 L265,80.08 L265.5,81.3 L266,83.56 L266.5,88.89 L267,99.37 L267.5,100.21 L268,92.03 L268.5,86.75 L269,85.19 L269.5,87.44 L270,92.11 L270.5,104.9 L271,103.51 L271.5,93.01 L272,89.62 L272.5,89.04 L273,93.44 L273.5,100.39 L274,110.89 L274.5,99.41 L275,92.67 L275.5,93.5 L276,94.22 L276.5,103.04 L277,108.02 L277.5,97.63 L278,92.94 L278.5,91.3 L279,98.81 L279.5,114.47 L280,99.08 L280.5,93.48 L281,92.75 L281.5,101.43 L282,117.66 L282.5,101.39 L283,95.27 L283.5,99.23 L284,109.04 L284.5,115.44 L285,101.86 L285.5,102.21 L286,108.19 L286.5,124.32 L287,105.37 L287.5,101.43 L288,108.22 L288.5,123.81 L289,108.64 L289.5,104.78 L290,111.14 L290.5,126.79 L291,110.78 L291.5,107.64 L292,116.15 L292.5,118.88 L293,106.35 L293.5,110.41 L294,130.17 L294.5,110.89 L295,107.69 L295.5,118.5 L296,113 L296.5,109.01 L297,115.29 L297.5,118.12 L298,109.26 L298.5,118.27 L299,119.54 L299.5,110.74 L300,121.57 L300.5,118.44 L301,107.91 L301.5,124.83 L302,116.33 L302.5,112.51 L303,132.59 L303.5,112.4 L304,122.37 L304.5,121.94 L305,111.93 L305.5,135.36 L306,113.07 L306.5,125.61 L307,120.58 L307.5,119.05 L308,130.86 L308.5,117.27 L309,138.74 L309.5,118.79 L310,135.96 L310.5,122.45 L311,134.17 L311.5,122.33 L312,133.73 L312.5,124.03 L313,133.18 L313.5,127.78 L314,136.63 L314.5,127.45 L315,146.13 L315.5,125.91 L316,150.15 L316.5,131.08 L317,143.01 L317.5,132.64 L318,135.71 L318.5,147.82 L319,133.8 L319.5,148.12 L320,135.13 L320.5,139.24 L321,156.3 L321.5,137.36 L322,142.2 L322.5,157.19 L323,139.38 L323.5,141.56 L324,160.93 L324.5,143.84 L325,143.89 L325.5,152.07 L326,152.28 L326.5,145.14 L327,142.71 L327.5,157.64 L328,157.74 L328.5,147.09 L329,145.5 L329.5,149.72 L330,161.49 L330.5,166.1 L331,154.61 L331.5,148.71 L332,147.57 L332.5,150.1 L333,154.25 L333.5,157.98 L334,163.82 L334.5,171.2 L335,175 L335.5,175.31 L336,176.86 L336.5,175.12 L337,176.85 L337.5,183.15 L338,186.18 L338.5,183.12"/>
</g><g stroke="#8ccfee" stroke-width="0.9" opacity="0.5">
<path d="M60,49.56 L63,49.57 L66,49.58 L69,49.6 L72,49.61 L75,49.62 L78,49.64 L81,49.66 L84,49.67 L87,49.69 L90,49.71 L93,49.72 L96,49.75 L99,49.77 L102,49.79 L105,49.82 L108,49.84 L111,49.89 L114,49.95 L117,50.02 L120,50.09 L123,50.17 L126,50.26 L129,50.36 L132,50.47 L135,50.59 L138,50.73 L141,50.88 L144,51.06 L147,51.26 L150,51.5 L150.8,51.56 L151.6,51.64 L152.4,51.71 L153.2,51.79 L154,51.87 L154.8,51.96 L155.6,52.05 L156.4,52.14 L157.2,52.24 L158,52.34 L158.8,52.44 L159.6,52.55 L160.4,52.67 L161.2,52.82 L162,53 L162.8,53.18 L163.6,53.36 L164.4,53.56 L165.2,53.76 L166,53.96 L166.8,54.18 L167.6,54.41 L168.4,54.64 L169.2,54.88 L170,55.14 L170.8,55.41 L171.6,55.68 L172.4,55.97 L173.2,56.28 L174,56.6 L174.8,56.93 L175.6,57.28 L176.4,57.7 L177.2,58.22 L178,58.76 L178.8,59.33 L179.6,59.92 L180.4,60.53 L181.2,61.17 L182,61.85 L182.8,62.55 L183.6,63.3 L184.4,64.08 L185.2,64.91 L186,65.79 L186.8,66.71 L187.6,67.74 L188.4,68.86 L189.2,70.04 L190,71.29 L190.8,72.62 L191.6,74.02 L192.4,75.49 L193.2,77 L194,78.51 L194.8,79.93 L195.6,81.15 L196.4,82 L197.2,82.36 L198,82.16 L198.8,81.49 L199.6,80.5 L200.4,79.33 L201.2,78.11 L202,76.9 L202.8,75.75 L203.6,74.68 L204.4,73.69 L205.2,72.85 L206,72.28 L206.8,71.79 L207.6,71.38 L208.4,71.03 L209.2,70.76 L210,70.63 L210.8,70.68 L211.6,70.8 L212.4,70.98 L213.2,71.21 L214,71.51 L214.8,71.66 L215.6,71.74 L216.4,71.89 L217.2,72.09 L218,72.36 L218.8,72.69 L219.6,73.08 L220.4,73.45 L221.2,73.63 L222,73.89 L222.8,74.23 L223.6,74.66 L224.4,75.19 L225.2,75.82 L226,76.58 L226.8,77.22 L227.6,78.02 L228.4,79 L229.2,80.2 L230,81.65 L230.8,83.43 L231.6,85.58 L232.4,88.26 L233.2,91.88 L234,95.59 L234.8,99.44 L235.6,98.77 L236.4,95.11 L237.2,91.57 L238,88.51 L238.8,87.01 L239.6,85.11 L240.4,84.66 L241.2,82.13 L242,83.65 L242.8,82.51 L243.6,83.62 L244.4,82.74 L245.2,85.77 L246,85.04 L246.8,88.79 L247.6,91.58 L248.4,94.46 L249.2,98.41 L250,102.62 L250.5,105.39 L251,107.28 L251.5,113.06 L252,117.25 L252.5,123.54 L253,128.18 L253.5,124.78 L254,118.34 L254.5,119.82 L255,117.05 L255.5,112.69 L256,112.89 L256.5,105.59 L257,104.89 L257.5,105.89 L258,98.24 L258.5,96.6 L259,103.23 L259.5,100.42 L260,105.2 L260.5,103.78 L261,103.61 L261.5,104.43 L262,101.81 L262.5,102.55 L263,111.12 L263.5,113.8 L264,114.89 L264.5,122.07 L265,124.05 L265.5,119.29 L266,112.45 L266.5,108.55 L267,111.64 L267.5,109.91 L268,107.12 L268.5,108.59 L269,108.96 L269.5,112.7 L270,108.81 L270.5,109.03 L271,110.35 L271.5,115.52 L272,118.97 L272.5,115.9 L273,128.69 L273.5,133.96 L274,125.15 L274.5,123.05 L275,116.34 L275.5,117.25 L276,112.87 L276.5,109.94 L277,111.62 L277.5,114.44 L278,112.51 L278.5,115.63 L279,120.72 L279.5,133.83 L280,135.35 L280.5,143.47 L281,129.91 L281.5,127.33 L282,123.04 L282.5,121.27 L283,120.96 L283.5,122.7 L284,120.07 L284.5,130.15 L285,132.96 L285.5,135.79 L286,152.76 L286.5,147.25 L287,141.41 L287.5,138.39 L288,134.66 L288.5,130.5 L289,140.1 L289.5,141.36 L290,145.97 L290.5,159.28 L291,164.03 L291.5,161.37 L292,155.62 L292.5,151.4 L293,147.6 L293.5,144.65 L294,144.73 L294.5,148.28 L295,159.81 L295.5,167.31 L296,150.77 L296.5,145.25 L297,136.29 L297.5,133.14 L298,142.46 L298.5,146.13 L299,161.95 L299.5,162.6 L300,153.26 L300.5,142.83 L301,140.52 L301.5,154.83 L302,152.44 L302.5,160.78 L303,163.83 L303.5,157.05 L304,143.72 L304.5,150.93 L305,152.6 L305.5,155.77 L306,176.33 L306.5,161.38 L307,153.58 L307.5,156.95 L308,160.44 L308.5,167.68 L309,180.88 L309.5,171.25 L310,160.15 L310.5,161.58 L311,170.5 L311.5,182.49 L312,177.91 L312.5,173.12 L313,170.74 L313.5,184.33 L314,187.1 L314.5,177.01 L315,165.89 L315.5,169.59 L316,174.76 L316.5,187.27 L317,165.53 L317.5,170.71 L318,175.96 L318.5,185.25 L319,181.88 L319.5,169.65 L320,173.49 L320.5,193.6 L321,178.3 L321.5,176.33 L322,175.35 L322.5,196.92 L323,186.68 L323.5,182.52 L324,191.48 L324.5,198.4 L325,180.26 L325.5,178.83 L326,196.08 L326.5,193.06 L327,184.88 L327.5,200.92 L328,204.27 L328.5,194.12 L329,191.14 L329.5,197.05 L330,188.46 L330.5,196.31 L331,208.75 L331.5,190.66 L332,191.51 L332.5,207.34 L333,203.19 L333.5,209.73 L334,203.87 L334.5,195.75 L335,223.03 L335.5,207.28 L336,202.28 L336.5,225.36 L337,207.89 L337.5,224.42 L338,216.23 L338.5,215.03"/>
<path d="M60,51 L63,51.02 L66,51.03 L69,51.04 L72,51.05 L75,51.07 L78,51.08 L81,51.09 L84,51.11 L87,51.12 L90,51.13 L93,51.15 L96,51.16 L99,51.18 L102,51.19 L105,51.21 L108,51.23 L111,51.25 L114,51.3 L117,51.36 L120,51.41 L123,51.47 L126,51.52 L129,51.59 L132,51.66 L135,51.73 L138,51.81 L141,51.9 L144,52 L147,52.11 L150,52.23 L150.8,52.27 L151.6,52.31 L152.4,52.35 L153.2,52.39 L154,52.43 L154.8,52.47 L155.6,52.52 L156.4,52.57 L157.2,52.61 L158,52.67 L158.8,52.72 L159.6,52.78 L160.4,52.83 L161.2,52.92 L162,53.03 L162.8,53.14 L163.6,53.26 L164.4,53.38 L165.2,53.5 L166,53.62 L166.8,53.75 L167.6,53.88 L168.4,54.01 L169.2,54.15 L170,54.29 L170.8,54.44 L171.6,54.59 L172.4,54.75 L173.2,54.91 L174,55.07 L174.8,55.25 L175.6,55.42 L176.4,55.65 L177.2,55.97 L178,56.3 L178.8,56.63 L179.6,56.97 L180.4,57.32 L181.2,57.67 L182,58.03 L182.8,58.4 L183.6,58.78 L184.4,59.16 L185.2,59.56 L186,59.96 L186.8,60.37 L187.6,60.83 L188.4,61.32 L189.2,61.83 L190,62.34 L190.8,62.87 L191.6,63.4 L192.4,63.95 L193.2,64.51 L194,65.08 L194.8,65.66 L195.6,66.25 L196.4,66.85 L197.2,67.47 L198,68.1 L198.8,68.74 L199.6,69.4 L200.4,70.07 L201.2,70.76 L202,71.46 L202.8,72.17 L203.6,72.91 L204.4,73.65 L205.2,74.49 L206,75.53 L206.8,76.59 L207.6,77.67 L208.4,78.77 L209.2,79.89 L210,81.12 L210.8,82.5 L211.6,83.9 L212.4,85.34 L213.2,86.81 L214,88.32 L214.8,89.66 L215.6,90.93 L216.4,92.25 L217.2,93.62 L218,95.04 L218.8,96.52 L219.6,98.07 L220.4,99.59 L221.2,100.9 L222,102.27 L222.8,103.67 L223.6,105.05 L224.4,106.35 L225.2,107.45 L226,108.23 L226.8,108.3 L227.6,107.86 L228.4,106.94 L229.2,105.67 L230,104.19 L230.8,102.62 L231.6,101.08 L232.4,99.49 L233.2,98.07 L234,96.29 L234.8,94.9 L235.6,94.33 L236.4,92.26 L237.2,92.74 L238,91.73 L238.8,91.32 L239.6,90.48 L240.4,90.51 L241.2,90.06 L242,90.82 L242.8,91.18 L243.6,91.29 L244.4,92.15 L245.2,93.67 L246,93.57 L246.8,95.47 L247.6,95.98 L248.4,95.37 L249.2,100.13 L250,100.18 L250.5,102.47 L251,102.88 L251.5,101.66 L252,105.41 L252.5,105.88 L253,104.35 L253.5,107.82 L254,108.53 L254.5,112.97 L255,112.52 L255.5,107.59 L256,110.18 L256.5,111.73 L257,110.08 L257.5,108.47 L258,112.59 L258.5,106.92 L259,113.97 L259.5,113.91 L260,112.55 L260.5,115.73 L261,109.58 L261.5,113.14 L262,115.85 L262.5,115.72 L263,118.29 L263.5,121.45 L264,122.93 L264.5,128.15 L265,130.74 L265.5,127.38 L266,122.63 L266.5,121 L267,120.22 L267.5,120.31 L268,119.37 L268.5,114.85 L269,121.57 L269.5,112.65 L270,116.25 L270.5,116.39 L271,114.68 L271.5,113.79 L272,110.48 L272.5,115.26 L273,112.98 L273.5,109.52 L274,112.71 L274.5,114.16 L275,109.99 L275.5,112.67 L276,108.9 L276.5,120.52 L277,110.52 L277.5,117.76 L278,121.03 L278.5,119.76 L279,121.24 L279.5,124.03 L280,121.64 L280.5,127.47 L281,130.9 L281.5,142.01 L282,139.54 L282.5,147.03 L283,143 L283.5,139.11 L284,143.44 L284.5,140.95 L285,136.4 L285.5,135.4 L286,135.61 L286.5,133.61 L287,130.88 L287.5,139.82 L288,134.45 L288.5,131.3 L289,133.74 L289.5,139.23 L290,150.36 L290.5,150.84 L291,145.71 L291.5,139.77 L292,146.02 L292.5,146.04 L293,152.39 L293.5,160.15 L294,167.19 L294.5,162.77 L295,156.51 L295.5,154.79 L296,142.3 L296.5,146.15 L297,141.75 L297.5,142.17 L298,134.79 L298.5,142.12 L299,142.94 L299.5,134.22 L300,139.69 L300.5,134.44 L301,147.61 L301.5,158.19 L302,155.56 L302.5,160.57 L303,165.1 L303.5,167.77 L304,160.95 L304.5,153.54 L305,146.82 L305.5,149.23 L306,149.81 L306.5,153.85 L307,153.6 L307.5,154.95 L308,156.89 L308.5,161.61 L309,164.81 L309.5,165.5 L310,179.46 L310.5,181.23 L311,171.55 L311.5,166.11 L312,168.08 L312.5,164.96 L313,165.75 L313.5,168.45 L314,170.94 L314.5,172.3 L315,171.83 L315.5,179.73 L316,181.13 L316.5,175.37 L317,166.38 L317.5,165.23 L318,170.3 L318.5,163.8 L319,170.21 L319.5,169.87 L320,177.45 L320.5,183.06 L321,190.79 L321.5,186.08 L322,178.04 L322.5,178.31 L323,175.27 L323.5,164.6 L324,174.85 L324.5,187.62 L325,200.84 L325.5,197.48 L326,183.67 L326.5,176.88 L327,182.03 L327.5,184.68 L328,187.61 L328.5,199.29 L329,201.11 L329.5,198.92 L330,189.38 L330.5,183.21 L331,180.57 L331.5,188.06 L332,199.13 L332.5,210.09 L333,199.6 L333.5,198.18 L334,191.31 L334.5,198.85 L335,195.77 L335.5,208.73 L336,219.85 L336.5,210.3 L337,198.67 L337.5,203.88 L338,212.91 L338.5,219.71"/>
<path d="M60,51.83 L63,51.84 L66,51.85 L69,51.87 L72,51.88 L75,51.89 L78,51.9 L81,51.92 L84,51.93 L87,51.95 L90,51.96 L93,51.98 L96,51.99 L99,52.01 L102,52.03 L105,52.04 L108,52.06 L111,52.09 L114,52.15 L117,52.2 L120,52.25 L123,52.31 L126,52.37 L129,52.44 L132,52.51 L135,52.58 L138,52.67 L141,52.75 L144,52.85 L147,52.96 L150,53.08 L150.8,53.11 L151.6,53.15 L152.4,53.18 L153.2,53.22 L154,53.26 L154.8,53.3 L155.6,53.34 L156.4,53.39 L157.2,53.43 L158,53.48 L158.8,53.53 L159.6,53.58 L160.4,53.63 L161.2,53.71 L162,53.81 L162.8,53.92 L163.6,54.02 L164.4,54.13 L165.2,54.24 L166,54.36 L166.8,54.48 L167.6,54.6 L168.4,54.72 L169.2,54.84 L170,54.97 L170.8,55.11 L171.6,55.25 L172.4,55.39 L173.2,55.53 L174,55.68 L174.8,55.84 L175.6,56 L176.4,56.22 L177.2,56.52 L178,56.83 L178.8,57.15 L179.6,57.47 L180.4,57.8 L181.2,58.14 L182,58.49 L182.8,58.85 L183.6,59.22 L184.4,59.59 L185.2,59.98 L186,60.38 L186.8,60.79 L187.6,61.26 L188.4,61.77 L189.2,62.29 L190,62.83 L190.8,63.38 L191.6,63.96 L192.4,64.56 L193.2,65.18 L194,65.82 L194.8,66.49 L195.6,67.19 L196.4,67.92 L197.2,68.69 L198,69.49 L198.8,70.34 L199.6,71.23 L200.4,72.17 L201.2,73.16 L202,74.22 L202.8,75.34 L203.6,76.54 L204.4,77.82 L205.2,79.26 L206,80.98 L206.8,82.82 L207.6,84.77 L208.4,86.84 L209.2,89.01 L210,91.31 L210.8,93.69 L211.6,95.87 L212.4,97.58 L213.2,98.54 L214,98.63 L214.8,97.77 L215.6,96.29 L216.4,94.59 L217.2,92.84 L218,91.15 L218.8,89.56 L219.6,88.1 L220.4,86.67 L221.2,85.1 L222,83.64 L222.8,82.28 L223.6,81.03 L224.4,79.86 L225.2,78.78 L226,77.78 L226.8,76.61 L227.6,75.51 L228.4,74.49 L229.2,73.53 L230,72.64 L230.8,71.73 L231.6,70.99 L232.4,70.48 L233.2,69.64 L234,68.8 L234.8,68.49 L235.6,69.06 L236.4,69.01 L237.2,68.93 L238,69.43 L238.8,70.44 L239.6,69.47 L240.4,70.31 L241.2,70.58 L242,73.44 L242.8,75.22 L243.6,77.79 L244.4,78.03 L245.2,82.27 L246,84.61 L246.8,87.92 L247.6,92.25 L248.4,97.86 L249.2,99.94 L250,109.46 L250.5,113.27 L251,117.58 L251.5,120.92 L252,115.59 L252.5,114.97 L253,112.03 L253.5,110.3 L254,109.69 L254.5,108.11 L255,104.6 L255.5,103.46 L256,101.32 L256.5,98.76 L257,95.51 L257.5,96.6 L258,93.39 L258.5,91.49 L259,89.98 L259.5,88.87 L260,92.8 L260.5,89.6 L261,87.35 L261.5,86.38 L262,86.95 L262.5,86.79 L263,88.35 L263.5,84.42 L264,88.1 L264.5,89.11 L265,92.66 L265.5,91.61 L266,95.61 L266.5,96.01 L267,109.07 L267.5,107.88 L268,113.71 L268.5,127.15 L269,123.99 L269.5,118.57 L270,123.67 L270.5,118.61 L271,113.58 L271.5,109.41 L272,109.15 L272.5,99.2 L273,94.38 L273.5,98.4 L274,102.97 L274.5,99.59 L275,97.07 L275.5,98.98 L276,101.16 L276.5,99.12 L277,100.71 L277.5,104.76 L278,104.56 L278.5,105.2 L279,108.27 L279.5,115.74 L280,122.95 L280.5,135.8 L281,136.92 L281.5,127.5 L282,121.68 L282.5,121.88 L283,116.39 L283.5,117.13 L284,111.65 L284.5,115.34 L285,113.85 L285.5,112.35 L286,110.98 L286.5,120.54 L287,126.58 L287.5,131.08 L288,132.63 L288.5,138.59 L289,143.52 L289.5,159.12 L290,149.69 L290.5,142.64 L291,135.2 L291.5,134.02 L292,131.8 L292.5,125.92 L293,132.25 L293.5,131.41 L294,137.11 L294.5,137.63 L295,136.82 L295.5,146.52 L296,147.4 L296.5,151.75 L297,149.03 L297.5,137.79 L298,129.94 L298.5,125.84 L299,136.1 L299.5,126.14 L300,129.85 L300.5,132.71 L301,140.36 L301.5,147.79 L302,163.11 L302.5,157.5 L303,149.64 L303.5,140.39 L304,141.73 L304.5,136.18 L305,138.3 L305.5,146.86 L306,144.03 L306.5,151.03 L307,170.02 L307.5,176.7 L308,149.26 L308.5,148.76 L309,141.04 L309.5,150.2 L310,147.52 L310.5,152.01 L311,166.84 L311.5,186.69 L312,178.93 L312.5,159.22 L313,159.06 L313.5,154.5 L314,169.6 L314.5,163 L315,166.22 L315.5,190.52 L316,182.14 L316.5,159.71 L317,153.13 L317.5,159.57 L318,165.13 L318.5,175.14 L319,201.08 L319.5,169.81 L320,168.87 L320.5,161.49 L321,159.03 L321.5,171.99 L322,192.63 L322.5,188.12 L323,172.95 L323.5,173.89 L324,171.54 L324.5,182.61 L325,201.07 L325.5,187.16 L326,172.91 L326.5,176.37 L327,181.07 L327.5,199.39 L328,199.94 L328.5,179.07 L329,184.21 L329.5,185.79 L330,200.64 L330.5,197.62 L331,185.15 L331.5,182.92 L332,187.09 L332.5,213.56 L333,191.32 L333.5,184.14 L334,195.22 L334.5,201.85 L335,217.46 L335.5,196.34 L336,193.76 L336.5,213.57 L337,214.64 L337.5,208.01 L338,200 L338.5,222.88"/>
<path d="M60,53.05 L63,53.06 L66,53.07 L69,53.09 L72,53.1 L75,53.12 L78,53.13 L81,53.14 L84,53.16 L87,53.18 L90,53.19 L93,53.21 L96,53.23 L99,53.25 L102,53.27 L105,53.29 L108,53.32 L111,53.35 L114,53.41 L117,53.48 L120,53.55 L123,53.62 L126,53.7 L129,53.78 L132,53.88 L135,53.98 L138,54.09 L141,54.22 L144,54.37 L147,54.54 L150,54.73 L150.8,54.79 L151.6,54.85 L152.4,54.91 L153.2,54.97 L154,55.03 L154.8,55.1 L155.6,55.17 L156.4,55.25 L157.2,55.32 L158,55.4 L158.8,55.49 L159.6,55.58 L160.4,55.67 L161.2,55.79 L162,55.94 L162.8,56.09 L163.6,56.24 L164.4,56.4 L165.2,56.57 L166,56.74 L166.8,56.91 L167.6,57.09 L168.4,57.28 L169.2,57.48 L170,57.68 L170.8,57.89 L171.6,58.11 L172.4,58.34 L173.2,58.58 L174,58.82 L174.8,59.08 L175.6,59.35 L176.4,59.68 L177.2,60.1 L178,60.54 L178.8,60.99 L179.6,61.45 L180.4,61.93 L181.2,62.43 L182,62.95 L182.8,63.48 L183.6,64.04 L184.4,64.62 L185.2,65.22 L186,65.85 L186.8,66.5 L187.6,67.23 L188.4,68.01 L189.2,68.83 L190,69.68 L190.8,70.57 L191.6,71.5 L192.4,72.48 L193.2,73.5 L194,74.57 L194.8,75.69 L195.6,76.86 L196.4,78.08 L197.2,79.33 L198,80.61 L198.8,81.89 L199.6,83.13 L200.4,84.29 L201.2,85.29 L202,86.06 L202.8,86.52 L203.6,86.62 L204.4,86.36 L205.2,85.86 L206,85.32 L206.8,84.61 L207.6,83.82 L208.4,83 L209.2,82.19 L210,81.48 L210.8,80.95 L211.6,80.47 L212.4,80.06 L213.2,79.7 L214,79.41 L214.8,78.98 L215.6,78.49 L216.4,78.07 L217.2,77.7 L218,77.39 L218.8,77.14 L219.6,76.94 L220.4,76.72 L221.2,76.29 L222,75.92 L222.8,75.61 L223.6,75.37 L224.4,75.18 L225.2,75.07 L226,75.02 L226.8,74.81 L227.6,74.67 L228.4,74.62 L229.2,74.66 L230,74.8 L230.8,75.1 L231.6,75.36 L232.4,75.92 L233.2,76.81 L234,77.35 L234.8,79.06 L235.6,79.8 L236.4,81.83 L237.2,83.63 L238,87.29 L238.8,91.07 L239.6,94.86 L240.4,97.79 L241.2,97.25 L242,97.6 L242.8,95.58 L243.6,93.96 L244.4,90.74 L245.2,90 L246,88.36 L246.8,87.02 L247.6,89.34 L248.4,88.94 L249.2,88.75 L250,90.52 L250.5,92.98 L251,91.77 L251.5,91.32 L252,95.46 L252.5,92.57 L253,97.6 L253.5,101.06 L254,101.95 L254.5,103.85 L255,103.09 L255.5,103.87 L256,107.23 L256.5,106.4 L257,114.35 L257.5,113.53 L258,119.15 L258.5,121.79 L259,119.58 L259.5,118.69 L260,113.12 L260.5,108.57 L261,104.21 L261.5,100.35 L262,99.55 L262.5,95.96 L263,91.4 L263.5,94.65 L264,93.31 L264.5,89.63 L265,94.74 L265.5,91.95 L266,92.78 L266.5,98.69 L267,93.09 L267.5,108.46 L268,101.63 L268.5,114.19 L269,108.24 L269.5,116.33 L270,118.88 L270.5,124.2 L271,123.17 L271.5,121.19 L272,113.17 L272.5,114.78 L273,108.11 L273.5,113.69 L274,107.73 L274.5,105.73 L275,105.62 L275.5,107.89 L276,101.28 L276.5,110.3 L277,107.91 L277.5,114.84 L278,120.21 L278.5,119.57 L279,130.08 L279.5,130.59 L280,126.79 L280.5,128.27 L281,126.95 L281.5,125.82 L282,116.61 L282.5,115.22 L283,117.13 L283.5,119.98 L284,126.61 L284.5,129.99 L285,127.41 L285.5,145.23 L286,153.3 L286.5,148.06 L287,141.26 L287.5,140.24 L288,133.28 L288.5,135.39 L289,136.31 L289.5,146.07 L290,144.77 L290.5,138.22 L291,152.27 L291.5,153.34 L292,167.7 L292.5,166.76 L293,157.6 L293.5,147.02 L294,151.17 L294.5,144.06 L295,145.39 L295.5,148.99 L296,150.53 L296.5,158.9 L297,160.46 L297.5,154.69 L298,146.28 L298.5,146.45 L299,142.49 L299.5,143.63 L300,151.47 L300.5,149.53 L301,158.64 L301.5,168.55 L302,159.05 L302.5,157.43 L303,151.94 L303.5,143.39 L304,149.54 L304.5,150.2 L305,172.7 L305.5,176.11 L306,153.31 L306.5,157.67 L307,153.42 L307.5,155.42 L308,160.64 L308.5,177.69 L309,184.41 L309.5,168.75 L310,171.34 L310.5,170.72 L311,172.58 L311.5,187.05 L312,202.31 L312.5,177.36 L313,178.06 L313.5,179.1 L314,182.17 L314.5,195.64 L315,193.85 L315.5,182.61 L316,173.32 L316.5,179.01 L317,175.99 L317.5,195.75 L318,188.01 L318.5,181.38 L319,177.01 L319.5,185.57 L320,209.36 L320.5,185.07 L321,182.91 L321.5,179 L322,198.16 L322.5,203.74 L323,185.76 L323.5,190.6 L324,192.8 L324.5,212.29 L325,201.1 L325.5,196.72 L326,196.7 L326.5,212.63 L327,202.5 L327.5,191.79 L328,202.77 L328.5,217.01 L329,201.13 L329.5,197.87 L330,212.4 L330.5,219.52 L331,202.86 L331.5,207.33 L332,224.02 L332.5,213.14 L333,211.3 L333.5,223.15 L334,220.72 L334.5,218.53 L335,223.09 L335.5,227.32 L336,217.06 L336.5,229.32 L337,232.14 L337.5,222.17 L338,230.83 L338.5,235.43"/>
<path d="M60,54.35 L63,54.36 L66,54.37 L69,54.38 L72,54.4 L75,54.41 L78,54.42 L81,54.44 L84,54.45 L87,54.46 L90,54.48 L93,54.49 L96,54.51 L99,54.52 L102,54.54 L105,54.56 L108,54.57 L111,54.6 L114,54.65 L117,54.7 L120,54.76 L123,54.81 L126,54.87 L129,54.93 L132,55 L135,55.07 L138,55.15 L141,55.23 L144,55.32 L147,55.42 L150,55.54 L150.8,55.57 L151.6,55.6 L152.4,55.64 L153.2,55.67 L154,55.71 L154.8,55.75 L155.6,55.79 L156.4,55.83 L157.2,55.87 L158,55.92 L158.8,55.96 L159.6,56.01 L160.4,56.06 L161.2,56.14 L162,56.24 L162.8,56.34 L163.6,56.45 L164.4,56.56 L165.2,56.66 L166,56.78 L166.8,56.89 L167.6,57.01 L168.4,57.13 L169.2,57.25 L170,57.38 L170.8,57.51 L171.6,57.64 L172.4,57.78 L173.2,57.93 L174,58.07 L174.8,58.22 L175.6,58.38 L176.4,58.59 L177.2,58.89 L178,59.19 L178.8,59.5 L179.6,59.82 L180.4,60.14 L181.2,60.48 L182,60.81 L182.8,61.16 L183.6,61.51 L184.4,61.88 L185.2,62.25 L186,62.63 L186.8,63.02 L187.6,63.46 L188.4,63.94 L189.2,64.43 L190,64.94 L190.8,65.46 L191.6,65.99 L192.4,66.54 L193.2,67.1 L194,67.69 L194.8,68.29 L195.6,68.91 L196.4,69.55 L197.2,70.21 L198,70.9 L198.8,71.62 L199.6,72.36 L200.4,73.13 L201.2,73.93 L202,74.77 L202.8,75.64 L203.6,76.56 L204.4,77.51 L205.2,78.57 L206,79.86 L206.8,81.2 L207.6,82.59 L208.4,84.01 L209.2,85.45 L210,86.99 L210.8,88.62 L211.6,90.2 L212.4,91.64 L213.2,92.89 L214,93.86 L214.8,94.33 L215.6,94.38 L216.4,94.16 L217.2,93.76 L218,93.24 L218.8,92.66 L219.6,92.06 L220.4,91.4 L221.2,90.5 L222,89.64 L222.8,88.83 L223.6,88.08 L224.4,87.37 L225.2,86.71 L226,86.1 L226.8,85.29 L227.6,84.53 L228.4,83.81 L229.2,83.14 L230,82.5 L230.8,81.93 L231.6,81.32 L232.4,80.88 L233.2,80.37 L234,80.27 L234.8,79.91 L235.6,79.54 L236.4,79.74 L237.2,79.86 L238,81.07 L238.8,81.21 L239.6,82.68 L240.4,81.91 L241.2,82.95 L242,83.72 L242.8,85.82 L243.6,87.88 L244.4,88.9 L245.2,91.3 L246,92.38 L246.8,96.38 L247.6,97.26 L248.4,103.35 L249.2,105.19 L250,108.09 L250.5,109.11 L251,113.89 L251.5,120.28 L252,119.83 L252.5,118.72 L253,119.69 L253.5,117.11 L254,121.16 L254.5,116.83 L255,116.33 L255.5,115.62 L256,112.35 L256.5,106.97 L257,110.19 L257.5,109.47 L258,103.66 L258.5,105.78 L259,103.07 L259.5,101.76 L260,99.74 L260.5,106.45 L261,100.05 L261.5,96.35 L262,101.1 L262.5,96.73 L263,99.81 L263.5,97.82 L264,94.84 L264.5,100.59 L265,99.77 L265.5,107.8 L266,106.65 L266.5,103.31 L267,108 L267.5,109.61 L268,108.56 L268.5,117.22 L269,117.95 L269.5,121.43 L270,128.54 L270.5,126.03 L271,120.25 L271.5,123.64 L272,118.15 L272.5,124.63 L273,109.32 L273.5,113.91 L274,110.2 L274.5,109.38 L275,110.9 L275.5,112.56 L276,105.62 L276.5,112.19 L277,114.43 L277.5,112.85 L278,112.13 L278.5,115.63 L279,113.39 L279.5,121.54 L280,125.83 L280.5,128.39 L281,130.88 L281.5,126.46 L282,138.67 L282.5,132.65 L283,137.2 L283.5,122.47 L284,133.15 L284.5,133.9 L285,126.29 L285.5,131.75 L286,138.72 L286.5,128 L287,139.25 L287.5,133.07 L288,133.85 L288.5,136.58 L289,150.04 L289.5,159.02 L290,156.55 L290.5,163.82 L291,155.92 L291.5,153.91 L292,156.78 L292.5,139.55 L293,148.31 L293.5,134.88 L294,144.87 L294.5,153.76 L295,145.62 L295.5,144.08 L296,154.12 L296.5,146.26 L297,153.19 L297.5,153.78 L298,158.01 L298.5,153.26 L299,145.04 L299.5,145.44 L300,141 L300.5,143.9 L301,143.32 L301.5,148.74 L302,151.08 L302.5,152.14 L303,170.91 L303.5,170.98 L304,167.37 L304.5,153.19 L305,156.81 L305.5,154.6 L306,162.07 L306.5,159.39 L307,163.97 L307.5,169.97 L308,177.59 L308.5,181.3 L309,172.12 L309.5,164.79 L310,165.7 L310.5,169.65 L311,170.94 L311.5,176.99 L312,177.4 L312.5,188.11 L313,184.62 L313.5,180.49 L314,174.41 L314.5,179.49 L315,173.24 L315.5,169.69 L316,186.77 L316.5,191.98 L317,185.43 L317.5,179.06 L318,167.14 L318.5,174.87 L319,181.53 L319.5,185.17 L320,192.6 L320.5,196.41 L321,175.17 L321.5,186.82 L322,182.78 L322.5,195.04 L323,199.76 L323.5,196.25 L324,198.58 L324.5,191.71 L325,190.5 L325.5,195.65 L326,214.23 L326.5,193.42 L327,191.66 L327.5,194.13 L328,193 L328.5,199.24 L329,207.07 L329.5,196.56 L330,198.81 L330.5,196.18 L331,212.09 L331.5,205.09 L332,201.22 L332.5,199.19 L333,211.01 L333.5,227.9 L334,208.58 L334.5,208.61 L335,209.09 L335.5,221.3 L336,220.2 L336.5,216.77 L337,222.48 L337.5,227.82 L338,224.39 L338.5,218.73"/>
<path d="M60,54.66 L63,54.67 L66,54.68 L69,54.69 L72,54.71 L75,54.72 L78,54.73 L81,54.74 L84,54.76 L87,54.77 L90,54.78 L93,54.8 L96,54.81 L99,54.83 L102,54.84 L105,54.86 L108,54.87 L111,54.9 L114,54.94 L117,54.99 L120,55.04 L123,55.09 L126,55.14 L129,55.19 L132,55.25 L135,55.3 L138,55.36 L141,55.42 L144,55.49 L147,55.56 L150,55.63 L150.8,55.65 L151.6,55.67 L152.4,55.7 L153.2,55.72 L154,55.74 L154.8,55.76 L155.6,55.79 L156.4,55.81 L157.2,55.83 L158,55.86 L158.8,55.88 L159.6,55.91 L160.4,55.94 L161.2,55.99 L162,56.07 L162.8,56.14 L163.6,56.22 L164.4,56.3 L165.2,56.37 L166,56.45 L166.8,56.53 L167.6,56.61 L168.4,56.7 L169.2,56.78 L170,56.86 L170.8,56.95 L171.6,57.04 L172.4,57.12 L173.2,57.21 L174,57.3 L174.8,57.4 L175.6,57.49 L176.4,57.64 L177.2,57.87 L178,58.11 L178.8,58.34 L179.6,58.58 L180.4,58.82 L181.2,59.07 L182,59.31 L182.8,59.56 L183.6,59.82 L184.4,60.08 L185.2,60.34 L186,60.61 L186.8,60.88 L187.6,61.2 L188.4,61.55 L189.2,61.91 L190,62.27 L190.8,62.64 L191.6,63.02 L192.4,63.4 L193.2,63.8 L194,64.21 L194.8,64.62 L195.6,65.05 L196.4,65.49 L197.2,65.95 L198,66.42 L198.8,66.91 L199.6,67.41 L200.4,67.94 L201.2,68.49 L202,69.05 L202.8,69.65 L203.6,70.27 L204.4,70.92 L205.2,71.66 L206,72.63 L206.8,73.63 L207.6,74.67 L208.4,75.75 L209.2,76.87 L210,78.1 L210.8,79.5 L211.6,80.92 L212.4,82.35 L213.2,83.78 L214,85.16 L214.8,86.26 L215.6,87.08 L216.4,87.7 L217.2,88.06 L218,88.12 L218.8,87.92 L219.6,87.49 L220.4,86.81 L221.2,85.76 L222,84.66 L222.8,83.56 L223.6,82.46 L224.4,81.4 L225.2,80.38 L226,79.41 L226.8,78.25 L227.6,77.13 L228.4,76.07 L229.2,75.05 L230,74.09 L230.8,73.21 L231.6,72.19 L232.4,71.51 L233.2,70.95 L234,70.09 L234.8,70.06 L235.6,69.08 L236.4,69.24 L237.2,69.14 L238,69.01 L238.8,70.57 L239.6,69.07 L240.4,69.12 L241.2,70.55 L242,70.76 L242.8,72.09 L243.6,73.12 L244.4,73.99 L245.2,77.08 L246,77.05 L246.8,80.2 L247.6,82.6 L248.4,84.62 L249.2,86.68 L250,87.79 L250.5,89.73 L251,91.17 L251.5,93.53 L252,92.89 L252.5,98.64 L253,102.4 L253.5,103.11 L254,108.71 L254.5,115.58 L255,111.39 L255.5,110.46 L256,109.81 L256.5,108.03 L257,104.14 L257.5,101.75 L258,98.99 L258.5,94.82 L259,95.89 L259.5,95.89 L260,91.89 L260.5,87.62 L261,91.18 L261.5,87.15 L262,86.82 L262.5,84.96 L263,86.56 L263.5,85.36 L264,82.06 L264.5,87.87 L265,87.28 L265.5,86.92 L266,82.48 L266.5,87.49 L267,85.92 L267.5,84.25 L268,92.35 L268.5,91.41 L269,95.5 L269.5,96.22 L270,101.39 L270.5,98.93 L271,104.08 L271.5,101.5 L272,112.17 L272.5,111.76 L273,113.16 L273.5,110.68 L274,109.34 L274.5,109.97 L275,101 L275.5,99.27 L276,97 L276.5,93.51 L277,90.67 L277.5,95.46 L278,96.79 L278.5,91.13 L279,94.36 L279.5,91.65 L280,98.11 L280.5,98.32 L281,92.84 L281.5,104.71 L282,97.95 L282.5,106.93 L283,112.87 L283.5,112.81 L284,122.39 L284.5,116.8 L285,128.8 L285.5,116.07 L286,118.69 L286.5,114.72 L287,119.29 L287.5,112.87 L288,113.39 L288.5,119.4 L289,114.47 L289.5,117.78 L290,126.2 L290.5,126.73 L291,124.02 L291.5,117.26 L292,133.52 L292.5,138.6 L293,139.67 L293.5,133.74 L294,129.08 L294.5,124.98 L295,125.5 L295.5,117.74 L296,116.11 L296.5,120.21 L297,112.26 L297.5,115.47 L298,109.83 L298.5,119.93 L299,126.46 L299.5,128.5 L300,134.22 L300.5,146.75 L301,136.15 L301.5,122.84 L302,124.68 L302.5,121.5 L303,118.9 L303.5,123.25 L304,124.35 L304.5,127.76 L305,131.99 L305.5,135.46 L306,147.21 L306.5,137.81 L307,142.92 L307.5,123.69 L308,128.59 L308.5,125.16 L309,128.57 L309.5,134.8 L310,137.32 L310.5,151.6 L311,150.32 L311.5,152.97 L312,145.95 L312.5,140.41 L313,143.96 L313.5,139.99 L314,139.44 L314.5,144.02 L315,145.46 L315.5,155.87 L316,152.07 L316.5,140.77 L317,137.1 L317.5,136.13 L318,140.66 L318.5,141.33 L319,147.78 L319.5,153.01 L320,151.96 L320.5,145.61 L321,142.84 L321.5,141.12 L322,146.72 L322.5,153.66 L323,162.24 L323.5,158.86 L324,145.1 L324.5,149.38 L325,150.06 L325.5,155.88 L326,171.87 L326.5,166.65 L327,154.3 L327.5,159.7 L328,159.28 L328.5,167.68 L329,174.96 L329.5,164.31 L330,160.28 L330.5,155.51 L331,153.68 L331.5,175.5 L332,172.61 L332.5,171.94 L333,162.02 L333.5,170.72 L334,175.09 L334.5,175.14 L335,169.78 L335.5,172.1 L336,180.85 L336.5,196.08 L337,178.91 L337.5,186.59 L338,182.46 L338.5,192.43"/>
<path d="M60,55.81 L63,55.83 L66,55.84 L69,55.85 L72,55.87 L75,55.88 L78,55.9 L81,55.91 L84,55.93 L87,55.94 L90,55.96 L93,55.98 L96,56 L99,56.02 L102,56.04 L105,56.07 L108,56.1 L111,56.14 L114,56.2 L117,56.27 L120,56.34 L123,56.41 L126,56.5 L129,56.59 L132,56.69 L135,56.8 L138,56.93 L141,57.07 L144,57.24 L147,57.42 L150,57.63 L150.8,57.7 L151.6,57.76 L152.4,57.83 L153.2,57.9 L154,57.97 L154.8,58.05 L155.6,58.13 L156.4,58.21 L157.2,58.3 L158,58.39 L158.8,58.48 L159.6,58.58 L160.4,58.69 L161.2,58.82 L162,58.98 L162.8,59.15 L163.6,59.32 L164.4,59.5 L165.2,59.68 L166,59.87 L166.8,60.07 L167.6,60.28 L168.4,60.5 L169.2,60.72 L170,60.95 L170.8,61.2 L171.6,61.45 L172.4,61.72 L173.2,62 L174,62.3 L174.8,62.6 L175.6,62.93 L176.4,63.32 L177.2,63.82 L178,64.33 L178.8,64.87 L179.6,65.43 L180.4,66.03 L181.2,66.65 L182,67.3 L182.8,67.99 L183.6,68.72 L184.4,69.5 L185.2,70.33 L186,71.22 L186.8,72.18 L187.6,73.26 L188.4,74.44 L189.2,75.73 L190,77.14 L190.8,78.69 L191.6,80.41 L192.4,82.31 L193.2,84.42 L194,86.73 L194.8,89.14 L195.6,91.31 L196.4,92.6 L197.2,92.35 L198,90.75 L198.8,88.54 L199.6,86.25 L200.4,84.12 L201.2,82.2 L202,80.49 L202.8,78.96 L203.6,77.6 L204.4,76.38 L205.2,75.34 L206,74.61 L206.8,73.97 L207.6,73.42 L208.4,72.94 L209.2,72.54 L210,72.28 L210.8,72.21 L211.6,72.2 L212.4,72.25 L213.2,72.35 L214,72.51 L214.8,72.52 L215.6,72.47 L216.4,72.47 L217.2,72.53 L218,72.64 L218.8,72.82 L219.6,73.05 L220.4,73.26 L221.2,73.28 L222,73.37 L222.8,73.54 L223.6,73.8 L224.4,74.16 L225.2,74.62 L226,75.2 L226.8,75.68 L227.6,76.32 L228.4,77.15 L229.2,78.22 L230,79.59 L230.8,81.34 L231.6,83.59 L232.4,86.4 L233.2,91.45 L234,96.55 L234.8,102.1 L235.6,97.23 L236.4,89.71 L237.2,85.72 L238,82.95 L238.8,81.17 L239.6,78.31 L240.4,78.13 L241.2,75.7 L242,75.44 L242.8,74.99 L243.6,77.2 L244.4,76.5 L245.2,77.96 L246,80.46 L246.8,81.18 L247.6,83.74 L248.4,87.34 L249.2,92.14 L250,93.91 L250.5,97.06 L251,100.76 L251.5,107.7 L252,114.97 L252.5,119.75 L253,118.95 L253.5,114.92 L254,110.27 L254.5,108.33 L255,104.97 L255.5,103.56 L256,102.02 L256.5,96.23 L257,93.11 L257.5,93.84 L258,94.32 L258.5,96.93 L259,87.28 L259.5,92.13 L260,91.95 L260.5,93.01 L261,93.25 L261.5,91.21 L262,91.64 L262.5,96.73 L263,101.36 L263.5,99.9 L264,113.64 L264.5,118.76 L265,108.76 L265.5,103.36 L266,99.71 L266.5,94.52 L267,94.99 L267.5,94.82 L268,92.45 L268.5,97.41 L269,91.88 L269.5,95.19 L270,104 L270.5,99.13 L271,101.27 L271.5,104.49 L272,104.93 L272.5,115.69 L273,124.32 L273.5,115.43 L274,113.44 L274.5,104.7 L275,101.01 L275.5,96.26 L276,99.21 L276.5,96.21 L277,102.25 L277.5,99.12 L278,108.43 L278.5,102.73 L279,107.26 L279.5,115.7 L280,132.75 L280.5,116.96 L281,112.43 L281.5,108.47 L282,108.93 L282.5,100.83 L283,114.42 L283.5,112.44 L284,117.16 L284.5,113.95 L285,124.02 L285.5,135.8 L286,143.69 L286.5,132.33 L287,119.15 L287.5,124.61 L288,119.65 L288.5,121.61 L289,123.74 L289.5,129.03 L290,137.72 L290.5,145.9 L291,158.72 L291.5,134.14 L292,130.58 L292.5,134.2 L293,127.62 L293.5,118.76 L294,128.62 L294.5,135.6 L295,153.14 L295.5,145.73 L296,126.66 L296.5,130.44 L297,121.91 L297.5,116.83 L298,131.9 L298.5,127.7 L299,148.22 L299.5,144.92 L300,124.22 L300.5,120.83 L301,126.51 L301.5,136.18 L302,133.98 L302.5,157.55 L303,150.48 L303.5,133 L304,125.57 L304.5,135.01 L305,143.11 L305.5,148.14 L306,144.33 L306.5,129.79 L307,134.5 L307.5,129.68 L308,139.8 L308.5,160.16 L309,151.12 L309.5,142.45 L310,141.79 L310.5,144.68 L311,154.51 L311.5,170.8 L312,153.55 L312.5,146.86 L313,150.19 L313.5,169.4 L314,167.88 L314.5,158.32 L315,146.43 L315.5,150.55 L316,164.21 L316.5,157.94 L317,157.97 L317.5,154.04 L318,158.53 L318.5,172.2 L319,154.04 L319.5,144.41 L320,156.8 L320.5,169.2 L321,155.48 L321.5,156.49 L322,164.02 L322.5,172.43 L323,154.05 L323.5,155.76 L324,173.19 L324.5,164.5 L325,159.24 L325.5,171.97 L326,179.53 L326.5,165.19 L327,170.22 L327.5,197.92 L328,162.3 L328.5,167.92 L329,194.13 L329.5,173.63 L330,165.18 L330.5,187.09 L331,177.45 L331.5,169.03 L332,199.9 L332.5,171.54 L333,175.26 L333.5,197.1 L334,171.51 L334.5,179.63 L335,183.31 L335.5,172.67 L336,205.42 L336.5,185.3 L337,192.69 L337.5,200.73 L338,190.88 L338.5,216.78"/>
<path d="M60,57.18 L63,57.19 L66,57.2 L69,57.22 L72,57.23 L75,57.25 L78,57.26 L81,57.28 L84,57.29 L87,57.31 L90,57.33 L93,57.35 L96,57.37 L99,57.39 L102,57.41 L105,57.44 L108,57.47 L111,57.51 L114,57.57 L117,57.64 L120,57.71 L123,57.79 L126,57.88 L129,57.97 L132,58.08 L135,58.19 L138,58.33 L141,58.47 L144,58.64 L147,58.84 L150,59.06 L150.8,59.12 L151.6,59.19 L152.4,59.26 L153.2,59.34 L154,59.41 L154.8,59.49 L155.6,59.58 L156.4,59.66 L157.2,59.76 L158,59.85 L158.8,59.95 L159.6,60.05 L160.4,60.16 L161.2,60.31 L162,60.47 L162.8,60.64 L163.6,60.82 L164.4,61.01 L165.2,61.2 L166,61.39 L166.8,61.6 L167.6,61.82 L168.4,62.04 L169.2,62.27 L170,62.51 L170.8,62.77 L171.6,63.03 L172.4,63.31 L173.2,63.6 L174,63.91 L174.8,64.23 L175.6,64.57 L176.4,64.98 L177.2,65.49 L178,66.02 L178.8,66.57 L179.6,67.15 L180.4,67.76 L181.2,68.41 L182,69.08 L182.8,69.8 L183.6,70.56 L184.4,71.37 L185.2,72.23 L186,73.16 L186.8,74.16 L187.6,75.29 L188.4,76.54 L189.2,77.9 L190,79.41 L190.8,81.09 L191.6,82.99 L192.4,85.18 L193.2,87.74 L194,90.82 L194.8,94.71 L195.6,99.88 L196.4,107.32 L197.2,116.02 L198,110.31 L198.8,101.98 L199.6,96.28 L200.4,92.11 L201.2,88.86 L202,86.22 L202.8,83.99 L203.6,82.08 L204.4,80.42 L205.2,79.01 L206,77.96 L206.8,77.04 L207.6,76.24 L208.4,75.55 L209.2,74.94 L210,74.5 L210.8,74.26 L211.6,74.09 L212.4,73.99 L213.2,73.96 L214,73.98 L214.8,73.87 L215.6,73.7 L216.4,73.59 L217.2,73.54 L218,73.55 L218.8,73.62 L219.6,73.76 L220.4,73.88 L221.2,73.81 L222,73.81 L222.8,73.9 L223.6,74.08 L224.4,74.35 L225.2,74.73 L226,75.23 L226.8,75.62 L227.6,76.17 L228.4,76.9 L229.2,77.85 L230,79.08 L230.8,80.64 L231.6,82.72 L232.4,85.32 L233.2,89.36 L234,95.1 L234.8,104.28 L235.6,124.65 L236.4,102.74 L237.2,93.22 L238,87.72 L238.8,84.52 L239.6,80.88 L240.4,80.94 L241.2,78.19 L242,78.18 L242.8,77.38 L243.6,77.79 L244.4,77.92 L245.2,78.57 L246,79.81 L246.8,79.5 L247.6,82.17 L248.4,87.52 L249.2,89.71 L250,92.1 L250.5,94.97 L251,98.37 L251.5,102.95 L252,110.15 L252.5,114.43 L253,130.51 L253.5,138.98 L254,124.32 L254.5,116.55 L255,109.31 L255.5,105.63 L256,100.58 L256.5,101.55 L257,97.48 L257.5,96.36 L258,97.85 L258.5,92.95 L259,94.6 L259.5,89.89 L260,95.12 L260.5,89.42 L261,90.84 L261.5,91.57 L262,91.8 L262.5,92.74 L263,98.87 L263.5,97.27 L264,108.58 L264.5,117.61 L265,139.74 L265.5,112.84 L266,108.87 L266.5,101.27 L267,97.42 L267.5,94.21 L268,95.92 L268.5,97.49 L269,96.14 L269.5,97.58 L270,98.57 L270.5,99.05 L271,102.41 L271.5,100.06 L272,106.89 L272.5,105.45 L273,114.73 L273.5,131.79 L274,135.91 L274.5,123.18 L275,101.26 L275.5,107.87 L276,103.63 L276.5,97.65 L277,98.85 L277.5,104.3 L278,106.81 L278.5,100.77 L279,104.43 L279.5,110.05 L280,119.43 L280.5,134.63 L281,147.11 L281.5,124.58 L282,114.3 L282.5,111.5 L283,110.22 L283.5,112.27 L284,110.51 L284.5,111.39 L285,111.43 L285.5,115.28 L286,132.86 L286.5,159.5 L287,143.35 L287.5,133.22 L288,127.88 L288.5,127.58 L289,130.14 L289.5,128.94 L290,132.01 L290.5,143.08 L291,149.9 L291.5,183.29 L292,142.01 L292.5,144.95 L293,129.01 L293.5,127.44 L294,136.95 L294.5,131.04 L295,134.21 L295.5,152.4 L296,171.98 L296.5,139.52 L297,132.56 L297.5,126.25 L298,121.47 L298.5,126.91 L299,134.86 L299.5,154.49 L300,157.92 L300.5,144.44 L301,132.16 L301.5,136.9 L302,136.31 L302.5,143.36 L303,153.82 L303.5,166.02 L304,145.02 L304.5,137.83 L305,142.63 L305.5,142.91 L306,153.26 L306.5,186.2 L307,153.29 L307.5,145.23 L308,144.44 L308.5,149.3 L309,161.76 L309.5,174.44 L310,151.15 L310.5,157.14 L311,153.99 L311.5,156.19 L312,191.22 L312.5,167.86 L313,160.78 L313.5,159.71 L314,172.01 L314.5,196.65 L315,161.06 L315.5,157.94 L316,158.66 L316.5,165.67 L317,176.2 L317.5,159.09 L318,151.43 L318.5,158.61 L319,207.91 L319.5,172.83 L320,159.82 L320.5,160.2 L321,196.95 L321.5,169.37 L322,158.8 L322.5,169.36 L323,215.16 L323.5,168.64 L324,168 L324.5,181.67 L325,187.5 L325.5,171.96 L326,177.95 L326.5,205.27 L327,185.83 L327.5,175.25 L328,182.72 L328.5,187.97 L329,178 L329.5,182.38 L330,198.77 L330.5,176.51 L331,188.08 L331.5,197.98 L332,187.63 L332.5,189.6 L333,197.61 L333.5,181.8 L334,200.92 L334.5,198.67 L335,190.47 L335.5,234.03 L336,186.26 L336.5,207.4 L337,215.06 L337.5,200.59 L338,230.62 L338.5,199.72"/>
<path d="M60,58.03 L63,58.04 L66,58.05 L69,58.07 L72,58.08 L75,58.09 L78,58.1 L81,58.12 L84,58.13 L87,58.14 L90,58.15 L93,58.17 L96,58.18 L99,58.19 L102,58.21 L105,58.22 L108,58.24 L111,58.26 L114,58.31 L117,58.35 L120,58.4 L123,58.44 L126,58.49 L129,58.54 L132,58.59 L135,58.64 L138,58.69 L141,58.75 L144,58.8 L147,58.86 L150,58.92 L150.8,58.94 L151.6,58.96 L152.4,58.97 L153.2,58.99 L154,59.01 L154.8,59.03 L155.6,59.05 L156.4,59.06 L157.2,59.08 L158,59.1 L158.8,59.12 L159.6,59.14 L160.4,59.16 L161.2,59.21 L162,59.27 L162.8,59.34 L163.6,59.41 L164.4,59.48 L165.2,59.54 L166,59.61 L166.8,59.68 L167.6,59.75 L168.4,59.82 L169.2,59.89 L170,59.96 L170.8,60.03 L171.6,60.1 L172.4,60.18 L173.2,60.25 L174,60.32 L174.8,60.4 L175.6,60.47 L176.4,60.6 L177.2,60.81 L178,61.02 L178.8,61.23 L179.6,61.44 L180.4,61.65 L181.2,61.87 L182,62.08 L182.8,62.3 L183.6,62.52 L184.4,62.74 L185.2,62.96 L186,63.19 L186.8,63.42 L187.6,63.69 L188.4,63.99 L189.2,64.29 L190,64.59 L190.8,64.9 L191.6,65.22 L192.4,65.53 L193.2,65.86 L194,66.19 L194.8,66.52 L195.6,66.86 L196.4,67.21 L197.2,67.57 L198,67.94 L198.8,68.32 L199.6,68.71 L200.4,69.12 L201.2,69.53 L202,69.97 L202.8,70.42 L203.6,70.89 L204.4,71.39 L205.2,71.97 L206,72.78 L206.8,73.61 L207.6,74.48 L208.4,75.39 L209.2,76.35 L210,77.44 L210.8,78.71 L211.6,80.06 L212.4,81.49 L213.2,83.02 L214,84.67 L214.8,86.26 L215.6,87.91 L216.4,89.79 L217.2,91.97 L218,94.53 L218.8,97.59 L219.6,101.21 L220.4,104.84 L221.2,105.96 L222,103.17 L222.8,99.16 L223.6,95.55 L224.4,92.5 L225.2,89.92 L226,87.69 L226.8,85.5 L227.6,83.52 L228.4,81.73 L229.2,80.07 L230,78.55 L230.8,77.22 L231.6,75.98 L232.4,74.72 L233.2,73.55 L234,72.9 L234.8,71.74 L235.6,70.5 L236.4,69.47 L237.2,68.5 L238,69.12 L238.8,68.91 L239.6,70.18 L240.4,71.31 L241.2,68.76 L242,71.38 L242.8,70.13 L243.6,71.18 L244.4,71.45 L245.2,73.69 L246,73.52 L246.8,75.03 L247.6,75.66 L248.4,78.38 L249.2,80.47 L250,84.83 L250.5,80.95 L251,85.27 L251.5,88.46 L252,86.88 L252.5,88.63 L253,89.92 L253.5,95.11 L254,97.82 L254.5,100.01 L255,97.69 L255.5,97.83 L256,97.64 L256.5,97.87 L257,101.08 L257.5,105.74 L258,108.11 L258.5,112.83 L259,116.63 L259.5,117.97 L260,110.32 L260.5,107.19 L261,100.7 L261.5,94.8 L262,93.92 L262.5,91.69 L263,90.53 L263.5,91.92 L264,89 L264.5,87.87 L265,85.93 L265.5,86.46 L266,85.41 L266.5,84.72 L267,86.96 L267.5,90.68 L268,93.94 L268.5,88.19 L269,89.43 L269.5,88.82 L270,91.46 L270.5,90.61 L271,87 L271.5,89.84 L272,93.91 L272.5,101.07 L273,99.88 L273.5,96.45 L274,101.01 L274.5,99.59 L275,99.83 L275.5,98.98 L276,111.19 L276.5,116.14 L277,121.36 L277.5,120.91 L278,112.81 L278.5,108.07 L279,107.08 L279.5,103.3 L280,96.67 L280.5,104.94 L281,93.5 L281.5,95 L282,100.14 L282.5,100.93 L283,98.65 L283.5,101.06 L284,104.36 L284.5,100.35 L285,100.33 L285.5,107.84 L286,112.39 L286.5,113.82 L287,119.65 L287.5,123.77 L288,128.22 L288.5,144.65 L289,147.84 L289.5,130.09 L290,130.48 L290.5,127.62 L291,121.44 L291.5,122.88 L292,113.59 L292.5,120.07 L293,115.33 L293.5,120.27 L294,119.33 L294.5,114.89 L295,122.75 L295.5,119.33 L296,122.66 L296.5,125.55 L297,128.39 L297.5,147.83 L298,129.94 L298.5,126.33 L299,120.76 L299.5,132.86 L300,129.76 L300.5,121.02 L301,121.79 L301.5,124.81 L302,120.64 L302.5,126.87 L303,128.43 L303.5,132.25 L304,142.84 L304.5,154.47 L305,140.55 L305.5,130.36 L306,132.31 L306.5,140.11 L307,130.97 L307.5,131.97 L308,138.07 L308.5,126.69 L309,139.34 L309.5,137.02 L310,153.43 L310.5,163.06 L311,144.86 L311.5,145.16 L312,143.85 L312.5,146.86 L313,141.19 L313.5,139.9 L314,148.88 L314.5,148.18 L315,163.44 L315.5,166.92 L316,147.16 L316.5,142.68 L317,150.86 L317.5,144.95 L318,138.75 L318.5,150.34 L319,149.54 L319.5,166.48 L320,165.25 L320.5,152.62 L321,148.62 L321.5,152.36 L322,154.04 L322.5,149.51 L323,165.14 L323.5,183.34 L324,166.25 L324.5,156.84 L325,158.21 L325.5,151.71 L326,150.86 L326.5,161.82 L327,183.05 L327.5,162.79 L328,158.91 L328.5,163.61 L329,162.17 L329.5,168.06 L330,179.79 L330.5,177.44 L331,173.51 L331.5,161.28 L332,167.22 L332.5,176.7 L333,198.03 L333.5,180.54 L334,172.24 L334.5,169.53 L335,177.2 L335.5,190.96 L336,185.51 L336.5,171.64 L337,181.73 L337.5,179.66 L338,191.68 L338.5,186.15"/>
<path d="M60,60.01 L63,60.03 L66,60.04 L69,60.05 L72,60.07 L75,60.08 L78,60.09 L81,60.11 L84,60.12 L87,60.14 L90,60.15 L93,60.17 L96,60.19 L99,60.2 L102,60.22 L105,60.24 L108,60.26 L111,60.3 L114,60.35 L117,60.41 L120,60.47 L123,60.53 L126,60.6 L129,60.68 L132,60.75 L135,60.84 L138,60.93 L141,61.04 L144,61.16 L147,61.28 L150,61.43 L150.8,61.47 L151.6,61.52 L152.4,61.56 L153.2,61.61 L154,61.66 L154.8,61.71 L155.6,61.76 L156.4,61.82 L157.2,61.87 L158,61.93 L158.8,61.99 L159.6,62.05 L160.4,62.12 L161.2,62.22 L162,62.33 L162.8,62.45 L163.6,62.58 L164.4,62.7 L165.2,62.83 L166,62.97 L166.8,63.11 L167.6,63.25 L168.4,63.39 L169.2,63.54 L170,63.7 L170.8,63.86 L171.6,64.02 L172.4,64.19 L173.2,64.37 L174,64.55 L174.8,64.74 L175.6,64.94 L176.4,65.19 L177.2,65.54 L178,65.89 L178.8,66.25 L179.6,66.62 L180.4,67.01 L181.2,67.4 L182,67.8 L182.8,68.22 L183.6,68.65 L184.4,69.09 L185.2,69.55 L186,70.02 L186.8,70.51 L187.6,71.07 L188.4,71.66 L189.2,72.28 L190,72.92 L190.8,73.58 L191.6,74.28 L192.4,75 L193.2,75.75 L194,76.53 L194.8,77.35 L195.6,78.21 L196.4,79.11 L197.2,80.05 L198,81.04 L198.8,82.08 L199.6,83.16 L200.4,84.29 L201.2,85.47 L202,86.68 L202.8,87.92 L203.6,89.15 L204.4,90.35 L205.2,91.53 L206,92.75 L206.8,93.73 L207.6,94.42 L208.4,94.76 L209.2,94.73 L210,94.46 L210.8,94.06 L211.6,93.48 L212.4,92.79 L213.2,92.06 L214,91.32 L214.8,90.41 L215.6,89.41 L216.4,88.47 L217.2,87.59 L218,86.78 L218.8,86.02 L219.6,85.34 L220.4,84.62 L221.2,83.71 L222,82.86 L222.8,82.07 L223.6,81.35 L224.4,80.68 L225.2,80.08 L226,79.54 L226.8,78.81 L227.6,78.16 L228.4,77.56 L229.2,77.04 L230,76.59 L230.8,76.2 L231.6,75.99 L232.4,75.73 L233.2,75.65 L234,75.67 L234.8,75.64 L235.6,76.71 L236.4,77.03 L237.2,77.53 L238,79.01 L238.8,80.59 L239.6,81.46 L240.4,83.96 L241.2,86.52 L242,89.34 L242.8,91.69 L243.6,96.31 L244.4,100.3 L245.2,103.93 L246,107.6 L246.8,108.11 L247.6,105.03 L248.4,101.56 L249.2,100.87 L250,99.47 L250.5,100.86 L251,100.18 L251.5,99.69 L252,99.8 L252.5,98.29 L253,97.45 L253.5,99.78 L254,100.23 L254.5,99.86 L255,100.31 L255.5,99.35 L256,98.07 L256.5,100.06 L257,97.45 L257.5,98.85 L258,100.59 L258.5,100.84 L259,101.26 L259.5,101.81 L260,100.83 L260.5,101 L261,100.85 L261.5,104.04 L262,110.35 L262.5,108.33 L263,112.62 L263.5,118.27 L264,115.54 L264.5,112.56 L265,112.1 L265.5,109.06 L266,102.94 L266.5,103.8 L267,100.79 L267.5,106.73 L268,102.46 L268.5,100.86 L269,102.75 L269.5,101.14 L270,104.24 L270.5,96.85 L271,105.08 L271.5,102.47 L272,104.45 L272.5,112.28 L273,114.92 L273.5,115.21 L274,118.28 L274.5,121.05 L275,127.29 L275.5,125.76 L276,127.12 L276.5,121.57 L277,114.36 L277.5,110.34 L278,110.07 L278.5,112.15 L279,105.01 L279.5,105.13 L280,102.05 L280.5,107.54 L281,114.46 L281.5,108.8 L282,119.62 L282.5,121.42 L283,124.73 L283.5,131.29 L284,142.35 L284.5,139.26 L285,136.17 L285.5,134.26 L286,130.24 L286.5,123.58 L287,123.21 L287.5,127.21 L288,129.96 L288.5,130.2 L289,131.23 L289.5,136.39 L290,138.2 L290.5,151.79 L291,158.53 L291.5,158.43 L292,150.37 L292.5,146.32 L293,136.41 L293.5,139 L294,138.17 L294.5,131.11 L295,138.36 L295.5,142.05 L296,147.67 L296.5,152.84 L297,164.04 L297.5,148.15 L298,140.1 L298.5,132.31 L299,133.66 L299.5,136.47 L300,138.47 L300.5,134.56 L301,143.58 L301.5,150.6 L302,166.62 L302.5,159.66 L303,150.66 L303.5,143.77 L304,148.28 L304.5,147.08 L305,147.03 L305.5,147.28 L306,164.09 L306.5,169.78 L307,156.87 L307.5,156.2 L308,148.08 L308.5,152.08 L309,152.98 L309.5,156.72 L310,182.69 L310.5,175.32 L311,155.75 L311.5,160.89 L312,154.81 L312.5,163.87 L313,169.35 L313.5,183.76 L314,173.73 L314.5,174 L315,158.14 L315.5,164.71 L316,165.9 L316.5,177.76 L317,183.6 L317.5,168.69 L318,167.96 L318.5,168.92 L319,168.99 L319.5,181.52 L320,181.99 L320.5,179.39 L321,167.93 L321.5,173.64 L322,182.98 L322.5,193.21 L323,183.26 L323.5,173.82 L324,176.99 L324.5,183.85 L325,202.2 L325.5,186.5 L326,185.15 L326.5,182.5 L327,199.09 L327.5,198.53 L328,183.98 L328.5,178.78 L329,196.22 L329.5,208.97 L330,194.58 L330.5,187.63 L331,192.54 L331.5,211.29 L332,201.25 L332.5,197.08 L333,195.74 L333.5,221.85 L334,197.23 L334.5,197.88 L335,204.95 L335.5,210.17 L336,200.37 L336.5,206.12 L337,231.2 L337.5,211.9 L338,209.23 L338.5,227.63"/>
<path d="M60,61.04 L63,61.05 L66,61.07 L69,61.08 L72,61.09 L75,61.11 L78,61.12 L81,61.13 L84,61.14 L87,61.16 L90,61.17 L93,61.19 L96,61.2 L99,61.22 L102,61.23 L105,61.25 L108,61.27 L111,61.3 L114,61.35 L117,61.4 L120,61.45 L123,61.5 L126,61.56 L129,61.62 L132,61.69 L135,61.75 L138,61.83 L141,61.91 L144,61.99 L147,62.09 L150,62.19 L150.8,62.22 L151.6,62.25 L152.4,62.29 L153.2,62.32 L154,62.35 L154.8,62.39 L155.6,62.42 L156.4,62.46 L157.2,62.5 L158,62.54 L158.8,62.58 L159.6,62.62 L160.4,62.67 L161.2,62.74 L162,62.84 L162.8,62.93 L163.6,63.03 L164.4,63.13 L165.2,63.23 L166,63.33 L166.8,63.44 L167.6,63.55 L168.4,63.66 L169.2,63.77 L170,63.89 L170.8,64.01 L171.6,64.13 L172.4,64.25 L173.2,64.38 L174,64.51 L174.8,64.65 L175.6,64.79 L176.4,64.98 L177.2,65.26 L178,65.55 L178.8,65.84 L179.6,66.13 L180.4,66.44 L181.2,66.74 L182,67.06 L182.8,67.38 L183.6,67.7 L184.4,68.04 L185.2,68.38 L186,68.73 L186.8,69.09 L187.6,69.5 L188.4,69.94 L189.2,70.4 L190,70.86 L190.8,71.34 L191.6,71.83 L192.4,72.33 L193.2,72.85 L194,73.39 L194.8,73.94 L195.6,74.51 L196.4,75.1 L197.2,75.72 L198,76.35 L198.8,77.01 L199.6,77.7 L200.4,78.41 L201.2,79.16 L202,79.94 L202.8,80.76 L203.6,81.61 L204.4,82.51 L205.2,83.52 L206,84.78 L206.8,86.08 L207.6,87.44 L208.4,88.87 L209.2,90.34 L210,91.95 L210.8,93.73 L211.6,95.53 L212.4,97.32 L213.2,99.02 L214,100.57 L214.8,101.63 L215.6,102.21 L216.4,102.35 L217.2,102.06 L218,101.44 L218.8,100.58 L219.6,99.59 L220.4,98.47 L221.2,97.08 L222,95.73 L222.8,94.44 L223.6,93.21 L224.4,92.05 L225.2,90.96 L226,89.94 L226.8,88.73 L227.6,87.59 L228.4,86.52 L229.2,85.5 L230,84.54 L230.8,83.69 L231.6,82.77 L232.4,81.9 L233.2,81.44 L234,80.88 L234.8,80.29 L235.6,79.94 L236.4,79.77 L237.2,79.97 L238,78.71 L238.8,80.15 L239.6,80.57 L240.4,81.02 L241.2,81.86 L242,83.12 L242.8,84.74 L243.6,86.37 L244.4,83.62 L245.2,86.45 L246,89.57 L246.8,95.24 L247.6,94.09 L248.4,99.78 L249.2,101.63 L250,103.6 L250.5,106.88 L251,109.96 L251.5,111.87 L252,114.82 L252.5,119.45 L253,122.69 L253.5,128.05 L254,127.14 L254.5,125.68 L255,129.09 L255.5,120.92 L256,117.53 L256.5,116.69 L257,110.31 L257.5,106.54 L258,107.63 L258.5,109.71 L259,103.28 L259.5,105.08 L260,99.39 L260.5,98.96 L261,98.93 L261.5,96.32 L262,96.98 L262.5,94.99 L263,99.15 L263.5,96.95 L264,95.6 L264.5,99.79 L265,99.56 L265.5,97.73 L266,99.67 L266.5,102.31 L267,102.39 L267.5,109.76 L268,107.84 L268.5,114.26 L269,113.66 L269.5,114.93 L270,118.66 L270.5,128.55 L271,126.18 L271.5,134.23 L272,130.63 L272.5,123.25 L273,118.86 L273.5,118 L274,117.29 L274.5,115.74 L275,112.04 L275.5,117.85 L276,112.03 L276.5,111.59 L277,112.21 L277.5,111.84 L278,116.1 L278.5,108.3 L279,115.37 L279.5,115.27 L280,116.37 L280.5,124.79 L281,122.53 L281.5,125.24 L282,122.86 L282.5,142.22 L283,143.07 L283.5,150.58 L284,134.71 L284.5,137.43 L285,136.05 L285.5,128.29 L286,129.97 L286.5,138.01 L287,139.45 L287.5,141.59 L288,142.88 L288.5,137.29 L289,131.56 L289.5,141.02 L290,146.89 L290.5,152.73 L291,152.74 L291.5,156.45 L292,162.62 L292.5,171.87 L293,163.64 L293.5,148.59 L294,150.47 L294.5,150.28 L295,143.59 L295.5,139.97 L296,141.12 L296.5,139.61 L297,146.19 L297.5,148.02 L298,152.91 L298.5,162.18 L299,173.46 L299.5,162.92 L300,147.37 L300.5,149.83 L301,146.39 L301.5,148.39 L302,147.01 L302.5,148.2 L303,154.57 L303.5,153.32 L304,155.23 L304.5,169.44 L305,173.71 L305.5,169.76 L306,162.45 L306.5,153.95 L307,153.13 L307.5,157.4 L308,159.07 L308.5,162.13 L309,170.56 L309.5,183.68 L310,187.81 L310.5,181.66 L311,176.33 L311.5,175.01 L312,175.42 L312.5,175.09 L313,176.19 L313.5,186.45 L314,196.98 L314.5,188.92 L315,186.54 L315.5,177.53 L316,170.16 L316.5,170 L317,180.94 L317.5,190.98 L318,199.06 L318.5,188.69 L319,186.7 L319.5,180.39 L320,189.3 L320.5,186.48 L321,195.61 L321.5,203.79 L322,190.81 L322.5,179.75 L323,184.73 L323.5,185.98 L324,199.94 L324.5,209.07 L325,204.26 L325.5,191.06 L326,196.78 L326.5,196.33 L327,203.14 L327.5,208.83 L328,208.37 L328.5,200.01 L329,197.76 L329.5,206.22 L330,216.75 L330.5,219.27 L331,206.84 L331.5,200.35 L332,202.18 L332.5,218.98 L333,220.71 L333.5,219.35 L334,205.18 L334.5,210.5 L335,233.52 L335.5,225.75 L336,218.83 L336.5,218.59 L337,228.85 L337.5,239.18 L338,226.63 L338.5,225.09"/>
<path d="M60,62.08 L63,62.09 L66,62.11 L69,62.12 L72,62.13 L75,62.15 L78,62.16 L81,62.18 L84,62.2 L87,62.21 L90,62.23 L93,62.25 L96,62.27 L99,62.29 L102,62.32 L105,62.34 L108,62.37 L111,62.41 L114,62.48 L117,62.54 L120,62.62 L123,62.7 L126,62.78 L129,62.88 L132,62.98 L135,63.1 L138,63.23 L141,63.38 L144,63.55 L147,63.74 L150,63.96 L150.8,64.03 L151.6,64.09 L152.4,64.16 L153.2,64.24 L154,64.31 L154.8,64.39 L155.6,64.47 L156.4,64.56 L157.2,64.65 L158,64.74 L158.8,64.84 L159.6,64.94 L160.4,65.05 L161.2,65.19 L162,65.35 L162.8,65.52 L163.6,65.7 L164.4,65.88 L165.2,66.07 L166,66.26 L166.8,66.46 L167.6,66.67 L168.4,66.89 L169.2,67.12 L170,67.36 L170.8,67.61 L171.6,67.86 L172.4,68.14 L173.2,68.42 L174,68.72 L174.8,69.03 L175.6,69.36 L176.4,69.76 L177.2,70.25 L178,70.77 L178.8,71.31 L179.6,71.88 L180.4,72.47 L181.2,73.09 L182,73.75 L182.8,74.44 L183.6,75.17 L184.4,75.95 L185.2,76.77 L186,77.66 L186.8,78.61 L187.6,79.68 L188.4,80.86 L189.2,82.14 L190,83.54 L190.8,85.08 L191.6,86.8 L192.4,88.74 L193.2,90.96 L194,93.55 L194.8,96.64 L195.6,100.47 L196.4,105.45 L197.2,112.38 L198,122.01 L198.8,123.02 L199.6,113.17 L200.4,105.82 L201.2,100.55 L202,96.5 L202.8,93.23 L203.6,90.49 L204.4,88.14 L205.2,86.15 L206,84.59 L206.8,83.22 L207.6,82.01 L208.4,80.94 L209.2,79.99 L210,79.22 L210.8,78.67 L211.6,78.21 L212.4,77.84 L213.2,77.54 L214,77.31 L214.8,76.95 L215.6,76.55 L216.4,76.21 L217.2,75.94 L218,75.74 L218.8,75.6 L219.6,75.54 L220.4,75.46 L221.2,75.19 L222,75.01 L222.8,74.91 L223.6,74.89 L224.4,74.98 L225.2,75.17 L226,75.48 L226.8,75.67 L227.6,76.01 L228.4,76.51 L229.2,77.21 L230,78.13 L230.8,79.3 L231.6,81.11 L232.4,83.01 L233.2,85.49 L234,89.07 L234.8,94.74 L235.6,102.67 L236.4,121.42 L237.2,113.05 L238,100.29 L238.8,93.08 L239.6,86.6 L240.4,83.37 L241.2,82.02 L242,79.05 L242.8,77.62 L243.6,77.3 L244.4,78.71 L245.2,79.17 L246,78.27 L246.8,79.06 L247.6,83.87 L248.4,83.61 L249.2,83.8 L250,88.73 L250.5,92.32 L251,95.15 L251.5,99.83 L252,100.99 L252.5,104.56 L253,109.94 L253.5,120.41 L254,132.09 L254.5,153.94 L255,131.13 L255.5,118.11 L256,112.19 L256.5,107.48 L257,102.27 L257.5,102.21 L258,97.45 L258.5,95.1 L259,94.78 L259.5,91.49 L260,87.92 L260.5,92.99 L261,84.78 L261.5,88.53 L262,91.57 L262.5,88.49 L263,91.99 L263.5,92.66 L264,98.05 L264.5,96.54 L265,106.26 L265.5,119.8 L266,135.21 L266.5,129.66 L267,115.14 L267.5,112.99 L268,101.42 L268.5,99.9 L269,99.81 L269.5,100.14 L270,99.41 L270.5,103.23 L271,97.52 L271.5,96.37 L272,99.65 L272.5,101.46 L273,109.28 L273.5,111.9 L274,122.19 L274.5,126.78 L275,150.1 L275.5,125.25 L276,115.4 L276.5,114.78 L277,106.69 L277.5,108.86 L278,101.93 L278.5,103.91 L279,101.86 L279.5,104.71 L280,110.4 L280.5,115.45 L281,121.61 L281.5,137.39 L282,151.2 L282.5,132.94 L283,127.8 L283.5,112.71 L284,120.12 L284.5,119.4 L285,122.96 L285.5,117.81 L286,124.55 L286.5,128.68 L287,141.98 L287.5,154.54 L288,155.85 L288.5,141.98 L289,136.17 L289.5,140.16 L290,132.06 L290.5,129.29 L291,143.31 L291.5,143.64 L292,148.97 L292.5,166.81 L293,163.8 L293.5,148.45 L294,136.32 L294.5,140.13 L295,141.75 L295.5,141.21 L296,137.28 L296.5,147.99 L297,184.28 L297.5,156.26 L298,142.84 L298.5,140.19 L299,133.91 L299.5,140.53 L300,145.64 L300.5,168.02 L301,183.43 L301.5,159.9 L302,148.64 L302.5,151.46 L303,146.73 L303.5,145.37 L304,162.81 L304.5,190.37 L305,153.58 L305.5,147.36 L306,147.57 L306.5,154.54 L307,154.39 L307.5,191.16 L308,166.96 L308.5,148.95 L309,157.41 L309.5,159.23 L310,171.32 L310.5,214.9 L311,166.19 L311.5,160.61 L312,166.18 L312.5,181.2 L313,197.78 L313.5,184.95 L314,172.59 L314.5,178.72 L315,173.91 L315.5,197.81 L316,190.59 L316.5,162.97 L317,168.73 L317.5,183.88 L318,222.74 L318.5,172.77 L319,169.82 L319.5,174.72 L320,201.38 L320.5,186.97 L321,172.56 L321.5,179.23 L322,191.37 L322.5,191.04 L323,181.88 L323.5,182.95 L324,210.28 L324.5,194.6 L325,192.34 L325.5,187.1 L326,232.92 L326.5,195.48 L327,189.56 L327.5,202.94 L328,206.75 L328.5,190.92 L329,194.07 L329.5,214.91 L330,185.03 L330.5,197.79 L331,233.17 L331.5,198.64 L332,204.62 L332.5,239.98 L333,200.55 L333.5,201.1 L334,224.01 L334.5,200.37 L335,213.06 L335.5,229.16 L336,213.25 L336.5,232.21 L337,218.82 L337.5,219.53 L338,252.18 L338.5,217.77"/>
<path d="M60,63.23 L63,63.25 L66,63.26 L69,63.27 L72,63.28 L75,63.3 L78,63.31 L81,63.32 L84,63.34 L87,63.35 L90,63.37 L93,63.38 L96,63.4 L99,63.41 L102,63.43 L105,63.45 L108,63.47 L111,63.5 L114,63.55 L117,63.6 L120,63.66 L123,63.71 L126,63.77 L129,63.84 L132,63.91 L135,63.98 L138,64.06 L141,64.15 L144,64.24 L147,64.35 L150,64.47 L150.8,64.5 L151.6,64.54 L152.4,64.57 L153.2,64.61 L154,64.65 L154.8,64.69 L155.6,64.73 L156.4,64.77 L157.2,64.82 L158,64.86 L158.8,64.91 L159.6,64.96 L160.4,65.01 L161.2,65.09 L162,65.2 L162.8,65.3 L163.6,65.41 L164.4,65.51 L165.2,65.63 L166,65.74 L166.8,65.86 L167.6,65.98 L168.4,66.1 L169.2,66.22 L170,66.35 L170.8,66.49 L171.6,66.62 L172.4,66.77 L173.2,66.91 L174,67.06 L174.8,67.22 L175.6,67.38 L176.4,67.59 L177.2,67.9 L178,68.21 L178.8,68.52 L179.6,68.85 L180.4,69.18 L181.2,69.52 L182,69.87 L182.8,70.22 L183.6,70.59 L184.4,70.97 L185.2,71.36 L186,71.76 L186.8,72.17 L187.6,72.64 L188.4,73.15 L189.2,73.68 L190,74.22 L190.8,74.78 L191.6,75.37 L192.4,75.97 L193.2,76.6 L194,77.26 L194.8,77.95 L195.6,78.67 L196.4,79.43 L197.2,80.22 L198,81.07 L198.8,81.96 L199.6,82.9 L200.4,83.9 L201.2,84.98 L202,86.12 L202.8,87.34 L203.6,88.64 L204.4,90.01 L205.2,91.51 L206,93.21 L206.8,94.84 L207.6,96.26 L208.4,97.28 L209.2,97.74 L210,97.67 L210.8,97.27 L211.6,96.59 L212.4,95.79 L213.2,94.99 L214,94.23 L214.8,93.36 L215.6,92.44 L216.4,91.62 L217.2,90.87 L218,90.21 L218.8,89.61 L219.6,89.09 L220.4,88.54 L221.2,87.78 L222,87.08 L222.8,86.43 L223.6,85.84 L224.4,85.3 L225.2,84.8 L226,84.35 L226.8,83.71 L227.6,83.11 L228.4,82.56 L229.2,82.06 L230,81.61 L230.8,81.3 L231.6,80.85 L232.4,80.59 L233.2,80.4 L234,80.39 L234.8,81.03 L235.6,80.74 L236.4,81.23 L237.2,81.37 L238,82.11 L238.8,83.05 L239.6,84.88 L240.4,86.04 L241.2,88.39 L242,90.12 L242.8,92.65 L243.6,95.99 L244.4,99.23 L245.2,103.01 L246,106.94 L246.8,113.21 L247.6,111.9 L248.4,111.22 L249.2,106.7 L250,105.12 L250.5,104.27 L251,104.37 L251.5,103.06 L252,102.37 L252.5,107.64 L253,103.93 L253.5,102.42 L254,104.09 L254.5,106.03 L255,103.85 L255.5,105.78 L256,104.7 L256.5,103.68 L257,107.06 L257.5,105.52 L258,100.33 L258.5,100.84 L259,102.03 L259.5,98.59 L260,105.32 L260.5,102.5 L261,106.89 L261.5,101.35 L262,102.62 L262.5,105.6 L263,109.66 L263.5,111.36 L264,119.72 L264.5,121.97 L265,121.09 L265.5,116.18 L266,112.23 L266.5,116.15 L267,119.17 L267.5,105.46 L268,114.11 L268.5,102.86 L269,104.63 L269.5,103.74 L270,108.34 L270.5,101.49 L271,108.18 L271.5,108.03 L272,108.1 L272.5,103.71 L273,102.62 L273.5,115.29 L274,113.87 L274.5,114.46 L275,116.55 L275.5,117.08 L276,124.99 L276.5,128.81 L277,123.24 L277.5,116.79 L278,118.22 L278.5,113.08 L279,110.26 L279.5,104.46 L280,106 L280.5,113.06 L281,110.18 L281.5,112.48 L282,111.68 L282.5,112.44 L283,120.52 L283.5,119.04 L284,119.65 L284.5,132.73 L285,145.57 L285.5,140.07 L286,132.43 L286.5,129.85 L287,129.26 L287.5,134.04 L288,125.01 L288.5,124.58 L289,125.61 L289.5,133.85 L290,134.06 L290.5,136.57 L291,144.72 L291.5,144.41 L292,147.05 L292.5,149.32 L293,139.93 L293.5,134.36 L294,138.71 L294.5,126.24 L295,129.47 L295.5,136.01 L296,125.36 L296.5,126.12 L297,135.62 L297.5,135.84 L298,149.95 L298.5,140.69 L299,138.17 L299.5,129.36 L300,138.47 L300.5,127.94 L301,127.36 L301.5,127.69 L302,136.49 L302.5,155.53 L303,154.02 L303.5,145.07 L304,137.63 L304.5,137.61 L305,139.02 L305.5,144.46 L306,143.57 L306.5,146.79 L307,153.18 L307.5,163.38 L308,153.24 L308.5,148.77 L309,142.9 L309.5,145.67 L310,146.88 L310.5,158.35 L311,165.44 L311.5,165.29 L312,151.87 L312.5,152.62 L313,158.31 L313.5,158.89 L314,157.31 L314.5,169.42 L315,167.58 L315.5,161.51 L316,155.47 L316.5,153.5 L317,152.52 L317.5,166.32 L318,179.72 L318.5,161.14 L319,162.05 L319.5,153.64 L320,160.72 L320.5,165.68 L321,173.37 L321.5,163.14 L322,150.21 L322.5,156.92 L323,170.79 L323.5,181.33 L324,171.14 L324.5,169.19 L325,163.98 L325.5,164.99 L326,186.05 L326.5,171.11 L327,164.38 L327.5,161.56 L328,181.7 L328.5,187.48 L329,167.48 L329.5,178.99 L330,176.51 L330.5,185.7 L331,173.48 L331.5,177 L332,182.1 L332.5,199.08 L333,178.5 L333.5,176.52 L334,184.01 L334.5,201.45 L335,183.67 L335.5,178.41 L336,193 L336.5,200.97 L337,196.29 L337.5,194.51 L338,212.02 L338.5,192.56"/>
<path d="M60,63.82 L63,63.83 L66,63.85 L69,63.86 L72,63.88 L75,63.89 L78,63.91 L81,63.92 L84,63.94 L87,63.96 L90,63.98 L93,64 L96,64.03 L99,64.05 L102,64.08 L105,64.11 L108,64.15 L111,64.2 L114,64.27 L117,64.35 L120,64.44 L123,64.53 L126,64.64 L129,64.76 L132,64.89 L135,65.04 L138,65.22 L141,65.41 L144,65.64 L147,65.91 L150,66.22 L150.8,66.31 L151.6,66.4 L152.4,66.5 L153.2,66.6 L154,66.71 L154.8,66.83 L155.6,66.94 L156.4,67.07 L157.2,67.2 L158,67.34 L158.8,67.48 L159.6,67.63 L160.4,67.78 L161.2,67.98 L162,68.2 L162.8,68.42 L163.6,68.66 L164.4,68.91 L165.2,69.17 L166,69.43 L166.8,69.71 L167.6,70.01 L168.4,70.31 L169.2,70.63 L170,70.97 L170.8,71.32 L171.6,71.69 L172.4,72.08 L173.2,72.49 L174,72.93 L174.8,73.38 L175.6,73.87 L176.4,74.43 L177.2,75.1 L178,75.81 L178.8,76.55 L179.6,77.33 L180.4,78.16 L181.2,79.04 L182,79.97 L182.8,80.96 L183.6,82.02 L184.4,83.15 L185.2,84.37 L186,85.68 L186.8,87.1 L187.6,88.68 L188.4,90.41 L189.2,92.29 L190,94.32 L190.8,96.47 L191.6,98.7 L192.4,100.87 L193.2,102.7 L194,103.81 L194.8,103.85 L195.6,102.82 L196.4,101.03 L197.2,98.89 L198,96.68 L198.8,94.54 L199.6,92.54 L200.4,90.68 L201.2,88.98 L202,87.42 L202.8,85.98 L203.6,84.67 L204.4,83.45 L205.2,82.4 L206,81.63 L206.8,80.95 L207.6,80.34 L208.4,79.8 L209.2,79.33 L210,79.01 L210.8,78.87 L211.6,78.8 L212.4,78.79 L213.2,78.84 L214,78.96 L214.8,78.94 L215.6,78.87 L216.4,78.87 L217.2,78.94 L218,79.08 L218.8,79.31 L219.6,79.62 L220.4,79.95 L221.2,80.11 L222,80.39 L222.8,80.8 L223.6,81.35 L224.4,82.07 L225.2,82.99 L226,84.15 L226.8,85.34 L227.6,86.87 L228.4,88.86 L229.2,91.44 L230,94.82 L230.8,99.34 L231.6,105.14 L232.4,109.58 L233.2,106.13 L234,99.33 L234.8,93.09 L235.6,88.88 L236.4,84.74 L237.2,82.4 L238,79.34 L238.8,78.09 L239.6,77.41 L240.4,75.03 L241.2,75.31 L242,75.18 L242.8,76.48 L243.6,79.48 L244.4,79.45 L245.2,80.66 L246,84.46 L246.8,89.06 L247.6,92.02 L248.4,99.77 L249.2,106.66 L250,119.92 L250.5,122.5 L251,116.04 L251.5,111.01 L252,106.26 L252.5,103.07 L253,99.55 L253.5,101.57 L254,99.23 L254.5,98.6 L255,97.22 L255.5,97.65 L256,96.91 L256.5,94.53 L257,94.49 L257.5,94.31 L258,91.2 L258.5,92.88 L259,93.21 L259.5,98.61 L260,97.07 L260.5,95.82 L261,111.47 L261.5,113.37 L262,121.25 L262.5,112.77 L263,109.78 L263.5,99.99 L264,93.32 L264.5,91.8 L265,89.75 L265.5,90.45 L266,91.04 L266.5,89.56 L267,89.23 L267.5,95.81 L268,92.89 L268.5,95.68 L269,105.4 L269.5,108.11 L270,119.38 L270.5,127.85 L271,125.98 L271.5,119.44 L272,111.33 L272.5,107.54 L273,99.51 L273.5,107.49 L274,102.43 L274.5,98.66 L275,103.61 L275.5,106.81 L276,107.39 L276.5,109.31 L277,119.41 L277.5,133.66 L278,132.22 L278.5,120.31 L279,116.41 L279.5,108.9 L280,107.33 L280.5,103.39 L281,111.81 L281.5,110.58 L282,111.21 L282.5,117.07 L283,133.13 L283.5,150.06 L284,132.19 L284.5,132.92 L285,125.26 L285.5,121.8 L286,123.47 L286.5,122.75 L287,130.21 L287.5,133.57 L288,144.52 L288.5,167.68 L289,144.87 L289.5,143.78 L290,139 L290.5,133.13 L291,134.96 L291.5,143.83 L292,143.63 L292.5,155.77 L293,171.43 L293.5,146.31 L294,139.98 L294.5,138.92 L295,132.51 L295.5,128.89 L296,138.26 L296.5,159.79 L297,162.19 L297.5,142.14 L298,136.56 L298.5,136.22 L299,137 L299.5,142.59 L300,167.5 L300.5,155.67 L301,139.73 L301.5,140.4 L302,141.55 L302.5,149.16 L303,160.78 L303.5,171.24 L304,156.78 L304.5,148.6 L305,149.84 L305.5,158.71 L306,167.81 L306.5,183.14 L307,155.03 L307.5,156.8 L308,153.87 L308.5,162.37 L309,190.43 L309.5,170.55 L310,159.68 L310.5,166.26 L311,180.29 L311.5,203 L312,173.74 L312.5,173.6 L313,168.49 L313.5,187.02 L314,195.76 L314.5,169.67 L315,171.81 L315.5,175.54 L316,200.01 L316.5,175.02 L317,169.74 L317.5,174.7 L318,204.23 L318.5,183.71 L319,173.01 L319.5,174.72 L320,209.3 L320.5,184.78 L321,174.08 L321.5,188.31 L322,201.96 L322.5,183.98 L323,189.43 L323.5,211.73 L324,193.7 L324.5,186.93 L325,204.16 L325.5,193.75 L326,186.01 L326.5,201.68 L327,210.41 L327.5,196.18 L328,198.55 L328.5,206.99 L329,199.38 L329.5,205.38 L330,211.45 L330.5,187.68 L331,213.37 L331.5,200.66 L332,202.88 L332.5,236.61 L333,205.24 L333.5,209.91 L334,211.59 L334.5,207.93 L335,245.88 L335.5,211.4 L336,220.81 L336.5,225.17 L337,222.14 L337.5,233.34 L338,220.76 L338.5,262.14"/>
<path d="M60,65.6 L63,65.62 L66,65.63 L69,65.64 L72,65.65 L75,65.66 L78,65.68 L81,65.69 L84,65.7 L87,65.72 L90,65.73 L93,65.74 L96,65.75 L99,65.77 L102,65.78 L105,65.8 L108,65.81 L111,65.83 L114,65.88 L117,65.92 L120,65.97 L123,66.01 L126,66.06 L129,66.1 L132,66.15 L135,66.2 L138,66.25 L141,66.3 L144,66.34 L147,66.39 L150,66.44 L150.8,66.46 L151.6,66.47 L152.4,66.48 L153.2,66.5 L154,66.51 L154.8,66.52 L155.6,66.54 L156.4,66.55 L157.2,66.56 L158,66.58 L158.8,66.59 L159.6,66.6 L160.4,66.62 L161.2,66.66 L162,66.72 L162.8,66.78 L163.6,66.84 L164.4,66.9 L165.2,66.95 L166,67.01 L166.8,67.07 L167.6,67.13 L168.4,67.19 L169.2,67.25 L170,67.31 L170.8,67.36 L171.6,67.42 L172.4,67.48 L173.2,67.54 L174,67.6 L174.8,67.65 L175.6,67.71 L176.4,67.82 L177.2,68.01 L178,68.2 L178.8,68.39 L179.6,68.58 L180.4,68.77 L181.2,68.97 L182,69.16 L182.8,69.35 L183.6,69.54 L184.4,69.74 L185.2,69.93 L186,70.13 L186.8,70.33 L187.6,70.57 L188.4,70.84 L189.2,71.11 L190,71.38 L190.8,71.66 L191.6,71.94 L192.4,72.22 L193.2,72.51 L194,72.8 L194.8,73.09 L195.6,73.4 L196.4,73.71 L197.2,74.03 L198,74.35 L198.8,74.69 L199.6,75.04 L200.4,75.4 L201.2,75.77 L202,76.15 L202.8,76.55 L203.6,76.97 L204.4,77.41 L205.2,77.93 L206,78.67 L206.8,79.43 L207.6,80.22 L208.4,81.04 L209.2,81.9 L210,82.86 L210.8,84 L211.6,85.17 L212.4,86.4 L213.2,87.68 L214,89.01 L214.8,90.2 L215.6,91.34 L216.4,92.55 L217.2,93.82 L218,95.16 L218.8,96.54 L219.6,97.95 L220.4,99.25 L221.2,100.19 L222,100.92 L222.8,101.32 L223.6,101.27 L224.4,100.75 L225.2,99.79 L226,98.49 L226.8,96.75 L227.6,94.91 L228.4,93.06 L229.2,91.23 L230,89.47 L230.8,87.77 L231.6,86.11 L232.4,84.87 L233.2,83.18 L234,82.1 L234.8,81.03 L235.6,79.75 L236.4,79.43 L237.2,77.49 L238,77.43 L238.8,76.82 L239.6,75.83 L240.4,76.3 L241.2,76.56 L242,76.7 L242.8,79.02 L243.6,77.92 L244.4,77.19 L245.2,78.1 L246,80.75 L246.8,81.7 L247.6,82.32 L248.4,83.28 L249.2,84.44 L250,85.9 L250.5,89.12 L251,89.21 L251.5,88.1 L252,94.3 L252.5,94.05 L253,95.95 L253.5,99.18 L254,100.12 L254.5,101.42 L255,103.2 L255.5,101.44 L256,102.28 L256.5,105.86 L257,106.31 L257.5,102.28 L258,103.11 L258.5,102.66 L259,109.02 L259.5,105.42 L260,108.69 L260.5,114.42 L261,114.74 L261.5,116.69 L262,112.96 L262.5,112.64 L263,106.5 L263.5,108.29 L264,101.42 L264.5,102.21 L265,101.11 L265.5,100.55 L266,100.02 L266.5,100.19 L267,95.47 L267.5,92.97 L268,95.27 L268.5,101.92 L269,97.44 L269.5,100.51 L270,101.08 L270.5,96.54 L271,95.27 L271.5,99.91 L272,96.7 L272.5,93.19 L273,99.66 L273.5,102.05 L274,96.37 L274.5,100.89 L275,99.22 L275.5,100.29 L276,105.28 L276.5,105.1 L277,112.6 L277.5,110.81 L278,116.12 L278.5,124.41 L279,129.04 L279.5,127.47 L280,122.31 L280.5,119.72 L281,114.15 L281.5,117.31 L282,113.59 L282.5,113.51 L283,113.8 L283.5,114.31 L284,108.14 L284.5,107.82 L285,111.74 L285.5,110.91 L286,111.93 L286.5,112.41 L287,119.89 L287.5,111.65 L288,121.86 L288.5,130.34 L289,131.4 L289.5,132.42 L290,137.54 L290.5,147.45 L291,154.53 L291.5,146.6 L292,138.6 L292.5,138.63 L293,131.93 L293.5,128.72 L294,132.18 L294.5,122.89 L295,127.81 L295.5,122.66 L296,125.75 L296.5,115.94 L297,125.5 L297.5,128.79 L298,135.4 L298.5,136.59 L299,139.78 L299.5,147.16 L300,152.66 L300.5,143.78 L301,132.71 L301.5,142.58 L302,135.77 L302.5,134.05 L303,130.02 L303.5,130.81 L304,125.67 L304.5,136.98 L305,134.06 L305.5,142.64 L306,138.01 L306.5,160.11 L307,155.89 L307.5,143.44 L308,145.23 L308.5,134.7 L309,138.56 L309.5,135.95 L310,145.66 L310.5,141.88 L311,148.43 L311.5,150.82 L312,166.4 L312.5,170.17 L313,167.21 L313.5,159.16 L314,162.73 L314.5,145.26 L315,154.29 L315.5,151.81 L316,149.11 L316.5,149.04 L317,152.64 L317.5,165.65 L318,163.05 L318.5,152.21 L319,163.75 L319.5,147.44 L320,152.42 L320.5,160.02 L321,164.6 L321.5,175.48 L322,179.87 L322.5,165.18 L323,165.79 L323.5,163.91 L324,159.1 L324.5,166.34 L325,160.41 L325.5,179.18 L326,183.01 L326.5,168.58 L327,169.4 L327.5,164.25 L328,170.32 L328.5,173.35 L329,181.85 L329.5,187.98 L330,173.17 L330.5,168.57 L331,174.26 L331.5,179.95 L332,176.92 L332.5,197.17 L333,183.92 L333.5,170.2 L334,177.76 L334.5,187.66 L335,190.02 L335.5,205.24 L336,177.32 L336.5,185.11 L337,188.89 L337.5,198.22 L338,213.03 L338.5,200.35"/>
<path d="M60,66.67 L63,66.68 L66,66.7 L69,66.71 L72,66.72 L75,66.74 L78,66.75 L81,66.77 L84,66.78 L87,66.8 L90,66.81 L93,66.83 L96,66.85 L99,66.87 L102,66.89 L105,66.91 L108,66.94 L111,66.97 L114,67.03 L117,67.09 L120,67.16 L123,67.23 L126,67.31 L129,67.39 L132,67.48 L135,67.58 L138,67.69 L141,67.81 L144,67.95 L147,68.11 L150,68.3 L150.8,68.35 L151.6,68.4 L152.4,68.46 L153.2,68.52 L154,68.58 L154.8,68.65 L155.6,68.71 L156.4,68.78 L157.2,68.86 L158,68.93 L158.8,69.01 L159.6,69.09 L160.4,69.18 L161.2,69.3 L162,69.44 L162.8,69.58 L163.6,69.73 L164.4,69.88 L165.2,70.04 L166,70.21 L166.8,70.38 L167.6,70.55 L168.4,70.73 L169.2,70.92 L170,71.11 L170.8,71.31 L171.6,71.52 L172.4,71.74 L173.2,71.97 L174,72.21 L174.8,72.45 L175.6,72.71 L176.4,73.03 L177.2,73.44 L178,73.87 L178.8,74.31 L179.6,74.76 L180.4,75.23 L181.2,75.72 L182,76.23 L182.8,76.75 L183.6,77.3 L184.4,77.88 L185.2,78.48 L186,79.11 L186.8,79.77 L187.6,80.5 L188.4,81.3 L189.2,82.14 L190,83.02 L190.8,83.96 L191.6,84.96 L192.4,86.02 L193.2,87.16 L194,88.39 L194.8,89.72 L195.6,91.17 L196.4,92.76 L197.2,94.52 L198,96.5 L198.8,98.73 L199.6,101.31 L200.4,104.31 L201.2,107.85 L202,111.99 L202.8,116.32 L203.6,118.78 L204.4,116.95 L205.2,112.86 L206,109 L206.8,105.73 L207.6,103.02 L208.4,100.75 L209.2,98.84 L210,97.29 L210.8,96.08 L211.6,95.06 L212.4,94.2 L213.2,93.47 L214,92.85 L214.8,92.15 L215.6,91.41 L216.4,90.76 L217.2,90.19 L218,89.69 L218.8,89.26 L219.6,88.89 L220.4,88.5 L221.2,87.92 L222,87.39 L222.8,86.93 L223.6,86.53 L224.4,86.19 L225.2,85.92 L226,85.72 L226.8,85.34 L227.6,85.05 L228.4,84.83 L229.2,84.69 L230,84.66 L230.8,84.75 L231.6,84.97 L232.4,85.34 L233.2,85.87 L234,86.58 L234.8,87.11 L235.6,89 L236.4,90.26 L237.2,91.71 L238,95.32 L238.8,98.24 L239.6,104.05 L240.4,110.47 L241.2,119.96 L242,127.7 L242.8,118.04 L243.6,110.74 L244.4,104.5 L245.2,101.45 L246,98.7 L246.8,99.76 L247.6,98.87 L248.4,96.89 L249.2,98.17 L250,99.3 L250.5,98.71 L251,99.83 L251.5,101.08 L252,102.81 L252.5,103.94 L253,107.61 L253.5,106.43 L254,111.88 L254.5,111.19 L255,112.73 L255.5,114.05 L256,112.55 L256.5,115.84 L257,115.19 L257.5,115.58 L258,119.56 L258.5,122.86 L259,132.35 L259.5,140.64 L260,137.36 L260.5,130.25 L261,120.23 L261.5,114.71 L262,107.83 L262.5,113.22 L263,104.13 L263.5,104.14 L264,103.65 L264.5,103.69 L265,102.9 L265.5,97.38 L266,101 L266.5,103.37 L267,103.65 L267.5,106.65 L268,105.7 L268.5,108.02 L269,111.26 L269.5,117.34 L270,124.22 L270.5,127.66 L271,140.22 L271.5,149.31 L272,133.75 L272.5,125.34 L273,114.71 L273.5,115.43 L274,113.91 L274.5,111.62 L275,107.76 L275.5,112.06 L276,111.5 L276.5,104.98 L277,109.98 L277.5,112.92 L278,112.48 L278.5,115.43 L279,123.36 L279.5,134.83 L280,150.63 L280.5,143.14 L281,129.03 L281.5,126.12 L282,122.03 L282.5,118.67 L283,119.46 L283.5,117 L284,118.29 L284.5,119.88 L285,127.74 L285.5,131.7 L286,136.17 L286.5,147.55 L287,160.62 L287.5,153.77 L288,141.65 L288.5,139.92 L289,134.84 L289.5,135.9 L290,140.4 L290.5,132.43 L291,133.98 L291.5,134.08 L292,142.29 L292.5,159.11 L293,177.18 L293.5,152.94 L294,139.56 L294.5,141.03 L295,137.63 L295.5,134.79 L296,130.24 L296.5,129.99 L297,142.28 L297.5,154.37 L298,173.44 L298.5,145.5 L299,145.33 L299.5,138.96 L300,140.74 L300.5,138.5 L301,140.44 L301.5,149.65 L302,158.7 L302.5,158.32 L303,150.78 L303.5,140.1 L304,136.15 L304.5,141.82 L305,145.87 L305.5,153.14 L306,178.13 L306.5,162 L307,146.47 L307.5,149.15 L308,140.35 L308.5,150.08 L309,158.85 L309.5,180.02 L310,172.54 L310.5,157.12 L311,146.34 L311.5,157.64 L312,158.96 L312.5,177.63 L313,174.05 L313.5,163 L314,156.74 L314.5,152.36 L315,163.28 L315.5,177.35 L316,168.46 L316.5,158.81 L317,162.25 L317.5,156.66 L318,166.23 L318.5,190.52 L319,161.28 L319.5,156.59 L320,158.26 L320.5,165.41 L321,186.84 L321.5,168.05 L322,163.85 L322.5,167.11 L323,193.14 L323.5,178.33 L324,170.6 L324.5,171.75 L325,172.52 L325.5,188.5 L326,168.27 L326.5,168.45 L327,173.57 L327.5,194.11 L328,177.56 L328.5,176.18 L329,186.09 L329.5,197.36 L330,177.39 L330.5,181.75 L331,197.21 L331.5,180.88 L332,173.71 L332.5,186.58 L333,202.63 L333.5,181.12 L334,179.76 L334.5,216.95 L335,188.05 L335.5,193.92 L336,209.43 L336.5,193.29 L337,199.7 L337.5,209.86 L338,204.19 L338.5,196.97"/>
<path d="M60,67.8 L63,67.81 L66,67.82 L69,67.83 L72,67.85 L75,67.86 L78,67.87 L81,67.89 L84,67.9 L87,67.91 L90,67.93 L93,67.94 L96,67.96 L99,67.98 L102,67.99 L105,68.01 L108,68.03 L111,68.06 L114,68.11 L117,68.16 L120,68.22 L123,68.28 L126,68.34 L129,68.4 L132,68.47 L135,68.55 L138,68.63 L141,68.72 L144,68.82 L147,68.93 L150,69.05 L150.8,69.08 L151.6,69.12 L152.4,69.15 L153.2,69.19 L154,69.23 L154.8,69.27 L155.6,69.32 L156.4,69.36 L157.2,69.41 L158,69.45 L158.8,69.5 L159.6,69.55 L160.4,69.61 L161.2,69.69 L162,69.79 L162.8,69.9 L163.6,70.01 L164.4,70.12 L165.2,70.23 L166,70.34 L166.8,70.46 L167.6,70.58 L168.4,70.71 L169.2,70.84 L170,70.97 L170.8,71.11 L171.6,71.24 L172.4,71.39 L173.2,71.54 L174,71.69 L174.8,71.85 L175.6,72.01 L176.4,72.23 L177.2,72.53 L178,72.85 L178.8,73.17 L179.6,73.49 L180.4,73.82 L181.2,74.17 L182,74.51 L182.8,74.87 L183.6,75.24 L184.4,75.62 L185.2,76.01 L186,76.41 L186.8,76.82 L187.6,77.28 L188.4,77.79 L189.2,78.31 L190,78.84 L190.8,79.39 L191.6,79.96 L192.4,80.55 L193.2,81.17 L194,81.8 L194.8,82.46 L195.6,83.15 L196.4,83.87 L197.2,84.62 L198,85.4 L198.8,86.23 L199.6,87.09 L200.4,88 L201.2,88.96 L202,89.96 L202.8,91.02 L203.6,92.14 L204.4,93.31 L205.2,94.59 L206,96.1 L206.8,97.62 L207.6,99.1 L208.4,100.47 L209.2,101.65 L210,102.6 L210.8,103.28 L211.6,103.54 L212.4,103.43 L213.2,103.03 L214,102.45 L214.8,101.59 L215.6,100.59 L216.4,99.61 L217.2,98.67 L218,97.79 L218.8,96.97 L219.6,96.22 L220.4,95.44 L221.2,94.45 L222,93.53 L222.8,92.66 L223.6,91.85 L224.4,91.1 L225.2,90.39 L226,89.74 L226.8,88.89 L227.6,88.09 L228.4,87.34 L229.2,86.64 L230,85.99 L230.8,85.34 L231.6,84.83 L232.4,84.26 L233.2,83.91 L234,84.1 L234.8,83.61 L235.6,84.35 L236.4,82.71 L237.2,83.74 L238,83.61 L238.8,85.6 L239.6,86.04 L240.4,87.24 L241.2,87.77 L242,88.33 L242.8,91.29 L243.6,93.77 L244.4,96.75 L245.2,100.87 L246,103.49 L246.8,109.8 L247.6,113.58 L248.4,116.64 L249.2,117.2 L250,116.6 L250.5,117.05 L251,111.4 L251.5,111.63 L252,110.48 L252.5,109.13 L253,108.76 L253.5,111.56 L254,113.91 L254.5,111.38 L255,108.57 L255.5,107.78 L256,108.69 L256.5,107.85 L257,107.82 L257.5,104.05 L258,103.83 L258.5,101.89 L259,102.75 L259.5,101.69 L260,105.62 L260.5,103.01 L261,101.9 L261.5,101.68 L262,104.57 L262.5,105.55 L263,104.44 L263.5,107.66 L264,108.99 L264.5,108.24 L265,118.92 L265.5,116.25 L266,121.28 L266.5,124 L267,126.26 L267.5,118.52 L268,117.29 L268.5,114.98 L269,111.53 L269.5,106.42 L270,114.15 L270.5,109.84 L271,112.04 L271.5,110.36 L272,109.43 L272.5,111.78 L273,107.98 L273.5,114.72 L274,117.84 L274.5,115.29 L275,113.19 L275.5,116.27 L276,120.37 L276.5,126.32 L277,121.45 L277.5,129.38 L278,129.58 L278.5,132.16 L279,132.73 L279.5,129.24 L280,118 L280.5,126.37 L281,125.24 L281.5,117.8 L282,116.73 L282.5,124.09 L283,128.4 L283.5,124.53 L284,127.51 L284.5,132.73 L285,130.71 L285.5,142.28 L286,152.15 L286.5,155.42 L287,160.49 L287.5,150.18 L288,144.56 L288.5,142.94 L289,136.69 L289.5,137.89 L290,143.82 L290.5,141.62 L291,148.89 L291.5,141.08 L292,150.04 L292.5,149.48 L293,163.71 L293.5,162.78 L294,169.36 L294.5,170.32 L295,159.8 L295.5,145.04 L296,144.18 L296.5,138.66 L297,142.76 L297.5,143.3 L298,152.65 L298.5,148.52 L299,159.7 L299.5,164.87 L300,165.13 L300.5,158.86 L301,156.01 L301.5,150.19 L302,151.26 L302.5,148.02 L303,156.85 L303.5,154.36 L304,163.1 L304.5,176.74 L305,175.19 L305.5,159.29 L306,162.36 L306.5,162.5 L307,164.55 L307.5,159.67 L308,163.39 L308.5,175.71 L309,190.79 L309.5,182.11 L310,170.92 L310.5,167.98 L311,162.56 L311.5,174.76 L312,181.48 L312.5,186.02 L313,197.82 L313.5,185.07 L314,187.69 L314.5,175.15 L315,176.53 L315.5,180 L316,183.37 L316.5,193.98 L317,187.43 L317.5,181.02 L318,179.14 L318.5,179.06 L319,180.23 L319.5,204.7 L320,197.61 L320.5,188.23 L321,184.2 L321.5,183.2 L322,192.56 L322.5,205.97 L323,195.71 L323.5,197.97 L324,192.82 L324.5,203.16 L325,210.45 L325.5,210.19 L326,199.08 L326.5,194.81 L327,200.84 L327.5,223.01 L328,207.3 L328.5,193.31 L329,197.51 L329.5,210.17 L330,222.51 L330.5,208.29 L331,200.92 L331.5,211.74 L332,225.91 L332.5,216.37 L333,208.36 L333.5,210.75 L334,225.44 L334.5,218.22 L335,215.23 L335.5,217.22 L336,239.71 L336.5,233.67 L337,218.56 L337.5,232.03 L338,248.76 L338.5,222.93"/>
<path d="M60,68.8 L63,68.82 L66,68.83 L69,68.84 L72,68.85 L75,68.87 L78,68.88 L81,68.89 L84,68.91 L87,68.92 L90,68.93 L93,68.95 L96,68.96 L99,68.98 L102,68.99 L105,69.01 L108,69.03 L111,69.06 L114,69.11 L117,69.16 L120,69.21 L123,69.27 L126,69.32 L129,69.38 L132,69.45 L135,69.51 L138,69.59 L141,69.67 L144,69.75 L147,69.85 L150,69.95 L150.8,69.98 L151.6,70.01 L152.4,70.04 L153.2,70.08 L154,70.11 L154.8,70.14 L155.6,70.18 L156.4,70.22 L157.2,70.26 L158,70.3 L158.8,70.34 L159.6,70.38 L160.4,70.42 L161.2,70.5 L162,70.59 L162.8,70.69 L163.6,70.78 L164.4,70.88 L165.2,70.98 L166,71.09 L166.8,71.19 L167.6,71.3 L168.4,71.41 L169.2,71.52 L170,71.64 L170.8,71.76 L171.6,71.88 L172.4,72 L173.2,72.13 L174,72.27 L174.8,72.4 L175.6,72.54 L176.4,72.74 L177.2,73.02 L178,73.3 L178.8,73.59 L179.6,73.89 L180.4,74.19 L181.2,74.5 L182,74.82 L182.8,75.14 L183.6,75.47 L184.4,75.8 L185.2,76.15 L186,76.5 L186.8,76.87 L187.6,77.28 L188.4,77.73 L189.2,78.2 L190,78.67 L190.8,79.16 L191.6,79.66 L192.4,80.18 L193.2,80.72 L194,81.28 L194.8,81.85 L195.6,82.45 L196.4,83.07 L197.2,83.72 L198,84.4 L198.8,85.11 L199.6,85.86 L200.4,86.65 L201.2,87.49 L202,88.38 L202.8,89.32 L203.6,90.34 L204.4,91.43 L205.2,92.68 L206,94.23 L206.8,95.91 L207.6,97.76 L208.4,99.81 L209.2,102.13 L210,104.88 L210.8,108.25 L211.6,112.36 L212.4,117.62 L213.2,124.36 L214,128.46 L214.8,123.38 L215.6,117.77 L216.4,113.64 L217.2,110.53 L218,108.07 L218.8,106.07 L219.6,104.4 L220.4,102.9 L221.2,101.34 L222,99.93 L222.8,98.66 L223.6,97.5 L224.4,96.45 L225.2,95.48 L226,94.59 L226.8,93.53 L227.6,92.54 L228.4,91.6 L229.2,90.73 L230,89.91 L230.8,89.14 L231.6,88.44 L232.4,87.97 L233.2,87.25 L234,87.07 L234.8,86.25 L235.6,86.73 L236.4,85.38 L237.2,86.4 L238,86.38 L238.8,86.5 L239.6,88.39 L240.4,88.58 L241.2,88.56 L242,90.3 L242.8,89.87 L243.6,92.35 L244.4,94.98 L245.2,96.34 L246,98.77 L246.8,102.51 L247.6,105.19 L248.4,107.76 L249.2,110.91 L250,117.97 L250.5,124.54 L251,126.98 L251.5,133.85 L252,146.45 L252.5,141.17 L253,136.09 L253.5,129.64 L254,126.13 L254.5,125.76 L255,122.97 L255.5,123.5 L256,118.12 L256.5,116.55 L257,114.79 L257.5,111.97 L258,113.25 L258.5,108.1 L259,108.89 L259.5,107.56 L260,103.74 L260.5,107.88 L261,102.52 L261.5,103.65 L262,104.66 L262.5,102.65 L263,98.88 L263.5,105.31 L264,101.76 L264.5,104.57 L265,107.25 L265.5,107.59 L266,112.22 L266.5,112.97 L267,111.84 L267.5,118.35 L268,124.21 L268.5,124.37 L269,134.47 L269.5,145.03 L270,161.12 L270.5,140.42 L271,131.8 L271.5,125.9 L272,127.97 L272.5,118.42 L273,120.53 L273.5,119.12 L274,114.56 L274.5,115.97 L275,114.39 L275.5,109.44 L276,110.9 L276.5,120.27 L277,114.58 L277.5,119.89 L278,123.04 L278.5,120.3 L279,122.89 L279.5,125 L280,134.82 L280.5,140.01 L281,136.79 L281.5,158.94 L282,151.9 L282.5,138.61 L283,135.99 L283.5,135.86 L284,137.27 L284.5,131.86 L285,138.98 L285.5,134.3 L286,140.44 L286.5,140.74 L287,137.04 L287.5,135.32 L288,150.82 L288.5,144.17 L289,152.78 L289.5,160.93 L290,175.23 L290.5,179.87 L291,163.13 L291.5,158.88 L292,160.11 L292.5,157.53 L293,155.87 L293.5,149.67 L294,154.42 L294.5,147.53 L295,147.75 L295.5,156.3 L296,147.5 L296.5,160.92 L297,169.95 L297.5,181.42 L298,157.49 L298.5,162.76 L299,156.95 L299.5,157.9 L300,152.88 L300.5,150.51 L301,155.31 L301.5,153.62 L302,158.86 L302.5,172 L303,183.93 L303.5,170.34 L304,160.75 L304.5,162.78 L305,166.99 L305.5,161.43 L306,150.01 L306.5,165.29 L307,167.65 L307.5,174.91 L308,201.35 L308.5,189.2 L309,183.69 L309.5,177.35 L310,172.02 L310.5,176.4 L311,174.32 L311.5,185.88 L312,186.7 L312.5,218.05 L313,193.52 L313.5,189.39 L314,177.38 L314.5,179.02 L315,179.95 L315.5,197.15 L316,196.74 L316.5,200.95 L317,190.63 L317.5,183.48 L318,183.37 L318.5,183.59 L319,191.02 L319.5,194.4 L320,208.25 L320.5,191.77 L321,189.84 L321.5,195.67 L322,192.67 L322.5,200.46 L323,230.04 L323.5,200.25 L324,192.79 L324.5,189.22 L325,198.81 L325.5,210.34 L326,226.33 L326.5,203.28 L327,199.18 L327.5,198.32 L328,205.79 L328.5,228.6 L329,221.46 L329.5,211.77 L330,203.45 L330.5,203.18 L331,239.5 L331.5,219.05 L332,205.15 L332.5,208.89 L333,221.64 L333.5,244.32 L334,220.2 L334.5,214.99 L335,218.74 L335.5,237.01 L336,223.4 L336.5,217.11 L337,223.66 L337.5,242.43 L338,234.87 L338.5,226.99"/>
</g>
</g>
<g clip-path="url(#cu)" fill="none" stroke-linejoin="round" stroke-linecap="round">
<path d="M60,42.2 C68.33,42.22 98,42.17 110,42.3 C122,42.43 125.4,42.72 132,43 C138.6,43.28 144.82,43.35 149.6,44 C154.38,44.65 157.38,45.87 160.7,46.9 C164.02,47.93 166.93,49.02 169.5,50.2 C172.07,51.38 173.9,52.45 176.1,54 C178.3,55.55 180.5,57.57 182.7,59.5 C184.9,61.43 187.1,63.85 189.3,65.6 C191.5,67.35 193.7,68.82 195.9,70 C198.1,71.18 200.98,71.98 202.5,72.7 C204.02,73.42 203.8,73.27 205,74.3 C206.2,75.33 208.33,77.45 209.7,78.9 C211.07,80.35 212.13,82.02 213.2,83 C214.27,83.98 215.13,84.72 216.1,84.8 C217.07,84.88 218.02,84.13 219,83.5 C219.98,82.87 220.5,82.12 222,81 C223.5,79.88 225.77,78.22 228,76.8 C230.23,75.38 233.58,73.6 235.4,72.5 C237.22,71.4 237.73,70.48 238.9,70.2 C240.07,69.92 241.23,70.22 242.4,70.8 C243.57,71.38 244.73,72.53 245.9,73.7 C247.07,74.87 248.33,77.02 249.4,77.8 C250.47,78.58 251.43,78.4 252.3,78.4 C253.17,78.4 253.72,77.32 254.6,77.8 C255.48,78.28 256.52,79.65 257.6,81.3 C258.68,82.95 259.93,87.02 261.1,87.7 C262.27,88.38 263.43,85.1 264.6,85.4 C265.77,85.7 266.93,88.05 268.1,89.5 C269.27,90.95 270.43,92.85 271.6,94.1 C272.77,95.35 273.93,96.6 275.1,97 C276.27,97.4 277.43,95.92 278.6,96.5 C279.77,97.08 281,98.92 282.1,100.5 C283.2,102.08 284.68,105.08 285.2,106" stroke="#fff" stroke-width="5.2"/>
<path d="M283,102.1 L284.39,104.51 L285.95,106.75 L287.49,108.15 L288.66,110.02 L289.98,111.55 L290.87,111.81 L291.86,111.97 L293.12,111.45 L294.1,111.84 L295.63,112.68 L296.56,113.28 L297.47,113.54 L298.37,112.95 L299.87,114.17 L300.84,116.37 L302.34,115.71 L303.91,117.21 L305.25,117.1 L306.8,119.75 L308.38,122.41 L309.41,122.21 L310.35,122.82 L311.2,124.43 L312.48,125.72 L313.82,129.1 L314.87,132.4 L316.06,132.99 L317.24,135.9 L318.09,137.75 L318.91,138.08 L320.38,137.69 L321.81,140.49 L323.07,141 L323.91,142.56 L325.48,144.56 L326.88,148.51 L328.43,148.57 L329.52,150.36 L330.94,150.75 L332.34,154.45 L333.82,154.51 L335.38,157.12 L336.45,162.01 L337.99,167.47 L339.53,168.14" stroke="#fff" stroke-width="5.4"/>
<path d="M283,102.1 L283.94,103.7 L284.86,105.39 L286.46,107.29 L287.3,108.67 L288.52,109.8 L289.51,111.11 L290.98,112.23 L292.11,111.95 L293.65,112.06 L294.84,113.32 L295.74,113.34 L297.3,114.22 L298.73,114.18 L299.88,114.95 L301.36,116.16 L302.52,118.52 L304,119.49 L305.17,118.99 L306.55,120.08 L307.58,121.22 L308.5,122.36 L310.09,126.25 L311.39,126.62 L312.46,127.28 L313.48,131.16 L314.97,132.54 L316.4,136.31 L317.76,137.75 L319.17,138.57 L320.53,140 L321.72,142.92 L323.07,143.18 L324.63,146.19 L325.89,145.86 L327.13,148.12 L328.47,150.3 L329.92,152.53 L331.36,153.29 L332.67,156.13 L334.14,157.27 L335.61,161.15 L336.96,166.51 L338.53,169.39 L339.75,168.33" stroke="#fff" stroke-width="5.4"/>
<path d="M283,102.1 L284.18,104.25 L285.56,106.57 L286.5,107.77 L287.76,109.31 L288.9,110.71 L290.32,112.49 L291.69,112.35 L292.62,112.96 L293.94,112.92 L295.29,113.75 L296.12,113.89 L297.1,113.87 L298.01,114.93 L298.96,115.33 L299.78,116.43 L300.89,117.51 L302.16,117.54 L303.68,117.95 L304.81,119.38 L305.94,119.68 L307.4,122.2 L308.23,124.04 L309.11,125.01 L310.18,126.56 L311.74,129.53 L312.88,131.52 L314.19,132.52 L315.11,134.81 L316.36,138.11 L317.93,139.13 L319.01,141.31 L319.81,139.93 L321.07,142.99 L321.98,144.15 L323.49,145.28 L324.64,146.27 L325.67,149.8 L326.77,151.14 L328.31,151.84 L329.31,154.16 L330.51,153.85 L331.57,156.77 L332.76,156.25 L333.94,157.61 L335.24,160.61 L336.27,164.44 L337.73,168.12 L338.96,169.99" stroke="#fff" stroke-width="5.4"/>
<path d="M283,102.1 L284,103.92 L284.92,105.77 L285.95,107.19 L287.13,108.74 L288.42,110.48 L289.31,111.67 L290.35,112.84 L291.42,113.03 L292.65,113.5 L293.73,114.13 L295.01,113.47 L296.01,114.48 L297.54,116.38 L298.78,115.72 L300.2,117.56 L301.46,119.11 L302.77,119.57 L304.3,120.45 L305.41,122.52 L306.37,121.82 L307.83,123.19 L309.3,127.06 L310.45,127.38 L311.87,131.37 L312.79,131.69 L314.03,133.94 L315.09,134.79 L316.36,139.01 L317.21,138.44 L318.67,141.91 L320,141.25 L321.38,145.8 L322.98,146.95 L323.82,148.42 L324.79,149.05 L326.35,151.2 L327.26,151.06 L328.79,152.4 L330.08,154.68 L331.01,156.38 L331.85,155.8 L332.95,157.24 L333.8,160.08 L335.19,163.18 L336.1,164.01 L337.15,168.82 L338.34,173.32 L339.44,170.67" stroke="#fff" stroke-width="5.4"/>
<path d="M60,42.2 C68.33,42.22 98,42.17 110,42.3 C122,42.43 125.4,42.72 132,43 C138.6,43.28 144.82,43.35 149.6,44 C154.38,44.65 157.38,45.87 160.7,46.9 C164.02,47.93 166.93,49.02 169.5,50.2 C172.07,51.38 173.9,52.45 176.1,54 C178.3,55.55 180.5,57.57 182.7,59.5 C184.9,61.43 187.1,63.85 189.3,65.6 C191.5,67.35 193.7,68.82 195.9,70 C198.1,71.18 200.98,71.98 202.5,72.7 C204.02,73.42 203.8,73.27 205,74.3 C206.2,75.33 208.33,77.45 209.7,78.9 C211.07,80.35 212.13,82.02 213.2,83 C214.27,83.98 215.13,84.72 216.1,84.8 C217.07,84.88 218.02,84.13 219,83.5 C219.98,82.87 220.5,82.12 222,81 C223.5,79.88 225.77,78.22 228,76.8 C230.23,75.38 233.58,73.6 235.4,72.5 C237.22,71.4 237.73,70.48 238.9,70.2 C240.07,69.92 241.23,70.22 242.4,70.8 C243.57,71.38 244.73,72.53 245.9,73.7 C247.07,74.87 248.33,77.02 249.4,77.8 C250.47,78.58 251.43,78.4 252.3,78.4 C253.17,78.4 253.72,77.32 254.6,77.8 C255.48,78.28 256.52,79.65 257.6,81.3 C258.68,82.95 259.93,87.02 261.1,87.7 C262.27,88.38 263.43,85.1 264.6,85.4 C265.77,85.7 266.93,88.05 268.1,89.5 C269.27,90.95 270.43,92.85 271.6,94.1 C272.77,95.35 273.93,96.6 275.1,97 C276.27,97.4 277.43,95.92 278.6,96.5 C279.77,97.08 281,98.92 282.1,100.5 C283.2,102.08 284.68,105.08 285.2,106" stroke="#ff0000" stroke-width="3.3"/>
<path d="M283,102.1 L284.39,104.51 L285.95,106.75 L287.49,108.15 L288.66,110.02 L289.98,111.55 L290.87,111.81 L291.86,111.97 L293.12,111.45 L294.1,111.84 L295.63,112.68 L296.56,113.28 L297.47,113.54 L298.37,112.95 L299.87,114.17 L300.84,116.37 L302.34,115.71 L303.91,117.21 L305.25,117.1 L306.8,119.75 L308.38,122.41 L309.41,122.21 L310.35,122.82 L311.2,124.43 L312.48,125.72 L313.82,129.1 L314.87,132.4 L316.06,132.99 L317.24,135.9 L318.09,137.75 L318.91,138.08 L320.38,137.69 L321.81,140.49 L323.07,141 L323.91,142.56 L325.48,144.56 L326.88,148.51 L328.43,148.57 L329.52,150.36 L330.94,150.75 L332.34,154.45 L333.82,154.51 L335.38,157.12 L336.45,162.01 L337.99,167.47 L339.53,168.14" stroke="#ff0000" stroke-width="3.4"/>
<path d="M283,102.1 L283.94,103.7 L284.86,105.39 L286.46,107.29 L287.3,108.67 L288.52,109.8 L289.51,111.11 L290.98,112.23 L292.11,111.95 L293.65,112.06 L294.84,113.32 L295.74,113.34 L297.3,114.22 L298.73,114.18 L299.88,114.95 L301.36,116.16 L302.52,118.52 L304,119.49 L305.17,118.99 L306.55,120.08 L307.58,121.22 L308.5,122.36 L310.09,126.25 L311.39,126.62 L312.46,127.28 L313.48,131.16 L314.97,132.54 L316.4,136.31 L317.76,137.75 L319.17,138.57 L320.53,140 L321.72,142.92 L323.07,143.18 L324.63,146.19 L325.89,145.86 L327.13,148.12 L328.47,150.3 L329.92,152.53 L331.36,153.29 L332.67,156.13 L334.14,157.27 L335.61,161.15 L336.96,166.51 L338.53,169.39 L339.75,168.33" stroke="#ff0000" stroke-width="3.4"/>
<path d="M283,102.1 L284.18,104.25 L285.56,106.57 L286.5,107.77 L287.76,109.31 L288.9,110.71 L290.32,112.49 L291.69,112.35 L292.62,112.96 L293.94,112.92 L295.29,113.75 L296.12,113.89 L297.1,113.87 L298.01,114.93 L298.96,115.33 L299.78,116.43 L300.89,117.51 L302.16,117.54 L303.68,117.95 L304.81,119.38 L305.94,119.68 L307.4,122.2 L308.23,124.04 L309.11,125.01 L310.18,126.56 L311.74,129.53 L312.88,131.52 L314.19,132.52 L315.11,134.81 L316.36,138.11 L317.93,139.13 L319.01,141.31 L319.81,139.93 L321.07,142.99 L321.98,144.15 L323.49,145.28 L324.64,146.27 L325.67,149.8 L326.77,151.14 L328.31,151.84 L329.31,154.16 L330.51,153.85 L331.57,156.77 L332.76,156.25 L333.94,157.61 L335.24,160.61 L336.27,164.44 L337.73,168.12 L338.96,169.99" stroke="#ff0000" stroke-width="3.4"/>
<path d="M283,102.1 L284,103.92 L284.92,105.77 L285.95,107.19 L287.13,108.74 L288.42,110.48 L289.31,111.67 L290.35,112.84 L291.42,113.03 L292.65,113.5 L293.73,114.13 L295.01,113.47 L296.01,114.48 L297.54,116.38 L298.78,115.72 L300.2,117.56 L301.46,119.11 L302.77,119.57 L304.3,120.45 L305.41,122.52 L306.37,121.82 L307.83,123.19 L309.3,127.06 L310.45,127.38 L311.87,131.37 L312.79,131.69 L314.03,133.94 L315.09,134.79 L316.36,139.01 L317.21,138.44 L318.67,141.91 L320,141.25 L321.38,145.8 L322.98,146.95 L323.82,148.42 L324.79,149.05 L326.35,151.2 L327.26,151.06 L328.79,152.4 L330.08,154.68 L331.01,156.38 L331.85,155.8 L332.95,157.24 L333.8,160.08 L335.19,163.18 L336.1,164.01 L337.15,168.82 L338.34,173.32 L339.44,170.67" stroke="#ff0000" stroke-width="3.4"/>
<path d="M60,57.5 C68.33,57.53 93.22,57.55 110,57.7 C126.78,57.85 149.68,58.1 160.7,58.4 C171.72,58.7 171.7,58.88 176.1,59.5 C180.5,60.12 183.43,61.08 187.1,62.1 C190.77,63.12 195.12,64.65 198.1,65.6 C201.08,66.55 203.07,66.93 205,67.8 C206.93,68.67 208.15,69.62 209.7,70.8 C211.25,71.98 212.55,73.73 214.3,74.9 C216.05,76.07 218.25,77.27 220.2,77.8 C222.15,78.33 224.05,78.3 226,78.1 C227.95,77.9 230.15,76.95 231.9,76.6 C233.65,76.25 234.95,75.7 236.5,76 C238.05,76.3 239.63,77.03 241.2,78.4 C242.77,79.77 244.35,81.87 245.9,84.2 C247.45,86.53 249.05,89.43 250.5,92.4 C251.95,95.37 253.23,101.13 254.6,102 C255.97,102.87 257.33,99.1 258.7,97.6 C260.07,96.1 261.63,93.38 262.8,93 C263.97,92.62 264.53,93.85 265.7,95.3 C266.87,96.75 268.43,100.53 269.8,101.7 C271.17,102.87 272.83,102.4 273.9,102.3 C274.97,102.2 275.23,100.8 276.2,101.1 C277.17,101.4 278.53,102.73 279.7,104.1 C280.87,105.47 282.15,107.15 283.2,109.3 C284.25,111.45 285.53,115.72 286,117" stroke="#fff" stroke-width="5"/>
<path d="M283,109 L284.46,112.66 L285.47,115.23 L286.8,118.78 L288.2,122.22 L289.62,125.65 L291.06,128.21 L292.19,127.95 L293.54,127.44 L294.78,127.03 L295.79,125.51 L297.14,123.56 L298.21,122.76 L299.65,125.76 L300.81,125.61 L301.77,127.87 L302.8,129.84 L304.07,129.67 L305.39,131.77 L306.94,135.33 L308.15,136.46 L309.51,140.34 L311.09,141.96 L312.18,146.41 L313.22,148.98 L314.1,149.68 L315.32,145.61 L316.65,144.4 L317.6,146.33 L318.51,146.85 L320.01,150.51 L320.82,151.94 L321.63,151.8 L323.15,155.04 L324.2,155.96 L325.31,156.96 L326.91,159.26 L328.05,162.91 L329.17,165.12 L330.16,166.46 L331.68,167.57 L333.19,170.02 L334.65,174.84 L335.87,177.04 L337.23,181.5 L338.1,185.14 L339.11,184.36" stroke="#fff" stroke-width="5.2"/>
<path d="M283,109 L283.82,110.94 L285.09,114.42 L286.09,117.16 L287.64,120.95 L288.76,124.2 L290.05,127.01 L291.23,128.3 L292.15,128.17 L293.19,128.66 L294.25,128.11 L295.83,126.19 L296.93,124.07 L297.98,123.7 L299.18,125.87 L300.72,126.69 L301.53,127.98 L302.37,128 L303.79,129.98 L305.17,132.43 L306.72,135.89 L307.57,135.12 L309.13,139.87 L310.26,143.23 L311.72,145.98 L312.89,147.74 L313.98,148.7 L315.28,148.2 L316.2,146.94 L317.07,145.48 L318.39,148.49 L319.91,151.23 L321.27,151.72 L322.74,153.84 L324.03,158.36 L325.56,160.72 L326.72,161.95 L328.15,162.3 L329.71,166.7 L330.86,167.86 L332.02,167.92 L333.39,170.46 L334.83,176.9 L335.86,179.48 L336.72,182.19 L337.75,186.01 L338.89,186.73 L339.72,184.22" stroke="#fff" stroke-width="5.2"/>
<path d="M283,109 L284.23,112.09 L285.17,114.72 L286.01,117.26 L287.42,120.96 L288.78,124.12 L289.64,126.64 L290.53,128.7 L291.71,128.68 L292.57,128.22 L293.78,128.12 L295,126.78 L296.03,125.25 L297.28,123.79 L298.26,124.36 L299.51,127.22 L300.65,127.09 L301.7,128.51 L302.96,131.37 L304.21,131.63 L305.27,133.57 L306.43,135.2 L308.02,138 L309.35,141.82 L310.67,145.38 L311.77,147.7 L313.35,150.14 L314.65,149.52 L315.5,147.26 L316.9,146.32 L318.27,148.29 L319.37,149.7 L320.6,153.78 L321.58,154.56 L323.12,156.14 L324.3,159.28 L325.79,159.97 L327.12,161.91 L328.01,165.7 L328.85,166.64 L330.25,167.8 L331.63,169.58 L332.66,170.79 L333.62,174.51 L335.04,177.95 L336.01,180.04 L337.02,184.06 L338.41,188.02 L339.78,187.08" stroke="#fff" stroke-width="5.2"/>
<path d="M283,109 L284.28,112.27 L285.37,115.31 L286.93,119.4 L288.47,123.95 L289.61,126.92 L290.46,128.54 L291.26,128.6 L292.07,129.44 L292.94,129.24 L293.95,128.72 L295.09,127.21 L296.67,125.26 L297.95,125.23 L299.25,126.73 L300.26,127.31 L301.77,129.29 L302.93,132.23 L304.19,134.44 L305.64,135.4 L306.54,136.91 L307.72,139.4 L308.94,141.79 L310.39,144.74 L311.86,149.71 L312.79,152.08 L314.28,152.53 L315.35,149.16 L316.26,148.21 L317.74,149.37 L318.55,150.38 L319.41,152.61 L320.83,155.6 L321.7,155.25 L322.6,158.24 L324.07,159.38 L325.63,161.85 L327.05,163.99 L328.15,166.99 L329.62,167.77 L331.11,169.95 L332.55,170.45 L333.46,172.9 L334.74,178.03 L335.66,179.76 L336.55,183.23 L337.98,186.28 L339.56,188.09" stroke="#fff" stroke-width="5.2"/>
<path d="M60,57.5 C68.33,57.53 93.22,57.55 110,57.7 C126.78,57.85 149.68,58.1 160.7,58.4 C171.72,58.7 171.7,58.88 176.1,59.5 C180.5,60.12 183.43,61.08 187.1,62.1 C190.77,63.12 195.12,64.65 198.1,65.6 C201.08,66.55 203.07,66.93 205,67.8 C206.93,68.67 208.15,69.62 209.7,70.8 C211.25,71.98 212.55,73.73 214.3,74.9 C216.05,76.07 218.25,77.27 220.2,77.8 C222.15,78.33 224.05,78.3 226,78.1 C227.95,77.9 230.15,76.95 231.9,76.6 C233.65,76.25 234.95,75.7 236.5,76 C238.05,76.3 239.63,77.03 241.2,78.4 C242.77,79.77 244.35,81.87 245.9,84.2 C247.45,86.53 249.05,89.43 250.5,92.4 C251.95,95.37 253.23,101.13 254.6,102 C255.97,102.87 257.33,99.1 258.7,97.6 C260.07,96.1 261.63,93.38 262.8,93 C263.97,92.62 264.53,93.85 265.7,95.3 C266.87,96.75 268.43,100.53 269.8,101.7 C271.17,102.87 272.83,102.4 273.9,102.3 C274.97,102.2 275.23,100.8 276.2,101.1 C277.17,101.4 278.53,102.73 279.7,104.1 C280.87,105.47 282.15,107.15 283.2,109.3 C284.25,111.45 285.53,115.72 286,117" stroke="#0000ff" stroke-width="3.2"/>
<path d="M283,109 L284.46,112.66 L285.47,115.23 L286.8,118.78 L288.2,122.22 L289.62,125.65 L291.06,128.21 L292.19,127.95 L293.54,127.44 L294.78,127.03 L295.79,125.51 L297.14,123.56 L298.21,122.76 L299.65,125.76 L300.81,125.61 L301.77,127.87 L302.8,129.84 L304.07,129.67 L305.39,131.77 L306.94,135.33 L308.15,136.46 L309.51,140.34 L311.09,141.96 L312.18,146.41 L313.22,148.98 L314.1,149.68 L315.32,145.61 L316.65,144.4 L317.6,146.33 L318.51,146.85 L320.01,150.51 L320.82,151.94 L321.63,151.8 L323.15,155.04 L324.2,155.96 L325.31,156.96 L326.91,159.26 L328.05,162.91 L329.17,165.12 L330.16,166.46 L331.68,167.57 L333.19,170.02 L334.65,174.84 L335.87,177.04 L337.23,181.5 L338.1,185.14 L339.11,184.36" stroke="#0000ff" stroke-width="3.3"/>
<path d="M283,109 L283.82,110.94 L285.09,114.42 L286.09,117.16 L287.64,120.95 L288.76,124.2 L290.05,127.01 L291.23,128.3 L292.15,128.17 L293.19,128.66 L294.25,128.11 L295.83,126.19 L296.93,124.07 L297.98,123.7 L299.18,125.87 L300.72,126.69 L301.53,127.98 L302.37,128 L303.79,129.98 L305.17,132.43 L306.72,135.89 L307.57,135.12 L309.13,139.87 L310.26,143.23 L311.72,145.98 L312.89,147.74 L313.98,148.7 L315.28,148.2 L316.2,146.94 L317.07,145.48 L318.39,148.49 L319.91,151.23 L321.27,151.72 L322.74,153.84 L324.03,158.36 L325.56,160.72 L326.72,161.95 L328.15,162.3 L329.71,166.7 L330.86,167.86 L332.02,167.92 L333.39,170.46 L334.83,176.9 L335.86,179.48 L336.72,182.19 L337.75,186.01 L338.89,186.73 L339.72,184.22" stroke="#0000ff" stroke-width="3.3"/>
<path d="M283,109 L284.23,112.09 L285.17,114.72 L286.01,117.26 L287.42,120.96 L288.78,124.12 L289.64,126.64 L290.53,128.7 L291.71,128.68 L292.57,128.22 L293.78,128.12 L295,126.78 L296.03,125.25 L297.28,123.79 L298.26,124.36 L299.51,127.22 L300.65,127.09 L301.7,128.51 L302.96,131.37 L304.21,131.63 L305.27,133.57 L306.43,135.2 L308.02,138 L309.35,141.82 L310.67,145.38 L311.77,147.7 L313.35,150.14 L314.65,149.52 L315.5,147.26 L316.9,146.32 L318.27,148.29 L319.37,149.7 L320.6,153.78 L321.58,154.56 L323.12,156.14 L324.3,159.28 L325.79,159.97 L327.12,161.91 L328.01,165.7 L328.85,166.64 L330.25,167.8 L331.63,169.58 L332.66,170.79 L333.62,174.51 L335.04,177.95 L336.01,180.04 L337.02,184.06 L338.41,188.02 L339.78,187.08" stroke="#0000ff" stroke-width="3.3"/>
<path d="M283,109 L284.28,112.27 L285.37,115.31 L286.93,119.4 L288.47,123.95 L289.61,126.92 L290.46,128.54 L291.26,128.6 L292.07,129.44 L292.94,129.24 L293.95,128.72 L295.09,127.21 L296.67,125.26 L297.95,125.23 L299.25,126.73 L300.26,127.31 L301.77,129.29 L302.93,132.23 L304.19,134.44 L305.64,135.4 L306.54,136.91 L307.72,139.4 L308.94,141.79 L310.39,144.74 L311.86,149.71 L312.79,152.08 L314.28,152.53 L315.35,149.16 L316.26,148.21 L317.74,149.37 L318.55,150.38 L319.41,152.61 L320.83,155.6 L321.7,155.25 L322.6,158.24 L324.07,159.38 L325.63,161.85 L327.05,163.99 L328.15,166.99 L329.62,167.77 L331.11,169.95 L332.55,170.45 L333.46,172.9 L334.74,178.03 L335.66,179.76 L336.55,183.23 L337.98,186.28 L339.56,188.09" stroke="#0000ff" stroke-width="3.3"/>
</g>
<g clip-path="url(#cl)" fill="none" stroke-linejoin="round" stroke-linecap="round">
<path d="M60,359.3 C67.56,359.3 127.1,359.43 135.6,359.3 C144.1,359.17 143.25,358.18 145,358 C146.75,357.82 151.8,357.4 153.1,357.5 C154.4,357.6 157.11,358.65 158,359 C158.89,359.35 161.09,360.54 162,361 C162.91,361.46 166.3,362.5 167.1,363.6 C167.9,364.7 169.31,369.36 170,372 C170.69,374.64 173.2,387 174,390 C174.8,393 176.98,399.26 178,402 C179.02,404.74 183,414.8 184.2,417.4 C185.4,420 189.12,426.01 190,428 C190.88,429.99 192.4,435.6 193,437.3 C193.6,439 195.45,443.46 196,445 C196.55,446.54 198.03,450.4 198.5,452.7 C198.97,455 200.15,466.02 200.7,468 C201.25,469.98 203.42,473.3 204,472.5 C204.58,471.7 206.05,462.65 206.5,460 C206.95,457.35 208.15,446.5 208.5,446 C208.85,445.5 209.67,452.8 210,455 C210.33,457.2 211.4,465.5 211.8,468 C212.2,470.5 213.56,478 214,480 C214.44,482 215.75,488 216.2,488 C216.65,488 218.06,482 218.5,480 C218.94,478 220.2,472 220.6,468 C221,464 222.09,445.76 222.5,440 C222.91,434.24 224.3,410.4 224.7,410.4 C225.1,410.4 226.07,434.84 226.5,440 C226.93,445.16 228.55,461 229,462 C229.45,463 230.5,451.5 231,450 C231.5,448.5 233.5,446.8 234,447 C234.5,447.2 235.55,452.7 236,452 C236.45,451.3 238,443.7 238.5,440 C239,436.3 240.55,419 241,415 C241.45,411 242.6,398.5 243,400 C243.4,401.5 244.5,424.3 245,430 C245.5,435.7 247.5,456 248,457 C248.5,458 249.65,445.2 250,440 C250.35,434.8 251.15,412.22 251.5,405 C251.85,397.78 253.1,368.8 253.5,367.8 C253.9,366.8 255.3,392.28 255.5,395" stroke="#fff" stroke-width="4.6"/>
<path d="M60,359.3 C67.56,359.3 127.1,359.43 135.6,359.3 C144.1,359.17 143.25,358.18 145,358 C146.75,357.82 151.8,357.4 153.1,357.5 C154.4,357.6 157.11,358.65 158,359 C158.89,359.35 161.09,360.54 162,361 C162.91,361.46 166.3,362.5 167.1,363.6 C167.9,364.7 169.31,369.36 170,372 C170.69,374.64 173.2,387 174,390 C174.8,393 176.98,399.26 178,402 C179.02,404.74 183,414.8 184.2,417.4 C185.4,420 189.12,426.01 190,428 C190.88,429.99 192.4,435.6 193,437.3 C193.6,439 195.45,443.46 196,445 C196.55,446.54 198.03,450.4 198.5,452.7 C198.97,455 200.15,466.02 200.7,468 C201.25,469.98 203.42,473.3 204,472.5 C204.58,471.7 206.05,462.65 206.5,460 C206.95,457.35 208.15,446.5 208.5,446 C208.85,445.5 209.67,452.8 210,455 C210.33,457.2 211.4,465.5 211.8,468 C212.2,470.5 213.56,478 214,480 C214.44,482 215.75,488 216.2,488 C216.65,488 218.06,482 218.5,480 C218.94,478 220.2,472 220.6,468 C221,464 222.09,445.76 222.5,440 C222.91,434.24 224.3,410.4 224.7,410.4 C225.1,410.4 226.07,434.84 226.5,440 C226.93,445.16 228.55,461 229,462 C229.45,463 230.5,451.5 231,450 C231.5,448.5 233.5,446.8 234,447 C234.5,447.2 235.55,452.7 236,452 C236.45,451.3 238,443.7 238.5,440 C239,436.3 240.55,419 241,415 C241.45,411 242.6,398.5 243,400 C243.4,401.5 244.5,424.3 245,430 C245.5,435.7 247.5,456 248,457 C248.5,458 249.65,445.2 250,440 C250.35,434.8 251.15,412.22 251.5,405 C251.85,397.78 253.1,368.8 253.5,367.8 C253.9,366.8 255.3,392.28 255.5,395 L255.5,395.83 L256.56,421.39 L257.42,403.52 L258.37,453.93 L259.49,428.95 L260.53,458.67 L261.6,422.02 L262.58,468.38 L263.74,427.91 L264.87,472.71 L265.94,438.32 L266.9,458.3 L267.71,436.01 L268.88,459.85 L269.71,442.6 L270.89,457.04 L271.86,429.8 L272.78,440.28 L273.65,431.19 L274.47,440.04 L275.6,429.22 L276.56,436.67 L277.56,428.61 L278.37,434.82 L279.55,429 L280.62,433.94 L281.56,425.55 L282.63,432.89 L283.53,422.21 L284.53,428.68 L285.53,419.6 L286.66,429 L287.67,419.13 L288.64,426.87 L289.75,409.88 L290.77,336 L291.85,368.86 L292.76,416.39 L293.81,366.36 L294.8,420.73 L295.71,374.2 L296.89,415.09 L298.08,366.26 L299.25,417.68 L300.12,376.33 L301.29,425.08 L302.19,372.37 L303.13,418.34 L303.93,349.09 L304.98,396.82 L306.18,355.71 L306.99,412.91 L308.1,360.37 L309.16,413.42 L310.17,267 L311.22,410.55 L312.4,357.72 L313.27,408.77 L314.41,340.23 L315.59,401.71 L316.67,354.13 L317.56,408.07 L318.46,322 L319.54,412.27 L320.69,346.92 L321.59,403.66 L322.78,326 L323.83,390.47 L325.01,359.13 L325.98,400.34 L327.14,357.55 L328.17,277 L329.12,352.01 L330.15,414.15 L331.23,355.91 L332.35,385.1 L333.51,337.6 L334.63,397.89 L335.47,325.87 L336.39,375.06 L337.47,328.11" stroke="#848484" stroke-width="2.8"/>
<path d="M60,364.2 C66.35,364.36 97.76,364.68 107.6,365.4 C117.44,366.12 128.43,368.32 133.8,369.6 C139.17,370.88 145.07,373.75 147.9,375 C150.73,376.25 153.24,377.75 155,379 C156.76,380.25 159.63,383 161.1,384.4 C162.57,385.8 164.68,387.74 166,389.5 C167.32,391.26 169.87,395.4 171,397.6 C172.13,399.8 173.62,403.65 174.5,406 C175.38,408.35 176.31,410.73 177.6,415.2 C178.89,419.67 182.44,433.33 184.2,439.5 C185.96,445.67 189.33,457.25 190.8,461.5 C192.27,465.75 194.03,469.79 195.2,471.4 C196.37,473.01 198.56,473.72 199.6,473.6 C200.64,473.48 202.11,471.31 203,470.5 C203.89,469.69 205.27,467.53 206.3,467.5 C207.33,467.47 209.74,468.9 210.7,470.3 C211.66,471.7 212.86,476.44 213.5,478 C214.14,479.56 214.9,482.27 215.5,482 C216.1,481.73 217.43,478.67 218,476 C218.57,473.33 219.31,466.13 219.8,462 C220.29,457.87 221.14,449.8 221.7,445 C222.26,440.2 223.43,428.27 224,426 C224.57,423.73 225.33,426.8 226,428 C226.67,429.2 228.33,433.73 229,435 C229.67,436.27 230.33,438.09 231,437.5 C231.67,436.91 233.2,433.68 234,430.6 C234.8,427.52 236.2,418.44 237,414.4 C237.8,410.36 239.2,403.79 240,400.3 C240.8,396.81 242.27,390.77 243,388.2 C243.73,385.63 244.83,381.83 245.5,381 C246.17,380.17 247.4,383.47 248,382 C248.6,380.53 249.47,375.6 250,370 C250.53,364.4 251.39,348.6 252,340 C252.61,331.4 253.89,306.3 254.6,305.5 C255.31,304.7 256.59,324.73 257.3,334 C258.01,343.27 259.21,365.67 259.9,375 C260.59,384.33 261.82,400.67 262.5,404 C263.18,407.33 264.27,403.47 265,400 C265.73,396.53 267.25,384.24 268,378 C268.75,371.76 269.93,352.27 270.6,353.2 C271.27,354.13 272.28,376.36 273,385 C273.72,393.64 275.2,414.67 276,418 C276.8,421.33 278.33,414.8 279,410 C279.67,405.2 280.47,384.93 281,382 C281.53,379.07 282.4,386.13 283,388 C283.6,389.87 284.73,400.8 285.5,396 C286.27,391.2 288.36,357.87 288.8,352" stroke="#fff" stroke-width="6.8"/>
<path d="M60,364.2 C66.35,364.36 97.76,364.68 107.6,365.4 C117.44,366.12 128.43,368.32 133.8,369.6 C139.17,370.88 145.07,373.75 147.9,375 C150.73,376.25 153.24,377.75 155,379 C156.76,380.25 159.63,383 161.1,384.4 C162.57,385.8 164.68,387.74 166,389.5 C167.32,391.26 169.87,395.4 171,397.6 C172.13,399.8 173.62,403.65 174.5,406 C175.38,408.35 176.31,410.73 177.6,415.2 C178.89,419.67 182.44,433.33 184.2,439.5 C185.96,445.67 189.33,457.25 190.8,461.5 C192.27,465.75 194.03,469.79 195.2,471.4 C196.37,473.01 198.56,473.72 199.6,473.6 C200.64,473.48 202.11,471.31 203,470.5 C203.89,469.69 205.27,467.53 206.3,467.5 C207.33,467.47 209.74,468.9 210.7,470.3 C211.66,471.7 212.86,476.44 213.5,478 C214.14,479.56 214.9,482.27 215.5,482 C216.1,481.73 217.43,478.67 218,476 C218.57,473.33 219.31,466.13 219.8,462 C220.29,457.87 221.14,449.8 221.7,445 C222.26,440.2 223.43,428.27 224,426 C224.57,423.73 225.33,426.8 226,428 C226.67,429.2 228.33,433.73 229,435 C229.67,436.27 230.33,438.09 231,437.5 C231.67,436.91 233.2,433.68 234,430.6 C234.8,427.52 236.2,418.44 237,414.4 C237.8,410.36 239.2,403.79 240,400.3 C240.8,396.81 242.27,390.77 243,388.2 C243.73,385.63 244.83,381.83 245.5,381 C246.17,380.17 247.4,383.47 248,382 C248.6,380.53 249.47,375.6 250,370 C250.53,364.4 251.39,348.6 252,340 C252.61,331.4 253.89,306.3 254.6,305.5 C255.31,304.7 256.59,324.73 257.3,334 C258.01,343.27 259.21,365.67 259.9,375 C260.59,384.33 261.82,400.67 262.5,404 C263.18,407.33 264.27,403.47 265,400 C265.73,396.53 267.25,384.24 268,378 C268.75,371.76 269.93,352.27 270.6,353.2 C271.27,354.13 272.28,376.36 273,385 C273.72,393.64 275.2,414.67 276,418 C276.8,421.33 278.33,414.8 279,410 C279.67,405.2 280.47,384.93 281,382 C281.53,379.07 282.4,386.13 283,388 C283.6,389.87 284.73,400.8 285.5,396 C286.27,391.2 288.36,357.87 288.8,352" stroke="#000" stroke-width="5"/>
<path d="M288.8,352 L288.8,359.77 L289.57,377.77 L290.31,360.85 L291.08,399.01 L291.84,367.14 L292.68,408.88 L293.37,355.72 L294.21,398.15 L294.82,382.78 L295.71,400.19 L296.5,360.03 L297.1,404.64 L297.72,361.71 L298.39,419.77 L299.13,369.67 L299.98,405.48 L300.77,371.09 L301.57,406.3 L302.26,384.64 L303.16,393.55 L303.97,353.48 L304.64,398.61 L305.26,353.14 L305.98,368.19 L306.69,351.36 L307.55,398.95 L308.21,347.63 L308.95,359.67 L309.67,313.84 L310.46,366.57 L311.14,314.33 L311.84,358.65 L312.67,315.42 L313.34,391.01 L313.96,344.11 L314.61,377.47 L315.35,327.58 L316.17,396.45 L316.96,331.57 L317.69,397.26 L318.37,363.82 L319.21,395.41 L320.07,337.61 L320.79,376.99 L321.58,332.81 L322.48,400.09 L323.16,357.51 L323.86,398.83 L324.48,335.14 L325.25,402.38 L326.04,346.89 L326.77,379.06 L327.52,354.12 L328.38,405.78 L329.02,363.45 L329.87,402.39 L330.52,354.37 L331.41,403.48 L332.29,355.86 L333.07,389.48 L333.7,313.86 L334.59,390.6 L335.4,313.51 L336.25,369.96 L336.94,309.18 L337.76,387.94" stroke="#000" stroke-width="4.6"/>
</g>
<g stroke-width="2.6" stroke-dasharray="8.2 4.37" fill="none">
<line x1="161.4" y1="3.9" x2="161.4" y2="503" stroke="#ff0000"/>
<line x1="208.3" y1="3.9" x2="208.3" y2="503" stroke="#0000ff"/>
</g>
<g stroke="#000" fill="none">
<path d="M59.2,0.55 H337.9 V503 H59.2 Z" stroke-width="1.8"/>
<line x1="59.2" y1="251.9" x2="337.9" y2="251.9" stroke-width="1.8"/>
<path d="M65.61,503V500M65.61,251.9V248.5M73.37,503V500M73.37,251.9V248.5M79.72,503V500M79.72,251.9V248.5M85.08,503V500M85.08,251.9V248.5M89.73,503V500M89.73,251.9V248.5M93.83,503V500M93.83,251.9V248.5M97.5,503V498M121.63,503V500M121.63,251.9V248.5M135.74,503V500M135.74,251.9V248.5M145.76,503V500M145.76,251.9V248.5M153.52,503V500M153.52,251.9V248.5M159.87,503V500M159.87,251.9V248.5M165.23,503V500M165.23,251.9V248.5M169.88,503V500M169.88,251.9V248.5M173.98,503V500M173.98,251.9V248.5M177.65,503V498M201.78,503V500M201.78,251.9V248.5M215.89,503V500M215.89,251.9V248.5M225.91,503V500M225.91,251.9V248.5M233.67,503V500M233.67,251.9V248.5M240.02,503V500M240.02,251.9V248.5M245.38,503V500M245.38,251.9V248.5M250.03,503V500M250.03,251.9V248.5M254.13,503V500M254.13,251.9V248.5M257.8,503V498M281.93,503V500M281.93,251.9V248.5M296.04,503V500M296.04,251.9V248.5M306.06,503V500M306.06,251.9V248.5M313.82,503V500M313.82,251.9V248.5M320.17,503V500M320.17,251.9V248.5M325.53,503V500M325.53,251.9V248.5M330.18,503V500M330.18,251.9V248.5M334.28,503V500M334.28,251.9V248.5" stroke-width="1.3"/>
</g>
<g stroke="#000" fill="none" stroke-width="1.9">
<path d="M379.2,12 V251.9 H679"/>
<path d="M379.2,274 V502.6 H679"/>
</g>
<g fill="#000">
<path d="M379.2,5.1 L374.3,12.8 L384.1,12.8 Z"/>
<path d="M379.2,267 L374.3,274.7 L384.1,274.7 Z"/>
<path d="M686,251.9 L678.1,247.3 L678.1,256.5 Z"/>
<path d="M686,502.6 L678.1,498 L678.1,507.2 Z"/>
</g>
<path d="M385.83,502.6V499.6M393.59,502.6V499.6M399.93,502.6V499.6M405.29,502.6V499.6M409.93,502.6V499.6M414.03,502.6V499.6M417.69,502.6V497.4M455.89,502.6V499.6M465.9,502.6V499.6M473.66,502.6V499.6M480,502.6V499.6M485.36,502.6V499.6M490,502.6V499.6M494.1,502.6V499.6M497.76,502.6V497.4M521.86,502.6V499.6M535.96,502.6V499.6M545.97,502.6V499.6M553.73,502.6V499.6M560.07,502.6V499.6M565.43,502.6V499.6M570.07,502.6V499.6M574.17,502.6V499.6M577.83,502.6V497.4M601.93,502.6V499.6M616.03,502.6V499.6M626.04,502.6V499.6M633.8,502.6V499.6M640.14,502.6V499.6M645.5,502.6V499.6M650.14,502.6V499.6M654.24,502.6V499.6M657.9,502.6V497.4" stroke="#000" stroke-width="1.3" fill="none"/>
<g fill="none" stroke-linecap="round" stroke-linejoin="round">
<path d="M392.3,86.3 L393.3,86.3 L394.3,86.3 L395.3,86.3 L396.3,86.3 L397.3,86.3 L398.3,86.3 L399.3,86.3 L400.3,86.3 L401.3,86.3 L402.3,86.3 L403.3,86.3 L404.3,86.3 L405.3,86.3 L406.3,86.3 L407.3,86.3 L408.3,86.3 L409.3,86.3 L410.3,86.3 L411.3,86.3 L412.3,86.3 L413.3,86.3 L414.3,86.3 L415.3,86.3 L416.3,86.3 L417.3,86.3 L418.3,86.3 L419.3,86.3 L420.3,86.3 L421.3,86.3 L422.3,86.3 L423.3,86.3 L424.3,86.3 L425.3,86.3 L426.3,86.3 L427.3,86.3 L428.3,86.3 L429.3,86.3 L430.3,86.3 L431.3,86.3 L432.3,86.3 L433.3,86.3 L434.3,86.3 L435.3,86.3 L436.3,86.3 L437.3,86.3 L438.3,86.3 L439.3,86.31 L440.3,86.31 L441.3,86.31 L442.3,86.31 L443.3,86.32 L444.3,86.32 L445.3,86.33 L446.3,86.34 L447.3,86.35 L448.3,86.36 L449.3,86.38 L450.3,86.4 L451.3,86.43 L452.3,86.46 L453.3,86.51 L454.3,86.57 L455.3,86.64 L456.3,86.74 L457.3,86.85 L458.3,87.01 L459.3,87.19 L460.3,87.43 L461.3,87.72 L462.3,88.09 L463.3,88.53 L464.3,89.06 L465.3,89.69 L466.3,90.43 L467.3,91.29 L468.3,92.27 L469.3,93.37 L470.3,94.59 L471.3,95.91 L472.3,97.34 L473.3,98.85 L474.3,100.44 L475.3,102.09 L476.3,103.8 L477.3,105.56 L478.3,107.35 L479.3,109.17 L480.3,111.02 L481.3,112.88 L482.3,114.76 L483.3,116.66 L484.3,118.56 L485.3,120.47 L486.3,122.38 L487.3,124.3 L488.3,126.23 L489.3,128.15 L490.3,130.08 L491.3,132.01 L492.3,133.94 L493.3,135.87 L494.3,137.81 L495.3,139.74 L496.3,141.68 L497.3,143.61 L498.3,145.55 L499.3,147.48 L500.3,149.42 L501.3,151.35 L502.3,153.29 L503.3,155.22 L504.3,157.16 L505.3,159.09 L506.3,161.03 L507.3,162.97 L508.3,164.9 L509.3,166.84 L510.3,168.77 L511.3,170.71 L512.3,172.65 L513.3,174.58 L514.3,176.52 L515.3,178.45 L516.3,180.39 L517.3,182.33 L518.3,184.26 L519.3,186.2 L520.3,188.13 L521.3,190.07 L522.3,192.01 L523.3,193.94 L524.3,195.88 L525.3,197.81 L526.3,199.75 L527.3,201.69 L528.3,203.62 L529.3,205.56 L530.3,207.49 L531.3,209.43 L532.3,211.37 L533.3,213.3 L534.3,215.24 L535.3,217.17 L536.3,219.11 L537.3,221.05 L538.3,222.98 L539.3,224.92 L540.3,226.85 L541.3,228.79 L542.3,230.73 L543.3,232.66 L544.3,234.6 L545.3,236.53 L546.3,238.47 L547.3,240.41 L548.3,241.7" stroke="#0000ff" stroke-width="3.4"/>
<path d="M392.3,46.4 L393.3,46.4 L394.3,46.41 L395.3,46.41 L396.3,46.41 L397.3,46.42 L398.3,46.42 L399.3,46.43 L400.3,46.43 L401.3,46.43 L402.3,46.44 L403.3,46.44 L404.3,46.44 L405.3,46.45 L406.3,46.45 L407.3,46.45 L408.3,46.46 L409.3,46.46 L410.3,46.46 L411.3,46.47 L412.3,46.47 L413.3,46.48 L414.3,46.48 L415.3,46.48 L416.3,46.49 L417.3,46.49 L418.3,46.49 L419.3,46.5 L420.3,46.51 L421.3,46.56 L422.3,46.6 L423.3,46.64 L424.3,46.69 L425.3,46.73 L426.3,46.78 L427.3,46.82 L428.3,46.86 L429.3,46.91 L430.3,46.95 L431.3,46.99 L432.3,47.04 L433.3,47.08 L434.3,47.13 L435.3,47.17 L436.3,47.25 L437.3,47.44 L438.3,47.62 L439.3,47.8 L440.3,47.98 L441.3,48.16 L442.3,48.35 L443.3,48.53 L444.3,48.71 L445.3,48.89 L446.3,49.07 L447.3,49.25 L448.3,49.44 L449.3,49.65 L450.3,50.13 L451.3,50.62 L452.3,51.1 L453.3,51.58 L454.3,52.07 L455.3,52.66 L456.3,53.69 L457.3,54.82 L458.3,56.04 L459.3,57.36 L460.3,58.75 L461.3,60.22 L462.3,61.75 L463.3,63.33 L464.3,64.97 L465.3,66.64 L466.3,68.34 L467.3,70.08 L468.3,71.83 L469.3,73.61 L470.3,75.4 L471.3,77.2 L472.3,79.01 L473.3,80.83 L474.3,82.66 L475.3,84.49 L476.3,86.33 L477.3,88.17 L478.3,90.01 L479.3,91.86 L480.3,93.71 L481.3,95.55 L482.3,97.4 L483.3,99.25 L484.3,101.1 L485.3,102.96 L486.3,104.81 L487.3,106.66 L488.3,108.51 L489.3,110.37 L490.3,112.22 L491.3,114.07 L492.3,115.93 L493.3,117.78 L494.3,119.63 L495.3,121.49 L496.3,123.34 L497.3,125.2 L498.3,127.05 L499.3,128.9 L500.3,130.76 L501.3,132.61 L502.3,134.47 L503.3,136.32 L504.3,138.17 L505.3,140.03 L506.3,141.88 L507.3,143.74 L508.3,145.59 L509.3,147.44 L510.3,149.3 L511.3,151.15 L512.3,153.01 L513.3,154.86 L514.3,156.71 L515.3,158.57 L516.3,160.42 L517.3,162.28 L518.3,164.13 L519.3,165.98 L520.3,167.84 L521.3,169.69 L522.3,171.55 L523.3,173.4 L524.3,175.25 L525.3,177.11 L526.3,178.96 L527.3,180.82 L528.3,182.67 L529.3,184.52 L530.3,186.38 L531.3,188.23 L532.3,190.09 L533.3,191.94 L534.3,193.79 L535.3,195.65 L536.3,197.5 L537.3,199.36 L538.3,201.21 L539.3,203.06 L540.3,204.92 L541.3,206.77 L542.3,208.63 L543.3,210.48 L544.3,212.33 L545.3,214.19 L546.3,216.04 L547.3,217.9 L548.3,219.75 L549.3,221.6 L550.3,223.46 L551.3,225.31 L552.3,227.17 L553.3,229.02 L554.3,230.87 L555.3,232.73 L556.3,234.58 L557.3,236.44 L558.3,238.29 L559.3,240.14 L560.3,241.7" stroke="#008000" stroke-width="3.4"/>
<path d="M392.3,46.4 C396.92,46.42 412.72,46.37 420,46.5 C427.28,46.63 431.13,46.68 436,47.2 C440.87,47.72 445.48,48.47 449.2,49.6 C452.92,50.73 455.25,52.05 458.3,54 C461.35,55.95 464.43,58.75 467.5,61.3 C470.57,63.85 473.63,66.58 476.7,69.3 C479.77,72.02 482.9,74.78 485.9,77.6 C488.9,80.42 490.78,82.42 494.7,86.2 C498.62,89.98 504.52,95.42 509.4,100.3 C514.28,105.18 519.12,110.4 524,115.5 C528.88,120.6 533.8,125.77 538.7,130.9 C543.6,136.03 546,138.48 553.4,146.3 C560.8,154.12 574.87,169.03 583.1,177.8 C591.33,186.57 593.03,188.25 602.8,198.9 C612.57,209.55 635.22,234.57 641.7,241.7" stroke="#ff0000" stroke-width="3.8"/>
<g stroke="#ff0000" stroke-width="1.7" stroke-dasharray="4.4 1.9" stroke-linecap="butt">
<path d="M392.3,70.2 L393.3,70.2 L394.3,70.2 L395.3,70.2 L396.3,70.2 L397.3,70.2 L398.3,70.2 L399.3,70.2 L400.3,70.2 L401.3,70.2 L402.3,70.2 L403.3,70.2 L404.3,70.2 L405.3,70.2 L406.3,70.2 L407.3,70.2 L408.3,70.2 L409.3,70.2 L410.3,70.2 L411.3,70.2 L412.3,70.2 L413.3,70.2 L414.3,70.2 L415.3,70.2 L416.3,70.2 L417.3,70.2 L418.3,70.2 L419.3,70.2 L420.3,70.2 L421.3,70.2 L422.3,70.2 L423.3,70.2 L424.3,70.2 L425.3,70.2 L426.3,70.2 L427.3,70.2 L428.3,70.2 L429.3,70.2 L430.3,70.2 L431.3,70.2 L432.3,70.2 L433.3,70.2 L434.3,70.2 L435.3,70.2 L436.3,70.2 L437.3,70.2 L438.3,70.2 L439.3,70.2 L440.3,70.2 L441.3,70.2 L442.3,70.2 L443.3,70.2 L444.3,70.2 L445.3,70.2 L446.3,70.2 L447.3,70.2 L448.3,70.2 L449.3,70.2 L450.3,70.2 L451.3,70.2 L452.3,70.2 L453.3,70.2 L454.3,70.2 L455.3,70.2 L456.3,70.2 L457.3,70.2 L458.3,70.21 L459.3,70.21 L460.3,70.21 L461.3,70.22 L462.3,70.22 L463.3,70.23 L464.3,70.24 L465.3,70.26 L466.3,70.29 L467.3,70.32 L468.3,70.37 L469.3,70.43 L470.3,70.52 L471.3,70.64 L472.3,70.8 L473.3,71.02 L474.3,71.32 L475.3,71.71 L476.3,72.2 L477.3,72.83 L478.3,73.61 L479.3,74.53 L480.3,75.61 L481.3,76.83 L482.3,78.18 L483.3,79.65 L484.3,81.2 L485.3,82.83 L486.3,84.52 L487.3,86.25 L488.3,88.01 L489.3,89.79 L490.3,91.6 L491.3,93.42 L492.3,95.24 L493.3,97.07 L494.3,98.91 L495.3,100.75 L496.3,102.6 L497.3,104.44 L498.3,106.29 L499.3,108.14 L500.3,109.98 L501.3,111.83 L502.3,113.68 L503.3,115.53 L504.3,117.38 L505.3,119.23 L506.3,121.08 L507.3,122.93 L508.3,124.78 L509.3,126.63 L510.3,128.48 L511.3,130.33 L512.3,132.18 L513.3,134.03 L514.3,135.88 L515.3,137.73 L516.3,139.58 L517.3,141.43 L518.3,143.28 L519.3,145.13 L520.3,146.98 L521.3,148.83 L522.3,150.68 L523.3,152.53 L524.3,154.38 L525.3,156.23 L526.3,158.08 L527.3,159.93 L528.3,161.78 L529.3,163.63 L530.3,165.48 L531.3,167.33 L532.3,169.18 L533.3,171.03 L534.3,172.88 L535.3,174.73 L536.3,176.58 L537.3,178.43 L538.3,180.28 L539.3,182.13 L540.3,183.98 L541.3,185.83 L542.3,187.68 L543.3,189.53 L544.3,191.38 L545.3,193.23 L546.3,195.08 L547.3,196.93 L548.3,198.78 L549.3,200.63 L550.3,202.48 L551.3,204.33 L552.3,206.18 L553.3,208.03 L554.3,209.88 L555.3,211.73 L556.3,213.58 L557.3,215.43 L558.3,217.28 L559.3,219.13 L560.3,220.98 L561.3,222.83 L562.3,224.68 L563.3,226.53 L564.3,228.38 L565.3,230.23 L566.3,232.08 L567.3,233.93 L568.3,235.78 L569.3,237.63 L570.3,239.48 L571.3,241.33 L572.3,241.7"/>
<path d="M392.3,93.7 L393.3,93.7 L394.3,93.7 L395.3,93.7 L396.3,93.7 L397.3,93.7 L398.3,93.7 L399.3,93.7 L400.3,93.7 L401.3,93.7 L402.3,93.7 L403.3,93.7 L404.3,93.7 L405.3,93.7 L406.3,93.7 L407.3,93.7 L408.3,93.7 L409.3,93.7 L410.3,93.7 L411.3,93.7 L412.3,93.7 L413.3,93.7 L414.3,93.7 L415.3,93.7 L416.3,93.7 L417.3,93.7 L418.3,93.7 L419.3,93.7 L420.3,93.7 L421.3,93.7 L422.3,93.7 L423.3,93.7 L424.3,93.7 L425.3,93.7 L426.3,93.7 L427.3,93.7 L428.3,93.7 L429.3,93.7 L430.3,93.7 L431.3,93.7 L432.3,93.7 L433.3,93.7 L434.3,93.7 L435.3,93.7 L436.3,93.7 L437.3,93.7 L438.3,93.7 L439.3,93.7 L440.3,93.7 L441.3,93.7 L442.3,93.7 L443.3,93.7 L444.3,93.7 L445.3,93.7 L446.3,93.7 L447.3,93.7 L448.3,93.7 L449.3,93.7 L450.3,93.7 L451.3,93.7 L452.3,93.7 L453.3,93.7 L454.3,93.7 L455.3,93.7 L456.3,93.7 L457.3,93.7 L458.3,93.7 L459.3,93.7 L460.3,93.7 L461.3,93.7 L462.3,93.7 L463.3,93.7 L464.3,93.7 L465.3,93.7 L466.3,93.7 L467.3,93.7 L468.3,93.7 L469.3,93.7 L470.3,93.7 L471.3,93.7 L472.3,93.7 L473.3,93.7 L474.3,93.7 L475.3,93.7 L476.3,93.7 L477.3,93.7 L478.3,93.7 L479.3,93.7 L480.3,93.7 L481.3,93.7 L482.3,93.71 L483.3,93.71 L484.3,93.71 L485.3,93.71 L486.3,93.72 L487.3,93.73 L488.3,93.74 L489.3,93.76 L490.3,93.78 L491.3,93.81 L492.3,93.85 L493.3,93.91 L494.3,93.99 L495.3,94.1 L496.3,94.25 L497.3,94.45 L498.3,94.72 L499.3,95.08 L500.3,95.54 L501.3,96.13 L502.3,96.86 L503.3,97.74 L504.3,98.77 L505.3,99.95 L506.3,101.26 L507.3,102.69 L508.3,104.22 L509.3,105.83 L510.3,107.5 L511.3,109.22 L512.3,110.97 L513.3,112.75 L514.3,114.55 L515.3,116.36 L516.3,118.19 L517.3,120.02 L518.3,121.85 L519.3,123.7 L520.3,125.54 L521.3,127.38 L522.3,129.23 L523.3,131.08 L524.3,132.92 L525.3,134.77 L526.3,136.62 L527.3,138.47 L528.3,140.32 L529.3,142.17 L530.3,144.02 L531.3,145.87 L532.3,147.72 L533.3,149.57 L534.3,151.42 L535.3,153.27 L536.3,155.12 L537.3,156.97 L538.3,158.82 L539.3,160.67 L540.3,162.52 L541.3,164.37 L542.3,166.22 L543.3,168.07 L544.3,169.92 L545.3,171.77 L546.3,173.62 L547.3,175.47 L548.3,177.32 L549.3,179.17 L550.3,181.02 L551.3,182.87 L552.3,184.72 L553.3,186.57 L554.3,188.42 L555.3,190.27 L556.3,192.12 L557.3,193.97 L558.3,195.82 L559.3,197.67 L560.3,199.52 L561.3,201.37 L562.3,203.22 L563.3,205.07 L564.3,206.92 L565.3,208.77 L566.3,210.62 L567.3,212.47 L568.3,214.32 L569.3,216.17 L570.3,218.02 L571.3,219.87 L572.3,221.72 L573.3,223.57 L574.3,225.42 L575.3,227.27 L576.3,229.12 L577.3,230.97 L578.3,232.82 L579.3,234.67 L580.3,236.52 L581.3,238.37 L582.3,240.22 L583.3,241.7"/>
<path d="M392.3,117.5 L393.3,117.5 L394.3,117.5 L395.3,117.5 L396.3,117.5 L397.3,117.5 L398.3,117.5 L399.3,117.5 L400.3,117.5 L401.3,117.5 L402.3,117.5 L403.3,117.5 L404.3,117.5 L405.3,117.5 L406.3,117.5 L407.3,117.5 L408.3,117.5 L409.3,117.5 L410.3,117.5 L411.3,117.5 L412.3,117.5 L413.3,117.5 L414.3,117.5 L415.3,117.5 L416.3,117.5 L417.3,117.5 L418.3,117.5 L419.3,117.5 L420.3,117.5 L421.3,117.5 L422.3,117.5 L423.3,117.5 L424.3,117.5 L425.3,117.5 L426.3,117.5 L427.3,117.5 L428.3,117.5 L429.3,117.5 L430.3,117.5 L431.3,117.5 L432.3,117.5 L433.3,117.5 L434.3,117.5 L435.3,117.5 L436.3,117.5 L437.3,117.5 L438.3,117.5 L439.3,117.5 L440.3,117.5 L441.3,117.5 L442.3,117.5 L443.3,117.5 L444.3,117.5 L445.3,117.5 L446.3,117.5 L447.3,117.5 L448.3,117.5 L449.3,117.5 L450.3,117.5 L451.3,117.5 L452.3,117.5 L453.3,117.5 L454.3,117.5 L455.3,117.5 L456.3,117.5 L457.3,117.5 L458.3,117.5 L459.3,117.5 L460.3,117.5 L461.3,117.5 L462.3,117.5 L463.3,117.5 L464.3,117.5 L465.3,117.5 L466.3,117.5 L467.3,117.5 L468.3,117.5 L469.3,117.5 L470.3,117.5 L471.3,117.5 L472.3,117.5 L473.3,117.5 L474.3,117.5 L475.3,117.5 L476.3,117.5 L477.3,117.5 L478.3,117.5 L479.3,117.5 L480.3,117.5 L481.3,117.5 L482.3,117.5 L483.3,117.5 L484.3,117.5 L485.3,117.5 L486.3,117.5 L487.3,117.5 L488.3,117.5 L489.3,117.5 L490.3,117.5 L491.3,117.5 L492.3,117.5 L493.3,117.5 L494.3,117.5 L495.3,117.5 L496.3,117.5 L497.3,117.5 L498.3,117.5 L499.3,117.5 L500.3,117.5 L501.3,117.5 L502.3,117.5 L503.3,117.5 L504.3,117.5 L505.3,117.5 L506.3,117.5 L507.3,117.51 L508.3,117.51 L509.3,117.51 L510.3,117.52 L511.3,117.53 L512.3,117.54 L513.3,117.55 L514.3,117.57 L515.3,117.6 L516.3,117.64 L517.3,117.69 L518.3,117.76 L519.3,117.87 L520.3,118 L521.3,118.19 L522.3,118.44 L523.3,118.77 L524.3,119.21 L525.3,119.76 L526.3,120.45 L527.3,121.29 L528.3,122.28 L529.3,123.42 L530.3,124.7 L531.3,126.1 L532.3,127.61 L533.3,129.2 L534.3,130.85 L535.3,132.56 L536.3,134.31 L537.3,136.08 L538.3,137.87 L539.3,139.68 L540.3,141.5 L541.3,143.33 L542.3,145.17 L543.3,147.01 L544.3,148.85 L545.3,150.69 L546.3,152.54 L547.3,154.39 L548.3,156.24 L549.3,158.08 L550.3,159.93 L551.3,161.78 L552.3,163.63 L553.3,165.48 L554.3,167.33 L555.3,169.18 L556.3,171.03 L557.3,172.88 L558.3,174.73 L559.3,176.58 L560.3,178.43 L561.3,180.28 L562.3,182.13 L563.3,183.98 L564.3,185.83 L565.3,187.68 L566.3,189.53 L567.3,191.38 L568.3,193.23 L569.3,195.08 L570.3,196.93 L571.3,198.78 L572.3,200.63 L573.3,202.48 L574.3,204.33 L575.3,206.18 L576.3,208.03 L577.3,209.88 L578.3,211.73 L579.3,213.58 L580.3,215.43 L581.3,217.28 L582.3,219.13 L583.3,220.98 L584.3,222.83 L585.3,224.68 L586.3,226.53 L587.3,228.38 L588.3,230.23 L589.3,232.08 L590.3,233.93 L591.3,235.78 L592.3,237.63 L593.3,239.48 L594.3,241.33 L595.3,241.7"/>
<path d="M392.3,141.8 L393.3,141.8 L394.3,141.8 L395.3,141.8 L396.3,141.8 L397.3,141.8 L398.3,141.8 L399.3,141.8 L400.3,141.8 L401.3,141.8 L402.3,141.8 L403.3,141.8 L404.3,141.8 L405.3,141.8 L406.3,141.8 L407.3,141.8 L408.3,141.8 L409.3,141.8 L410.3,141.8 L411.3,141.8 L412.3,141.8 L413.3,141.8 L414.3,141.8 L415.3,141.8 L416.3,141.8 L417.3,141.8 L418.3,141.8 L419.3,141.8 L420.3,141.8 L421.3,141.8 L422.3,141.8 L423.3,141.8 L424.3,141.8 L425.3,141.8 L426.3,141.8 L427.3,141.8 L428.3,141.8 L429.3,141.8 L430.3,141.8 L431.3,141.8 L432.3,141.8 L433.3,141.8 L434.3,141.8 L435.3,141.8 L436.3,141.8 L437.3,141.8 L438.3,141.8 L439.3,141.8 L440.3,141.8 L441.3,141.8 L442.3,141.8 L443.3,141.8 L444.3,141.8 L445.3,141.8 L446.3,141.8 L447.3,141.8 L448.3,141.8 L449.3,141.8 L450.3,141.8 L451.3,141.8 L452.3,141.8 L453.3,141.8 L454.3,141.8 L455.3,141.8 L456.3,141.8 L457.3,141.8 L458.3,141.8 L459.3,141.8 L460.3,141.8 L461.3,141.8 L462.3,141.8 L463.3,141.8 L464.3,141.8 L465.3,141.8 L466.3,141.8 L467.3,141.8 L468.3,141.8 L469.3,141.8 L470.3,141.8 L471.3,141.8 L472.3,141.8 L473.3,141.8 L474.3,141.8 L475.3,141.8 L476.3,141.8 L477.3,141.8 L478.3,141.8 L479.3,141.8 L480.3,141.8 L481.3,141.8 L482.3,141.8 L483.3,141.8 L484.3,141.8 L485.3,141.8 L486.3,141.8 L487.3,141.8 L488.3,141.8 L489.3,141.8 L490.3,141.8 L491.3,141.8 L492.3,141.8 L493.3,141.8 L494.3,141.8 L495.3,141.8 L496.3,141.8 L497.3,141.8 L498.3,141.8 L499.3,141.8 L500.3,141.8 L501.3,141.8 L502.3,141.8 L503.3,141.8 L504.3,141.8 L505.3,141.8 L506.3,141.8 L507.3,141.8 L508.3,141.8 L509.3,141.8 L510.3,141.8 L511.3,141.8 L512.3,141.8 L513.3,141.8 L514.3,141.8 L515.3,141.8 L516.3,141.8 L517.3,141.8 L518.3,141.8 L519.3,141.8 L520.3,141.8 L521.3,141.8 L522.3,141.8 L523.3,141.8 L524.3,141.8 L525.3,141.8 L526.3,141.8 L527.3,141.8 L528.3,141.8 L529.3,141.8 L530.3,141.8 L531.3,141.8 L532.3,141.81 L533.3,141.81 L534.3,141.81 L535.3,141.82 L536.3,141.82 L537.3,141.83 L538.3,141.85 L539.3,141.87 L540.3,141.89 L541.3,141.93 L542.3,141.98 L543.3,142.04 L544.3,142.14 L545.3,142.27 L546.3,142.44 L547.3,142.68 L548.3,142.99 L549.3,143.39 L550.3,143.92 L551.3,144.57 L552.3,145.38 L553.3,146.33 L554.3,147.44 L555.3,148.69 L556.3,150.06 L557.3,151.55 L558.3,153.12 L559.3,154.76 L560.3,156.46 L561.3,158.19 L562.3,159.96 L563.3,161.75 L564.3,163.56 L565.3,165.37 L566.3,167.2 L567.3,169.04 L568.3,170.87 L569.3,172.72 L570.3,174.56 L571.3,176.41 L572.3,178.25 L573.3,180.1 L574.3,181.95 L575.3,183.8 L576.3,185.65 L577.3,187.5 L578.3,189.35 L579.3,191.2 L580.3,193.05 L581.3,194.9 L582.3,196.75 L583.3,198.6 L584.3,200.45 L585.3,202.3 L586.3,204.15 L587.3,206 L588.3,207.85 L589.3,209.7 L590.3,211.55 L591.3,213.4 L592.3,215.25 L593.3,217.1 L594.3,218.95 L595.3,220.8 L596.3,222.65 L597.3,224.5 L598.3,226.35 L599.3,228.2 L600.3,230.05 L601.3,231.9 L602.3,233.75 L603.3,235.6 L604.3,237.45 L605.3,239.3 L606.3,241.15 L607.3,241.7"/>
<path d="M392.3,165.7 L393.3,165.7 L394.3,165.7 L395.3,165.7 L396.3,165.7 L397.3,165.7 L398.3,165.7 L399.3,165.7 L400.3,165.7 L401.3,165.7 L402.3,165.7 L403.3,165.7 L404.3,165.7 L405.3,165.7 L406.3,165.7 L407.3,165.7 L408.3,165.7 L409.3,165.7 L410.3,165.7 L411.3,165.7 L412.3,165.7 L413.3,165.7 L414.3,165.7 L415.3,165.7 L416.3,165.7 L417.3,165.7 L418.3,165.7 L419.3,165.7 L420.3,165.7 L421.3,165.7 L422.3,165.7 L423.3,165.7 L424.3,165.7 L425.3,165.7 L426.3,165.7 L427.3,165.7 L428.3,165.7 L429.3,165.7 L430.3,165.7 L431.3,165.7 L432.3,165.7 L433.3,165.7 L434.3,165.7 L435.3,165.7 L436.3,165.7 L437.3,165.7 L438.3,165.7 L439.3,165.7 L440.3,165.7 L441.3,165.7 L442.3,165.7 L443.3,165.7 L444.3,165.7 L445.3,165.7 L446.3,165.7 L447.3,165.7 L448.3,165.7 L449.3,165.7 L450.3,165.7 L451.3,165.7 L452.3,165.7 L453.3,165.7 L454.3,165.7 L455.3,165.7 L456.3,165.7 L457.3,165.7 L458.3,165.7 L459.3,165.7 L460.3,165.7 L461.3,165.7 L462.3,165.7 L463.3,165.7 L464.3,165.7 L465.3,165.7 L466.3,165.7 L467.3,165.7 L468.3,165.7 L469.3,165.7 L470.3,165.7 L471.3,165.7 L472.3,165.7 L473.3,165.7 L474.3,165.7 L475.3,165.7 L476.3,165.7 L477.3,165.7 L478.3,165.7 L479.3,165.7 L480.3,165.7 L481.3,165.7 L482.3,165.7 L483.3,165.7 L484.3,165.7 L485.3,165.7 L486.3,165.7 L487.3,165.7 L488.3,165.7 L489.3,165.7 L490.3,165.7 L491.3,165.7 L492.3,165.7 L493.3,165.7 L494.3,165.7 L495.3,165.7 L496.3,165.7 L497.3,165.7 L498.3,165.7 L499.3,165.7 L500.3,165.7 L501.3,165.7 L502.3,165.7 L503.3,165.7 L504.3,165.7 L505.3,165.7 L506.3,165.7 L507.3,165.7 L508.3,165.7 L509.3,165.7 L510.3,165.7 L511.3,165.7 L512.3,165.7 L513.3,165.7 L514.3,165.7 L515.3,165.7 L516.3,165.7 L517.3,165.7 L518.3,165.7 L519.3,165.7 L520.3,165.7 L521.3,165.7 L522.3,165.7 L523.3,165.7 L524.3,165.7 L525.3,165.7 L526.3,165.7 L527.3,165.7 L528.3,165.7 L529.3,165.7 L530.3,165.7 L531.3,165.7 L532.3,165.7 L533.3,165.7 L534.3,165.7 L535.3,165.7 L536.3,165.7 L537.3,165.7 L538.3,165.7 L539.3,165.7 L540.3,165.7 L541.3,165.7 L542.3,165.7 L543.3,165.7 L544.3,165.7 L545.3,165.7 L546.3,165.7 L547.3,165.7 L548.3,165.7 L549.3,165.7 L550.3,165.7 L551.3,165.7 L552.3,165.7 L553.3,165.7 L554.3,165.7 L555.3,165.7 L556.3,165.7 L557.3,165.71 L558.3,165.71 L559.3,165.71 L560.3,165.72 L561.3,165.73 L562.3,165.74 L563.3,165.75 L564.3,165.77 L565.3,165.8 L566.3,165.83 L567.3,165.89 L568.3,165.96 L569.3,166.06 L570.3,166.19 L571.3,166.38 L572.3,166.63 L573.3,166.95 L574.3,167.38 L575.3,167.93 L576.3,168.61 L577.3,169.44 L578.3,170.42 L579.3,171.56 L580.3,172.83 L581.3,174.23 L582.3,175.73 L583.3,177.31 L584.3,178.96 L585.3,180.67 L586.3,182.41 L587.3,184.18 L588.3,185.98 L589.3,187.78 L590.3,189.61 L591.3,191.43 L592.3,193.27 L593.3,195.11 L594.3,196.95 L595.3,198.79 L596.3,200.64 L597.3,202.49 L598.3,204.34 L599.3,206.18 L600.3,208.03 L601.3,209.88 L602.3,211.73 L603.3,213.58 L604.3,215.43 L605.3,217.28 L606.3,219.13 L607.3,220.98 L608.3,222.83 L609.3,224.68 L610.3,226.53 L611.3,228.38 L612.3,230.23 L613.3,232.08 L614.3,233.93 L615.3,235.78 L616.3,237.63 L617.3,239.48 L618.3,241.33 L619.3,241.7"/>
<path d="M392.3,190.8 L393.3,190.8 L394.3,190.8 L395.3,190.8 L396.3,190.8 L397.3,190.8 L398.3,190.8 L399.3,190.8 L400.3,190.8 L401.3,190.8 L402.3,190.8 L403.3,190.8 L404.3,190.8 L405.3,190.8 L406.3,190.8 L407.3,190.8 L408.3,190.8 L409.3,190.8 L410.3,190.8 L411.3,190.8 L412.3,190.8 L413.3,190.8 L414.3,190.8 L415.3,190.8 L416.3,190.8 L417.3,190.8 L418.3,190.8 L419.3,190.8 L420.3,190.8 L421.3,190.8 L422.3,190.8 L423.3,190.8 L424.3,190.8 L425.3,190.8 L426.3,190.8 L427.3,190.8 L428.3,190.8 L429.3,190.8 L430.3,190.8 L431.3,190.8 L432.3,190.8 L433.3,190.8 L434.3,190.8 L435.3,190.8 L436.3,190.8 L437.3,190.8 L438.3,190.8 L439.3,190.8 L440.3,190.8 L441.3,190.8 L442.3,190.8 L443.3,190.8 L444.3,190.8 L445.3,190.8 L446.3,190.8 L447.3,190.8 L448.3,190.8 L449.3,190.8 L450.3,190.8 L451.3,190.8 L452.3,190.8 L453.3,190.8 L454.3,190.8 L455.3,190.8 L456.3,190.8 L457.3,190.8 L458.3,190.8 L459.3,190.8 L460.3,190.8 L461.3,190.8 L462.3,190.8 L463.3,190.8 L464.3,190.8 L465.3,190.8 L466.3,190.8 L467.3,190.8 L468.3,190.8 L469.3,190.8 L470.3,190.8 L471.3,190.8 L472.3,190.8 L473.3,190.8 L474.3,190.8 L475.3,190.8 L476.3,190.8 L477.3,190.8 L478.3,190.8 L479.3,190.8 L480.3,190.8 L481.3,190.8 L482.3,190.8 L483.3,190.8 L484.3,190.8 L485.3,190.8 L486.3,190.8 L487.3,190.8 L488.3,190.8 L489.3,190.8 L490.3,190.8 L491.3,190.8 L492.3,190.8 L493.3,190.8 L494.3,190.8 L495.3,190.8 L496.3,190.8 L497.3,190.8 L498.3,190.8 L499.3,190.8 L500.3,190.8 L501.3,190.8 L502.3,190.8 L503.3,190.8 L504.3,190.8 L505.3,190.8 L506.3,190.8 L507.3,190.8 L508.3,190.8 L509.3,190.8 L510.3,190.8 L511.3,190.8 L512.3,190.8 L513.3,190.8 L514.3,190.8 L515.3,190.8 L516.3,190.8 L517.3,190.8 L518.3,190.8 L519.3,190.8 L520.3,190.8 L521.3,190.8 L522.3,190.8 L523.3,190.8 L524.3,190.8 L525.3,190.8 L526.3,190.8 L527.3,190.8 L528.3,190.8 L529.3,190.8 L530.3,190.8 L531.3,190.8 L532.3,190.8 L533.3,190.8 L534.3,190.8 L535.3,190.8 L536.3,190.8 L537.3,190.8 L538.3,190.8 L539.3,190.8 L540.3,190.8 L541.3,190.8 L542.3,190.8 L543.3,190.8 L544.3,190.8 L545.3,190.8 L546.3,190.8 L547.3,190.8 L548.3,190.8 L549.3,190.8 L550.3,190.8 L551.3,190.8 L552.3,190.8 L553.3,190.8 L554.3,190.8 L555.3,190.8 L556.3,190.8 L557.3,190.8 L558.3,190.8 L559.3,190.8 L560.3,190.8 L561.3,190.8 L562.3,190.8 L563.3,190.8 L564.3,190.8 L565.3,190.8 L566.3,190.8 L567.3,190.8 L568.3,190.8 L569.3,190.8 L570.3,190.8 L571.3,190.8 L572.3,190.8 L573.3,190.8 L574.3,190.8 L575.3,190.8 L576.3,190.8 L577.3,190.8 L578.3,190.8 L579.3,190.8 L580.3,190.8 L581.3,190.8 L582.3,190.81 L583.3,190.81 L584.3,190.81 L585.3,190.82 L586.3,190.82 L587.3,190.83 L588.3,190.85 L589.3,190.86 L590.3,190.89 L591.3,190.92 L592.3,190.97 L593.3,191.04 L594.3,191.13 L595.3,191.25 L596.3,191.42 L597.3,191.65 L598.3,191.96 L599.3,192.36 L600.3,192.87 L601.3,193.51 L602.3,194.3 L603.3,195.24 L604.3,196.34 L605.3,197.58 L606.3,198.94 L607.3,200.42 L608.3,201.98 L609.3,203.62 L610.3,205.31 L611.3,207.04 L612.3,208.81 L613.3,210.59 L614.3,212.4 L615.3,214.22 L616.3,216.04 L617.3,217.88 L618.3,219.72 L619.3,221.56 L620.3,223.4 L621.3,225.25 L622.3,227.09 L623.3,228.94 L624.3,230.79 L625.3,232.64 L626.3,234.49 L627.3,236.34 L628.3,238.19 L629.3,240.04 L630.3,241.7"/>
</g>
<rect x="532.5" y="167.2" width="41" height="22" fill="#fff" stroke="none"/>
<path d="M498.1,44.4L485.4,70.8M530.5,44.4L510.4,94.4M563.3,44.4L531.7,118M595.7,44.4L554.6,142.7M628.4,44.4L578.6,166.7" stroke="#000" stroke-width="1.5" stroke-linecap="butt"/>
</g>
<g fill="none" stroke-linecap="round" stroke-linejoin="round">
<path d="M393.3,373.1 C397.88,373.1 413.52,373.03 420.8,373.1 C428.08,373.17 433.43,373.25 437,373.5 C440.57,373.75 440.53,373.85 442.2,374.6 C443.87,375.35 445.4,376.35 447,378 C448.6,379.65 449.82,380.75 451.8,384.5 C453.78,388.25 456.12,393.05 458.9,400.5 C461.68,407.95 465.72,420.85 468.5,429.2 C471.28,437.55 472.82,444.05 475.6,450.6 C478.38,457.15 482.02,464.12 485.2,468.5 C488.38,472.88 490.73,475.02 494.7,476.9 C498.67,478.78 502.43,479.27 509,479.8 C515.57,480.33 509.22,480.05 534.1,480.1 C558.98,480.15 637.6,480.1 658.3,480.1" stroke="#008000" stroke-width="3"/>
<path d="M393.3,373.1 C397.88,373.1 413.43,373.02 420.8,373.1 C428.17,373.18 433.13,373.08 437.5,373.6 C441.87,374.12 443.83,374.5 447,376.2 C450.17,377.9 453.32,379.75 456.5,383.8 C459.68,387.85 462.92,394.22 466.1,400.5 C469.28,406.78 472.42,415.22 475.6,421.5 C478.78,427.78 482.02,434.12 485.2,438.2 C488.38,442.28 491.53,444.53 494.7,446 C497.87,447.47 501.42,447.18 504.2,447 C506.98,446.82 508.62,446.05 511.4,444.9 C514.18,443.75 517.12,442 520.9,440.1 C524.68,438.2 511.2,444.65 534.1,433.5 C557,422.35 637.6,383.25 658.3,373.2" stroke="#000" stroke-width="3.3"/>
</g>
<g font-family="Liberation Sans, sans-serif">
<text x="37.8" y="16.0" font-size="17" font-weight="bold" stroke="#000" stroke-width="0.45">a</text>
<text x="355.6" y="16.0" font-size="17" font-weight="bold" stroke="#000" stroke-width="0.45">b</text>
<path d="M29.29,47.90 L27.97,47.90 L27.97,39.50 Q26.70,40.55 25.30,41.24 L25.30,39.99 Q27.75,38.90 28.44,37.16 L29.29,37.16Z" fill="#000"/><text x="32.04" y="47.90" font-size="15.0" fill="#000">0</text><text x="41.28" y="42.00" font-size="10.0" fill="#000">2</text><path d="M50.57,42.00 L49.69,42.00 L49.69,36.40 Q48.84,37.10 47.91,37.56 L47.91,36.73 Q49.54,36.00 50.00,34.84 L50.57,34.84Z" fill="#000"/>
<path d="M29.29,131.65 L27.97,131.65 L27.97,123.25 Q26.70,124.30 25.30,124.99 L25.30,123.75 Q27.75,122.65 28.44,120.91 L29.29,120.91Z" fill="#000"/><text x="32.04" y="131.65" font-size="15.0" fill="#000">0</text><path d="M45.01,125.75 L44.13,125.75 L44.13,120.15 Q43.28,120.85 42.35,121.31 L42.35,120.48 Q43.98,119.75 44.44,118.59 L45.01,118.59Z" fill="#000"/><text x="46.84" y="125.75" font-size="10.0" fill="#000">9</text>
<path d="M29.29,215.40 L27.97,215.40 L27.97,207.00 Q26.70,208.05 25.30,208.74 L25.30,207.50 Q27.75,206.40 28.44,204.66 L29.29,204.66Z" fill="#000"/><text x="32.04" y="215.40" font-size="15.0" fill="#000">0</text><path d="M45.01,209.50 L44.13,209.50 L44.13,203.90 Q43.28,204.60 42.35,205.06 L42.35,204.23 Q43.98,203.50 44.44,202.34 L45.01,202.34Z" fill="#000"/><text x="46.84" y="209.50" font-size="10.0" fill="#000">7</text>
<path d="M35.40,441.30 L34.08,441.30 L34.08,432.90 Q32.80,433.95 31.41,434.64 L31.41,433.40 Q33.85,432.30 34.54,430.56 L35.40,430.56Z" fill="#000"/><text x="38.14" y="441.30" font-size="15.0" fill="#000">0</text><text x="47.38" y="435.40" font-size="10.0" fill="#000">0</text>
<path d="M85.90,519.60 L84.58,519.60 L84.58,511.20 Q83.30,512.25 81.91,512.94 L81.91,511.70 Q84.35,510.60 85.04,508.86 L85.90,508.86Z" fill="#000"/><text x="88.64" y="519.60" font-size="15.0" fill="#000">0</text><text x="97.88" y="513.70" font-size="10.0" fill="#000">-</text><text x="101.21" y="513.70" font-size="10.0" fill="#000">3</text>
<path d="M166.19,519.60 L164.88,519.60 L164.88,511.20 Q163.60,512.25 162.20,512.94 L162.20,511.70 Q164.65,510.60 165.34,508.86 L166.19,508.86Z" fill="#000"/><text x="168.94" y="519.60" font-size="15.0" fill="#000">0</text><text x="178.18" y="513.70" font-size="10.0" fill="#000">-</text><text x="181.51" y="513.70" font-size="10.0" fill="#000">2</text>
<path d="M245.80,519.60 L244.48,519.60 L244.48,511.20 Q243.20,512.25 241.81,512.94 L241.81,511.70 Q244.25,510.60 244.94,508.86 L245.80,508.86Z" fill="#000"/><text x="248.54" y="519.60" font-size="15.0" fill="#000">0</text><text x="257.78" y="513.70" font-size="10.0" fill="#000">-</text><path d="M264.84,513.70 L263.96,513.70 L263.96,508.10 Q263.11,508.80 262.18,509.26 L262.18,508.43 Q263.81,507.70 264.27,506.54 L264.84,506.54Z" fill="#000"/>
<path d="M331.60,519.60 L330.27,519.60 L330.27,511.20 Q329.00,512.25 327.61,512.94 L327.61,511.70 Q330.05,510.60 330.74,508.86 L331.60,508.86Z" fill="#000"/><text x="334.34" y="519.60" font-size="15.0" fill="#000">0</text><text x="343.58" y="513.70" font-size="10.0" fill="#000">0</text>
<path d="M406.10,519.60 L404.77,519.60 L404.77,511.20 Q403.50,512.25 402.11,512.94 L402.11,511.70 Q404.55,510.60 405.24,508.86 L406.10,508.86Z" fill="#000"/><text x="408.84" y="519.60" font-size="15.0" fill="#000">0</text><text x="418.08" y="513.70" font-size="10.0" fill="#000">-</text><text x="421.41" y="513.70" font-size="10.0" fill="#000">3</text>
<path d="M486.00,519.60 L484.67,519.60 L484.67,511.20 Q483.40,512.25 482.00,512.94 L482.00,511.70 Q484.45,510.60 485.14,508.86 L486.00,508.86Z" fill="#000"/><text x="488.74" y="519.60" font-size="15.0" fill="#000">0</text><text x="497.98" y="513.70" font-size="10.0" fill="#000">-</text><text x="501.31" y="513.70" font-size="10.0" fill="#000">2</text>
<path d="M566.70,519.60 L565.38,519.60 L565.38,511.20 Q564.10,512.25 562.71,512.94 L562.71,511.70 Q565.15,510.60 565.84,508.86 L566.70,508.86Z" fill="#000"/><text x="569.44" y="519.60" font-size="15.0" fill="#000">0</text><text x="578.68" y="513.70" font-size="10.0" fill="#000">-</text><path d="M585.74,513.70 L584.86,513.70 L584.86,508.10 Q584.01,508.80 583.08,509.26 L583.08,508.43 Q584.71,507.70 585.17,506.54 L585.74,506.54Z" fill="#000"/>
<path d="M651.60,519.60 L650.27,519.60 L650.27,511.20 Q649.00,512.25 647.61,512.94 L647.61,511.70 Q650.05,510.60 650.74,508.86 L651.60,508.86Z" fill="#000"/><text x="654.34" y="519.60" font-size="15.0" fill="#000">0</text><text x="663.58" y="513.70" font-size="10.0" fill="#000">0</text>
<text x="144.4" y="541.2" font-size="15.7" textLength="110" lengthAdjust="spacingAndGlyphs">Frequency (Hz)</text>
<text x="473.4" y="541.2" font-size="15.7" textLength="110" lengthAdjust="spacingAndGlyphs">Frequency (Hz)</text>
<text transform="translate(11.6,183.3) rotate(-90)" font-size="15.7" textLength="115.6" lengthAdjust="spacingAndGlyphs">Amplitude (N·m)</text>
<text transform="translate(15.5,427.3) rotate(-90)" font-size="15.8" textLength="99.8" lengthAdjust="spacingAndGlyphs">Spectral Ratio</text>
<text x="462" y="19.6" font-size="15" textLength="141.5" lengthAdjust="spacingAndGlyphs">small asperities with</text>
<text x="462" y="34.9" font-size="15" textLength="190.5" lengthAdjust="spacingAndGlyphs">variable corner frequencies</text>
<line x1="68.40" y1="15.20" x2="68.40" y2="30.40" stroke="#ff0000" stroke-width="1.15"/>
<text x="71.85" y="26.80" font-size="15.80" fill="#ff0000" font-style="italic">S</text>
<path d="M85.22,28.70 L84.29,28.70 L84.29,22.76 Q83.39,23.51 82.40,23.99 L82.40,23.11 Q84.13,22.34 84.62,21.11 L85.22,21.11Z" fill="#ff0000"/>
<text x="87.74" y="26.80" font-size="15.50" fill="#ff0000">(</text>
<text x="94.09" y="26.80" font-size="15.00" fill="#ff0000" font-style="italic">f</text>
<text x="99.81" y="26.80" font-size="15.50" fill="#ff0000">)</text>
<line x1="106.80" y1="15.20" x2="106.80" y2="30.40" stroke="#ff0000" stroke-width="1.15"/>
<line x1="68.40" y1="71.60" x2="68.40" y2="86.80" stroke="#0000ff" stroke-width="1.15"/>
<text x="71.85" y="83.20" font-size="15.80" fill="#0000ff" font-style="italic">S</text>
<text x="81.87" y="85.10" font-size="10.60" fill="#0000ff">2</text>
<text x="87.74" y="83.20" font-size="15.50" fill="#0000ff">(</text>
<text x="94.09" y="83.20" font-size="15.00" fill="#0000ff" font-style="italic">f</text>
<text x="99.81" y="83.20" font-size="15.50" fill="#0000ff">)</text>
<line x1="106.80" y1="71.60" x2="106.80" y2="86.80" stroke="#0000ff" stroke-width="1.15"/>
<line x1="460.00" y1="170.50" x2="460.00" y2="185.70" stroke="#0000ff" stroke-width="1.15"/>
<text x="463.49" y="182.10" font-size="14.50" fill="#0000ff" font-style="italic">S</text>
<text x="473.50" y="184.00" font-size="10.00" fill="#0000ff">2</text>
<text x="479.34" y="182.10" font-size="15.50" fill="#0000ff">(</text>
<text x="485.69" y="182.10" font-size="15.00" fill="#0000ff" font-style="italic">f</text>
<text x="491.41" y="182.10" font-size="15.50" fill="#0000ff">)</text>
<line x1="498.40" y1="170.50" x2="498.40" y2="185.70" stroke="#0000ff" stroke-width="1.15"/>
<line x1="533.40" y1="170.50" x2="533.40" y2="185.70" stroke="#008000" stroke-width="1.15"/>
<text x="536.89" y="182.10" font-size="14.50" fill="#008000" font-style="italic">S</text>
<text x="547.01" y="184.00" font-size="10.00" fill="#008000">0</text>
<text x="552.74" y="182.10" font-size="15.50" fill="#008000">(</text>
<text x="559.09" y="182.10" font-size="15.00" fill="#008000" font-style="italic">f</text>
<text x="564.81" y="182.10" font-size="15.50" fill="#008000">)</text>
<line x1="571.80" y1="170.50" x2="571.80" y2="185.70" stroke="#008000" stroke-width="1.15"/>
<line x1="600.40" y1="170.50" x2="600.40" y2="185.70" stroke="#ff0000" stroke-width="1.15"/>
<text x="603.89" y="182.10" font-size="14.50" fill="#ff0000" font-style="italic">S</text>
<path d="M617.06,184.00 L616.18,184.00 L616.18,178.40 Q615.33,179.10 614.40,179.56 L614.40,178.73 Q616.03,178.00 616.49,176.84 L617.06,176.84Z" fill="#ff0000"/>
<text x="619.74" y="182.10" font-size="15.50" fill="#ff0000">(</text>
<text x="626.09" y="182.10" font-size="15.00" fill="#ff0000" font-style="italic">f</text>
<text x="631.81" y="182.10" font-size="15.50" fill="#ff0000">)</text>
<line x1="638.80" y1="170.50" x2="638.80" y2="185.70" stroke="#ff0000" stroke-width="1.15"/>
<line x1="68.30" y1="385.90" x2="68.30" y2="401.10" stroke="#000" stroke-width="1.15"/>
<text x="71.75" y="397.50" font-size="15.80" fill="#000" font-style="italic">S</text>
<path d="M85.02,399.40 L84.09,399.40 L84.09,393.46 Q83.19,394.21 82.20,394.69 L82.20,393.81 Q83.93,393.04 84.42,391.81 L85.02,391.81Z" fill="#000"/>
<text x="87.64" y="397.50" font-size="15.50" fill="#000">(</text>
<text x="93.89" y="397.50" font-size="15.00" fill="#000" font-style="italic">f</text>
<text x="99.61" y="397.50" font-size="15.50" fill="#000">)</text>
<text x="106.38" y="397.50" font-size="15.50" fill="#000" font-style="italic">/</text>
<text x="113.55" y="397.50" font-size="15.80" fill="#000" font-style="italic">S</text>
<text x="122.57" y="399.40" font-size="10.60" fill="#000">2</text>
<text x="129.34" y="397.50" font-size="15.50" fill="#000">(</text>
<text x="135.39" y="397.50" font-size="15.00" fill="#000" font-style="italic">f</text>
<text x="141.41" y="397.50" font-size="15.50" fill="#000">)</text>
<line x1="148.30" y1="385.90" x2="148.30" y2="401.10" stroke="#000" stroke-width="1.15"/>
<line x1="556.60" y1="342.20" x2="556.60" y2="357.40" stroke="#000" stroke-width="1.15"/>
<text x="560.09" y="353.80" font-size="14.50" fill="#000" font-style="italic">S</text>
<path d="M573.16,355.70 L572.28,355.70 L572.28,350.10 Q571.43,350.80 570.50,351.26 L570.50,350.43 Q572.13,349.70 572.59,348.54 L573.16,348.54Z" fill="#000"/>
<text x="575.94" y="353.80" font-size="15.50" fill="#000">(</text>
<text x="582.19" y="353.80" font-size="15.00" fill="#000" font-style="italic">f</text>
<text x="587.91" y="353.80" font-size="15.50" fill="#000">)</text>
<text x="594.68" y="353.80" font-size="15.50" fill="#000" font-style="italic">/</text>
<text x="601.89" y="353.80" font-size="14.50" fill="#000" font-style="italic">S</text>
<text x="610.90" y="355.70" font-size="10.00" fill="#000">2</text>
<text x="617.64" y="353.80" font-size="15.50" fill="#000">(</text>
<text x="623.69" y="353.80" font-size="15.00" fill="#000" font-style="italic">f</text>
<text x="629.71" y="353.80" font-size="15.50" fill="#000">)</text>
<line x1="636.60" y1="342.20" x2="636.60" y2="357.40" stroke="#000" stroke-width="1.15"/>
<line x1="556.60" y1="455.50" x2="556.60" y2="470.70" stroke="#008000" stroke-width="1.15"/>
<text x="560.09" y="467.10" font-size="14.50" fill="#008000" font-style="italic">S</text>
<text x="570.11" y="469.00" font-size="10.00" fill="#008000">0</text>
<text x="575.94" y="467.10" font-size="15.50" fill="#008000">(</text>
<text x="582.19" y="467.10" font-size="15.00" fill="#008000" font-style="italic">f</text>
<text x="587.91" y="467.10" font-size="15.50" fill="#008000">)</text>
<text x="594.68" y="467.10" font-size="15.50" fill="#008000" font-style="italic">/</text>
<text x="601.89" y="467.10" font-size="14.50" fill="#008000" font-style="italic">S</text>
<text x="610.90" y="469.00" font-size="10.00" fill="#008000">2</text>
<text x="617.64" y="467.10" font-size="15.50" fill="#008000">(</text>
<text x="623.69" y="467.10" font-size="15.00" fill="#008000" font-style="italic">f</text>
<text x="629.71" y="467.10" font-size="15.50" fill="#008000">)</text>
<line x1="636.60" y1="455.50" x2="636.60" y2="470.70" stroke="#008000" stroke-width="1.15"/>
<text x="66.10" y="335.70" font-size="15.50" fill="#8c8c8c">[</text>
<line x1="72.50" y1="324.10" x2="72.50" y2="339.30" stroke="#8c8c8c" stroke-width="1.15"/>
<text x="75.88" y="335.70" font-size="15.00" fill="#8c8c8c" font-style="italic">U</text>
<path d="M90.56,337.60 L89.68,337.60 L89.68,332.00 Q88.83,332.70 87.90,333.16 L87.90,332.33 Q89.53,331.60 89.99,330.44 L90.56,330.44Z" fill="#8c8c8c"/>
<text x="92.54" y="335.70" font-size="15.50" fill="#8c8c8c">(</text>
<text x="98.89" y="335.70" font-size="15.00" fill="#8c8c8c" font-style="italic">f</text>
<text x="104.91" y="335.70" font-size="15.50" fill="#8c8c8c">)</text>
<text x="111.78" y="335.70" font-size="15.50" fill="#8c8c8c" font-style="italic">/</text>
<text x="118.48" y="335.70" font-size="15.00" fill="#8c8c8c" font-style="italic">U</text>
<text x="128.90" y="337.60" font-size="10.00" fill="#8c8c8c">2</text>
<text x="135.44" y="335.70" font-size="15.50" fill="#8c8c8c">(</text>
<text x="141.89" y="335.70" font-size="15.00" fill="#8c8c8c" font-style="italic">f</text>
<text x="147.91" y="335.70" font-size="15.50" fill="#8c8c8c">)</text>
<line x1="154.40" y1="324.10" x2="154.40" y2="339.30" stroke="#8c8c8c" stroke-width="1.15"/>
<text x="157.08" y="335.70" font-size="15.50" fill="#8c8c8c">]</text>
<text x="161.9" y="337.4" font-size="10.2" fill="#8c8c8c">mean</text>
<text x="167.19" y="267.20" font-size="15.20" fill="#ff0000" font-style="italic">f</text>
<text x="171.6" y="270.8" font-size="10.5" fill="#ff0000">c</text><path d="M180.77,270.80 L179.84,270.80 L179.84,264.92 Q178.95,265.66 177.97,266.14 L177.97,265.27 Q179.69,264.50 180.17,263.28 L180.77,263.28Z" fill="#ff0000"/>
<text x="214.89" y="267.20" font-size="15.20" fill="#0000ff" font-style="italic">f</text>
<text x="219.3" y="270.8" font-size="10.5" fill="#0000ff">c2</text>
</g>
</svg>
</body></html>
